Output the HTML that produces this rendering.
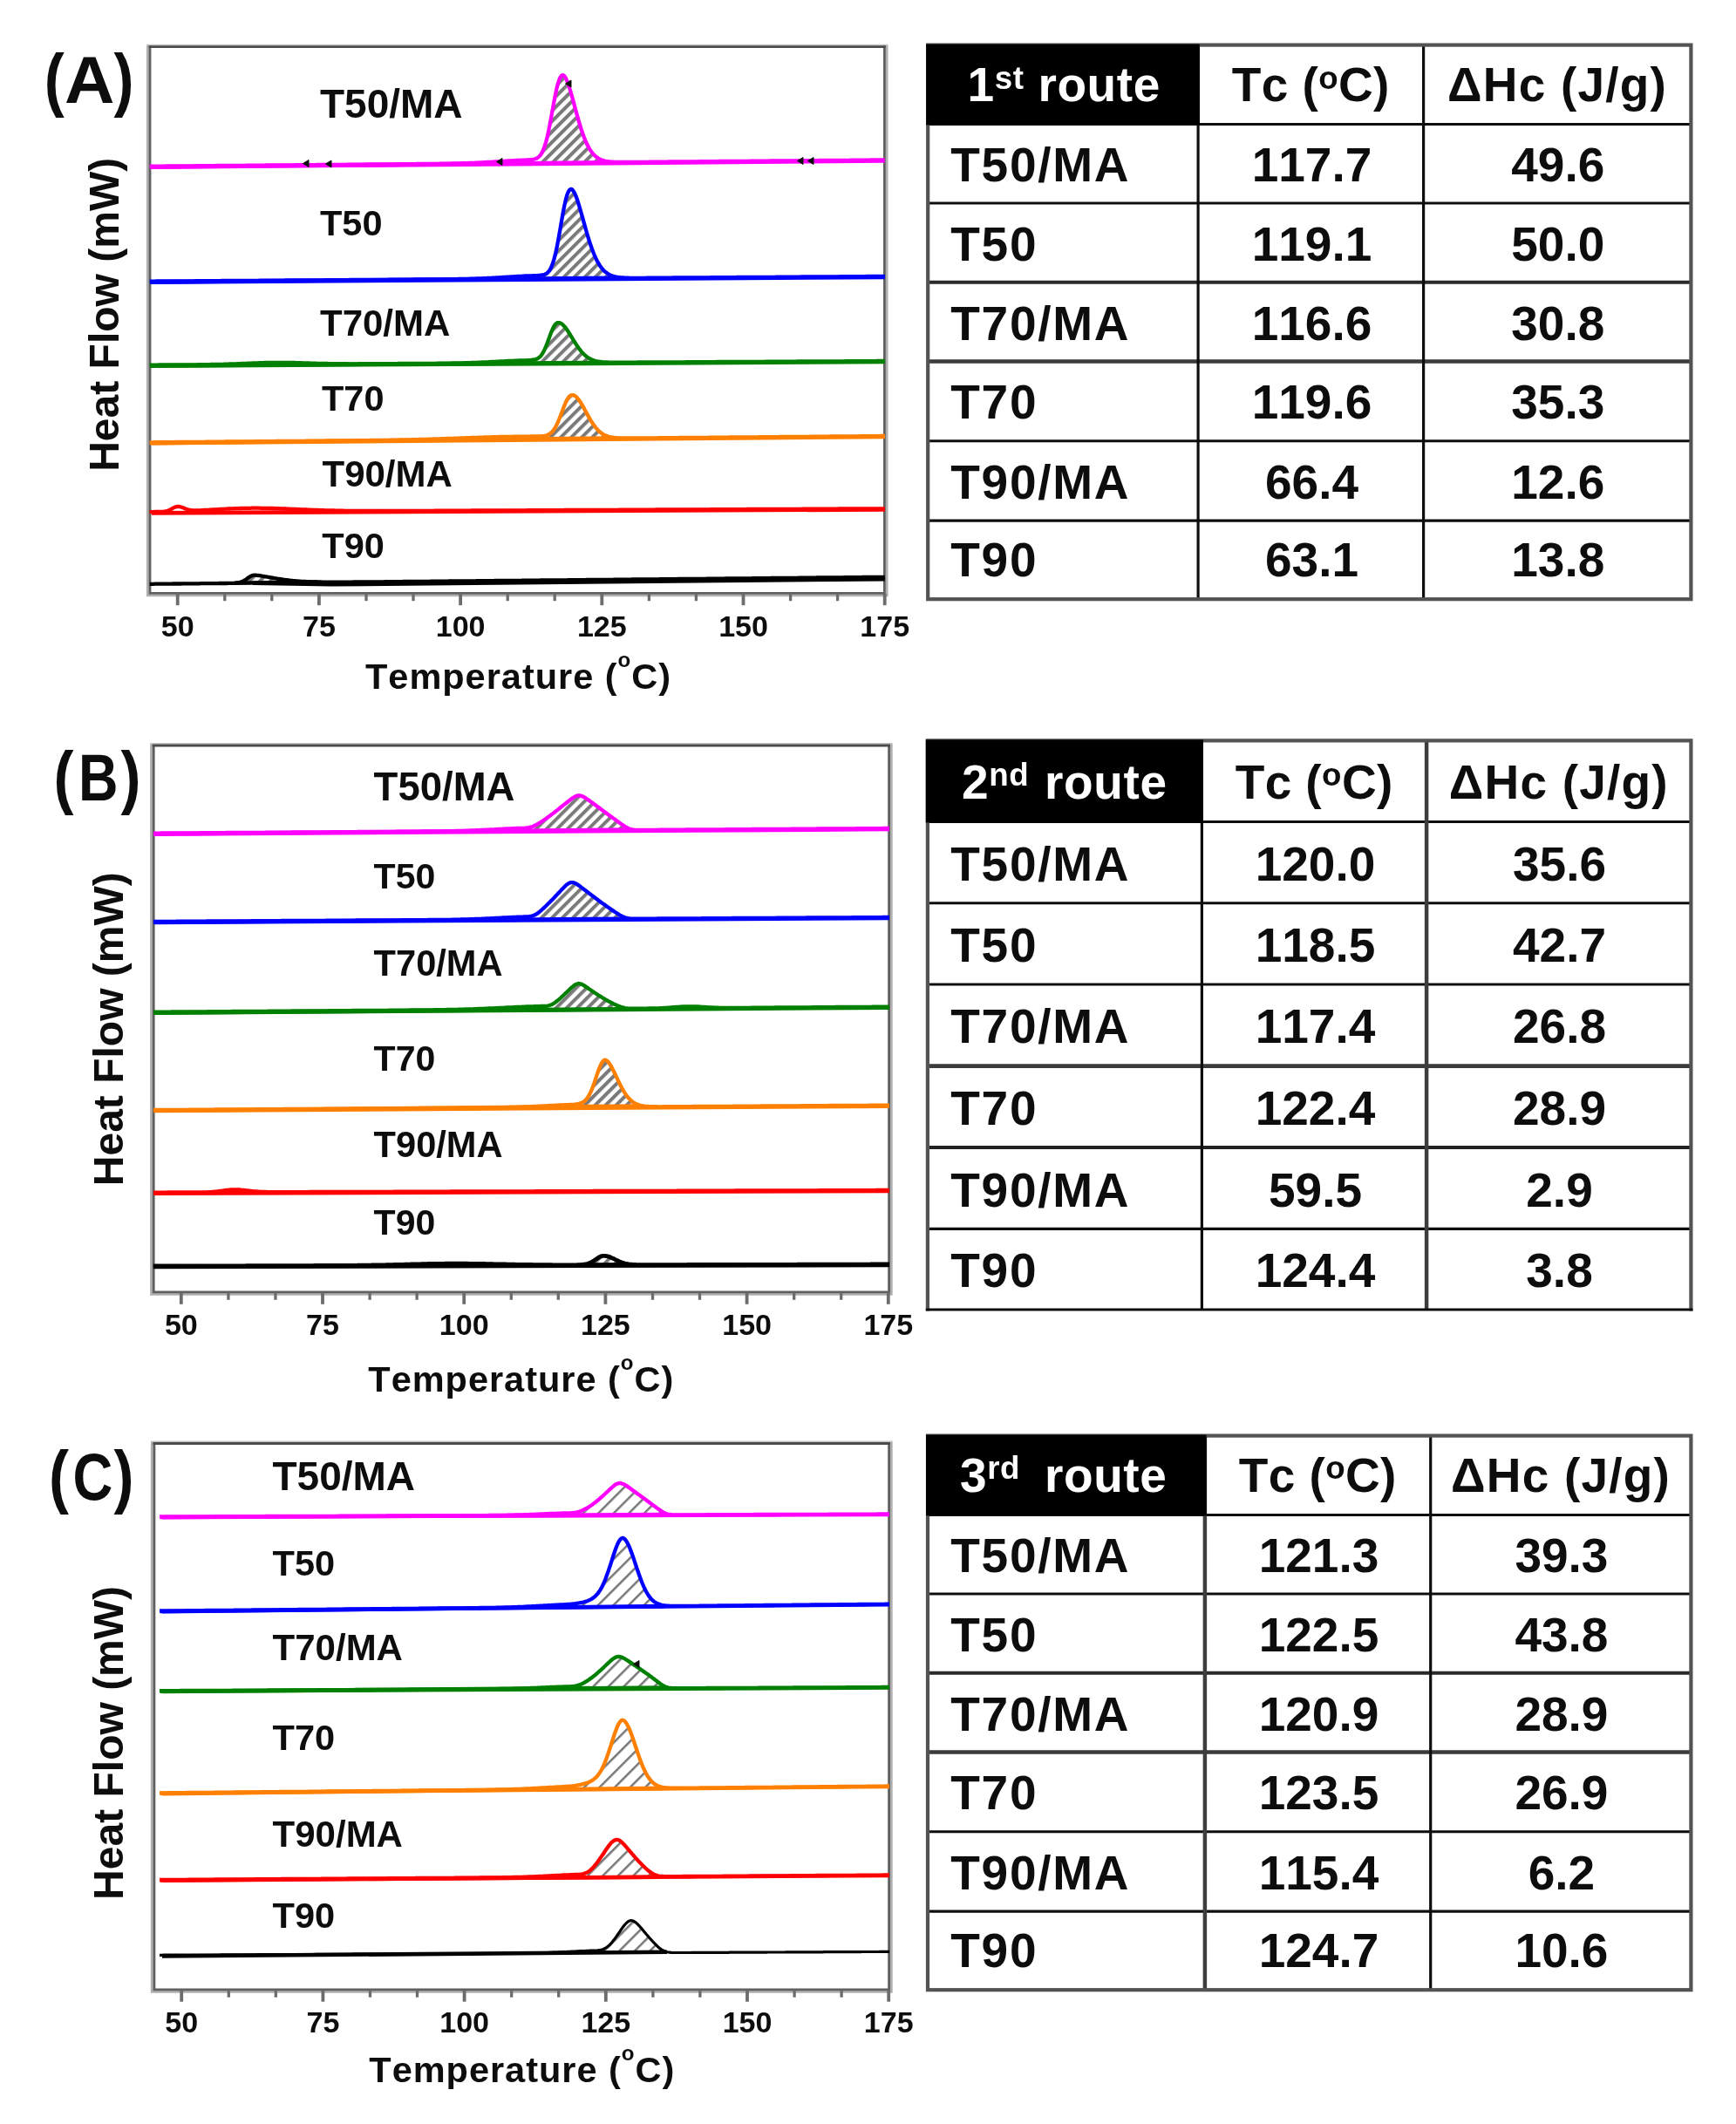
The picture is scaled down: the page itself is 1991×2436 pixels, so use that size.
<!DOCTYPE html>
<html lang="en"><head><meta charset="utf-8"><title>DSC cooling curves</title>
<style>html,body{margin:0;padding:0;background:#fff}body{width:1991px;height:2436px;overflow:hidden}svg{display:block}text{font-family:"Liberation Sans", Arial, Helvetica, sans-serif;fill:#111;font-kerning:none}.b{font-weight:700}.n{font-weight:400}.w{fill:#fff}.s1{letter-spacing:1.7px}.s4{letter-spacing:0.6px}.s2{letter-spacing:0.4px}.s3{letter-spacing:1.2px}</style></head><body>
<svg width="1991" height="2436" viewBox="0 0 1991 2436">
<defs><filter id="soft" x="-2%" y="-2%" width="104%" height="104%"><feGaussianBlur stdDeviation="0.7"/></filter><filter id="soft2" x="-2%" y="-2%" width="104%" height="104%"><feGaussianBlur stdDeviation="0.5"/></filter><pattern id="hatch" width="8.5" height="8.5" patternUnits="userSpaceOnUse" patternTransform="rotate(45)"><rect width="8.5" height="8.5" fill="#fff"/><rect x="0" y="0" width="4" height="8.5" fill="#7a7a7a"/></pattern><pattern id="hatch2" width="12.4" height="12.4" patternUnits="userSpaceOnUse" patternTransform="rotate(45)"><rect width="12.4" height="12.4" fill="#fff"/><rect x="0" y="0" width="2.5" height="12.4" fill="#777"/></pattern></defs>
<rect width="1991" height="2436" fill="#fff"/>
<g filter="url(#soft)">
<path d="M169.4 51.9 V682.7 H1017 V51.9" fill="none" stroke="#b0b0b0" stroke-width="3"/>
<path d="M172 52.1 V680.3 H1014.4 V52.1" fill="none" stroke="#606060" stroke-width="2.8"/>
<path d="M168 51.6 H1018.4" fill="none" stroke="#c4c4c4" stroke-width="1.6"/>
<path d="M170.6 53.7 H1015.8" fill="none" stroke="#4c4c4c" stroke-width="2.8"/>
<path d="M617.2 180.5 L618.7 179.2 L620.2 177.4 L621.7 174.9 L623.2 171.7 L624.7 167.6 L626.2 162.6 L627.7 156.7 L629.2 149.9 L630.7 142.3 L632.2 134.2 L633.7 125.9 L635.2 117.6 L636.7 109.8 L638.2 102.6 L639.7 96.6 L641.2 91.8 L642.7 88.5 L644.2 86.6 L645.7 86.1 L647.2 87 L648.7 89.3 L650.2 92.5 L651.7 96.4 L653.2 101 L654.7 106 L656.2 111.3 L657.7 116.8 L659.2 122.4 L660.7 128 L662.2 133.4 L663.7 138.7 L665.2 143.7 L666.7 148.5 L668.2 152.9 L669.7 157 L671.2 160.8 L672.7 164.2 L674.2 167.3 L675.7 170 L677.2 172.5 L678.7 174.6 L680.2 176.4 L681.7 178 L683.2 179.4 L684.7 180.6 L686.2 181.6 L687.7 182.4 L689.2 183.1 L690.7 183.7 L692.2 184.2 L693.7 184.6 L695.2 184.9 L696.7 185.1 L698.2 185.3 L699.7 185.5 L699.7 186.3 L617.2 187.1 Z" fill="url(#hatch)" stroke="none"/>
<path d="M174.6 191.5 L699.7 186.3" stroke="#ff00ff" stroke-width="4.6" fill="none"/>
<path d="M172.1 191.7 L1014.8 184.4" stroke="#ff00ff" stroke-width="4.6" fill="none"/>
<path d="M171.6 190.7 L173.1 190.7 L174.6 190.7 L176.1 190.7 L177.6 190.6 L179.1 190.6 L180.6 190.6 L182.1 190.6 L183.6 190.6 L185.1 190.6 L186.6 190.6 L188.1 190.6 L189.6 190.5 L191.1 190.5 L192.6 190.5 L194.1 190.5 L195.6 190.5 L197.1 190.5 L198.6 190.5 L200.1 190.5 L201.6 190.4 L203.1 190.4 L204.6 190.4 L206.1 190.4 L207.6 190.4 L209.1 190.4 L210.6 190.4 L212.1 190.3 L213.6 190.3 L215.1 190.3 L216.6 190.3 L218.1 190.3 L219.6 190.3 L221.1 190.3 L222.6 190.3 L224.1 190.2 L225.6 190.2 L227.1 190.2 L228.6 190.2 L230.1 190.2 L231.6 190.2 L233.1 190.2 L234.6 190.2 L236.1 190.1 L237.6 190.1 L239.1 190.1 L240.6 190.1 L242.1 190.1 L243.6 190.1 L245.1 190.1 L246.6 190.1 L248.1 190 L249.6 190 L251.1 190 L252.6 190 L254.1 190 L255.6 190 L257.1 190 L258.6 189.9 L260.1 189.9 L261.6 189.9 L263.1 189.9 L264.6 189.9 L266.1 189.9 L267.6 189.9 L269.1 189.9 L270.6 189.8 L272.1 189.8 L273.6 189.8 L275.1 189.8 L276.6 189.8 L278.1 189.8 L279.6 189.8 L281.1 189.8 L282.6 189.7 L284.1 189.7 L285.6 189.7 L287.1 189.7 L288.6 189.7 L290.1 189.7 L291.6 189.7 L293.1 189.6 L294.6 189.6 L296.1 189.6 L297.6 189.6 L299.1 189.6 L300.6 189.6 L302.1 189.6 L303.6 189.6 L305.1 189.5 L306.6 189.5 L308.1 189.5 L309.6 189.5 L311.1 189.5 L312.6 189.5 L314.1 189.5 L315.6 189.5 L317.1 189.4 L318.6 189.4 L320.1 189.4 L321.6 189.4 L323.1 189.4 L324.6 189.4 L326.1 189.4 L327.6 189.3 L329.1 189.3 L330.6 189.3 L332.1 189.3 L333.6 189.3 L335.1 189.3 L336.6 189.3 L338.1 189.3 L339.6 189.2 L341.1 189.2 L342.6 189.2 L344.1 189.2 L345.6 189.2 L347.1 189.2 L348.6 189.2 L350.1 189.2 L351.6 189.1 L353.1 189.1 L354.6 189.1 L356.1 189.1 L357.6 189.1 L359.1 189.1 L360.6 189.1 L362.1 189.1 L363.6 189 L365.1 189 L366.6 189 L368.1 189 L369.6 189 L371.1 189 L372.6 189 L374.1 188.9 L375.6 188.9 L377.1 188.9 L378.6 188.9 L380.1 188.9 L381.6 188.9 L383.2 188.9 L384.7 188.9 L386.2 188.8 L387.7 188.8 L389.2 188.8 L390.7 188.8 L392.2 188.8 L393.7 188.8 L395.2 188.8 L396.7 188.8 L398.2 188.7 L399.7 188.7 L401.2 188.7 L402.7 188.7 L404.2 188.7 L405.7 188.7 L407.2 188.7 L408.7 188.6 L410.2 188.6 L411.7 188.6 L413.2 188.6 L414.7 188.6 L416.2 188.6 L417.7 188.6 L419.2 188.6 L420.7 188.5 L422.2 188.5 L423.7 188.5 L425.2 188.5 L426.7 188.5 L428.2 188.5 L429.7 188.5 L431.2 188.5 L432.7 188.4 L434.2 188.4 L435.7 188.4 L437.2 188.4 L438.7 188.4 L440.2 188.4 L441.7 188.4 L443.2 188.3 L444.7 188.3 L446.2 188.3 L447.7 188.3 L449.2 188.3 L450.7 188.3 L452.2 188.3 L453.7 188.3 L455.2 188.2 L456.7 188.2 L458.2 188.2 L459.7 188.2 L461.2 188.2 L462.7 188.2 L464.2 188.2 L465.7 188.2 L467.2 188.1 L468.7 188.1 L470.2 188.1 L471.7 188.1 L473.2 188.1 L474.7 188.1 L476.2 188.1 L477.7 188 L479.2 188 L480.7 188 L482.2 188 L483.7 188 L485.2 188 L486.7 188 L488.2 187.9 L489.7 187.9 L491.2 187.9 L492.7 187.9 L494.2 187.9 L495.7 187.9 L497.2 187.8 L498.7 187.8 L500.2 187.8 L501.7 187.8 L503.2 187.8 L504.7 187.7 L506.2 187.7 L507.7 187.7 L509.2 187.7 L510.7 187.7 L512.2 187.6 L513.7 187.6 L515.2 187.6 L516.7 187.6 L518.2 187.5 L519.7 187.5 L521.2 187.5 L522.7 187.4 L524.2 187.4 L525.7 187.4 L527.2 187.3 L528.7 187.3 L530.2 187.2 L531.7 187.2 L533.2 187.2 L534.7 187.1 L536.2 187.1 L537.7 187 L539.2 186.9 L540.7 186.9 L542.2 186.8 L543.7 186.8 L545.2 186.7 L546.7 186.6 L548.2 186.6 L549.7 186.5 L551.2 186.4 L552.7 186.4 L554.2 186.3 L555.7 186.2 L557.2 186.1 L558.7 186 L560.2 185.9 L561.7 185.9 L563.2 185.8 L564.7 185.7 L566.2 185.6 L567.7 185.5 L569.2 185.4 L570.7 185.3 L572.2 185.2 L573.7 185.1 L575.2 185 L576.7 184.9 L578.2 184.8 L579.7 184.7 L581.2 184.6 L582.7 184.5 L584.2 184.4 L585.7 184.4 L587.2 184.3 L588.7 184.2 L590.2 184.1 L591.7 184 L593.2 183.9 L594.7 183.9 L596.2 183.8 L597.7 183.7 L599.2 183.7 L600.7 183.6 L602.2 183.6 L603.7 183.5 L605.2 183.4 L606.7 183.4 L608.2 183.2 L609.7 183.1 L611.2 182.8 L612.7 182.5 L614.2 182 L615.7 181.4 L617.2 180.5 L618.7 179.2 L620.2 177.4 L621.7 174.9 L623.2 171.7 L624.7 167.6 L626.2 162.6 L627.7 156.7 L629.2 149.9 L630.7 142.3 L632.2 134.2 L633.7 125.9 L635.2 117.6 L636.7 109.8 L638.2 102.6 L639.7 96.6 L641.2 91.8 L642.7 88.5 L644.2 86.6 L645.7 86.1 L647.2 87 L648.7 89.3 L650.2 92.5 L651.7 96.4 L653.2 101 L654.7 106 L656.2 111.3 L657.7 116.8 L659.2 122.4 L660.7 128 L662.2 133.4 L663.7 138.7 L665.2 143.7 L666.7 148.5 L668.2 152.9 L669.7 157 L671.2 160.8 L672.7 164.2 L674.2 167.3 L675.7 170 L677.2 172.5 L678.7 174.6 L680.2 176.4 L681.7 178 L683.2 179.4 L684.7 180.6 L686.2 181.6 L687.7 182.4 L689.2 183.1 L690.7 183.7 L692.2 184.2 L693.7 184.6 L695.2 184.9 L696.7 185.1 L698.2 185.3 L699.7 185.5 L701.2 185.6 L702.7 185.7 L704.2 185.8 L705.7 185.9 L707.2 185.9 L708.7 185.9 L710.2 185.9 L711.7 186 L713.2 186 L714.7 186 L716.2 186 L717.7 185.9 L719.2 185.9 L720.7 185.9 L722.2 185.9 L723.7 185.9 L725.2 185.9 L726.7 185.9 L728.2 185.9 L729.7 185.9 L731.2 185.9 L732.7 185.8 L734.2 185.8 L735.7 185.8 L737.2 185.8 L738.7 185.8 L740.2 185.8 L741.7 185.8 L743.2 185.8 L744.7 185.7 L746.2 185.7 L747.7 185.7 L749.2 185.7 L750.7 185.7 L752.2 185.7 L753.7 185.7 L755.2 185.6 L756.7 185.6 L758.2 185.6 L759.7 185.6 L761.2 185.6 L762.7 185.6 L764.2 185.6 L765.7 185.6 L767.2 185.5 L768.7 185.5 L770.2 185.5 L771.7 185.5 L773.2 185.5 L774.7 185.5 L776.2 185.5 L777.7 185.5 L779.2 185.4 L780.7 185.4 L782.2 185.4 L783.7 185.4 L785.2 185.4 L786.7 185.4 L788.2 185.4 L789.7 185.3 L791.2 185.3 L792.7 185.3 L794.2 185.3 L795.7 185.3 L797.2 185.3 L798.7 185.3 L800.2 185.3 L801.7 185.2 L803.2 185.2 L804.8 185.2 L806.3 185.2 L807.8 185.2 L809.3 185.2 L810.8 185.2 L812.3 185.2 L813.8 185.1 L815.3 185.1 L816.8 185.1 L818.3 185.1 L819.8 185.1 L821.3 185.1 L822.8 185.1 L824.3 185 L825.8 185 L827.3 185 L828.8 185 L830.3 185 L831.8 185 L833.3 185 L834.8 185 L836.3 184.9 L837.8 184.9 L839.3 184.9 L840.8 184.9 L842.3 184.9 L843.8 184.9 L845.3 184.9 L846.8 184.9 L848.3 184.8 L849.8 184.8 L851.3 184.8 L852.8 184.8 L854.3 184.8 L855.8 184.8 L857.3 184.8 L858.8 184.8 L860.3 184.7 L861.8 184.7 L863.3 184.7 L864.8 184.7 L866.3 184.7 L867.8 184.7 L869.3 184.7 L870.8 184.6 L872.3 184.6 L873.8 184.6 L875.3 184.6 L876.8 184.6 L878.3 184.6 L879.8 184.6 L881.3 184.6 L882.8 184.5 L884.3 184.5 L885.8 184.5 L887.3 184.5 L888.8 184.5 L890.3 184.5 L891.8 184.5 L893.3 184.5 L894.8 184.4 L896.3 184.4 L897.8 184.4 L899.3 184.4 L900.8 184.4 L902.3 184.4 L903.8 184.4 L905.3 184.3 L906.8 184.3 L908.3 184.3 L909.8 184.3 L911.3 184.3 L912.8 184.3 L914.3 184.3 L915.8 184.3 L917.3 184.2 L918.8 184.2 L920.3 184.2 L921.8 184.2 L923.3 184.2 L924.8 184.2 L926.3 184.2 L927.8 184.2 L929.3 184.1 L930.8 184.1 L932.3 184.1 L933.8 184.1 L935.3 184.1 L936.8 184.1 L938.3 184.1 L939.8 184 L941.3 184 L942.8 184 L944.3 184 L945.8 184 L947.3 184 L948.8 184 L950.3 184 L951.8 183.9 L953.3 183.9 L954.8 183.9 L956.3 183.9 L957.8 183.9 L959.3 183.9 L960.8 183.9 L962.3 183.9 L963.8 183.8 L965.3 183.8 L966.8 183.8 L968.3 183.8 L969.8 183.8 L971.3 183.8 L972.8 183.8 L974.3 183.8 L975.8 183.7 L977.3 183.7 L978.8 183.7 L980.3 183.7 L981.8 183.7 L983.3 183.7 L984.8 183.7 L986.3 183.6 L987.8 183.6 L989.3 183.6 L990.8 183.6 L992.3 183.6 L993.8 183.6 L995.3 183.6 L996.8 183.6 L998.3 183.5 L999.8 183.5 L1001.3 183.5 L1002.8 183.5 L1004.3 183.5 L1005.8 183.5 L1007.3 183.5 L1008.8 183.5 L1010.3 183.4 L1011.8 183.4 L1013.3 183.4 L1014.8 183.4" fill="none" stroke="#ff00ff" stroke-width="4.3" stroke-linejoin="round"/>
<path d="M623.2 315.2 L624.7 314.7 L626.2 314.1 L627.7 313.1 L629.2 311.6 L630.7 309.5 L632.2 306.6 L633.7 302.8 L635.2 298.1 L636.7 292.4 L638.2 285.8 L639.7 278.2 L641.2 270 L642.7 261.4 L644.2 252.6 L645.7 244.2 L647.2 236.4 L648.7 229.6 L650.2 224.1 L651.7 220.2 L653.2 217.8 L654.7 216.9 L656.2 217.4 L657.7 219.2 L659.2 221.9 L660.7 225.5 L662.2 229.6 L663.7 234.3 L665.2 239.3 L666.7 244.5 L668.2 249.9 L669.7 255.3 L671.2 260.7 L672.7 266 L674.2 271.1 L675.7 275.9 L677.2 280.5 L678.7 284.8 L680.2 288.8 L681.7 292.5 L683.2 295.9 L684.7 299 L686.2 301.7 L687.7 304.2 L689.2 306.3 L690.7 308.2 L692.2 309.9 L693.7 311.4 L695.2 312.6 L696.7 313.7 L698.2 314.6 L699.7 315.4 L701.2 316 L702.7 316.6 L704.2 317 L705.7 317.4 L707.2 317.7 L708.7 317.9 L708.7 318.7 L623.2 319.5 Z" fill="url(#hatch)" stroke="none"/>
<path d="M174.6 323.4 L708.7 318.7" stroke="#0000ff" stroke-width="4.6" fill="none"/>
<path d="M172.1 323.6 L1014.8 317.9" stroke="#0000ff" stroke-width="4.6" fill="none"/>
<path d="M171.6 322.6 L173.1 322.6 L174.6 322.6 L176.1 322.6 L177.6 322.6 L179.1 322.5 L180.6 322.5 L182.1 322.5 L183.6 322.5 L185.1 322.5 L186.6 322.5 L188.1 322.5 L189.6 322.5 L191.1 322.5 L192.6 322.5 L194.1 322.4 L195.6 322.4 L197.1 322.4 L198.6 322.4 L200.1 322.4 L201.6 322.4 L203.1 322.4 L204.6 322.4 L206.1 322.4 L207.6 322.4 L209.1 322.3 L210.6 322.3 L212.1 322.3 L213.6 322.3 L215.1 322.3 L216.6 322.3 L218.1 322.3 L219.6 322.3 L221.1 322.3 L222.6 322.3 L224.1 322.2 L225.6 322.2 L227.1 322.2 L228.6 322.2 L230.1 322.2 L231.6 322.2 L233.1 322.2 L234.6 322.2 L236.1 322.2 L237.6 322.2 L239.1 322.1 L240.6 322.1 L242.1 322.1 L243.6 322.1 L245.1 322.1 L246.6 322.1 L248.1 322.1 L249.6 322.1 L251.1 322.1 L252.6 322.1 L254.1 322 L255.6 322 L257.1 322 L258.6 322 L260.1 322 L261.6 322 L263.1 322 L264.6 322 L266.1 322 L267.6 322 L269.1 321.9 L270.6 321.9 L272.1 321.9 L273.6 321.9 L275.1 321.9 L276.6 321.9 L278.1 321.9 L279.6 321.9 L281.1 321.9 L282.6 321.8 L284.1 321.8 L285.6 321.8 L287.1 321.8 L288.6 321.8 L290.1 321.8 L291.6 321.8 L293.1 321.8 L294.6 321.8 L296.1 321.8 L297.6 321.7 L299.1 321.7 L300.6 321.7 L302.1 321.7 L303.6 321.7 L305.1 321.7 L306.6 321.7 L308.1 321.7 L309.6 321.7 L311.1 321.7 L312.6 321.6 L314.1 321.6 L315.6 321.6 L317.1 321.6 L318.6 321.6 L320.1 321.6 L321.6 321.6 L323.1 321.6 L324.6 321.6 L326.1 321.6 L327.6 321.5 L329.1 321.5 L330.6 321.5 L332.1 321.5 L333.6 321.5 L335.1 321.5 L336.6 321.5 L338.1 321.5 L339.6 321.5 L341.1 321.5 L342.6 321.4 L344.1 321.4 L345.6 321.4 L347.1 321.4 L348.6 321.4 L350.1 321.4 L351.6 321.4 L353.1 321.4 L354.6 321.4 L356.1 321.4 L357.6 321.3 L359.1 321.3 L360.6 321.3 L362.1 321.3 L363.6 321.3 L365.1 321.3 L366.6 321.3 L368.1 321.3 L369.6 321.3 L371.1 321.3 L372.6 321.2 L374.1 321.2 L375.6 321.2 L377.1 321.2 L378.6 321.2 L380.1 321.2 L381.6 321.2 L383.2 321.2 L384.7 321.2 L386.2 321.1 L387.7 321.1 L389.2 321.1 L390.7 321.1 L392.2 321.1 L393.7 321.1 L395.2 321.1 L396.7 321.1 L398.2 321.1 L399.7 321.1 L401.2 321 L402.7 321 L404.2 321 L405.7 321 L407.2 321 L408.7 321 L410.2 321 L411.7 321 L413.2 321 L414.7 321 L416.2 320.9 L417.7 320.9 L419.2 320.9 L420.7 320.9 L422.2 320.9 L423.7 320.9 L425.2 320.9 L426.7 320.9 L428.2 320.9 L429.7 320.9 L431.2 320.8 L432.7 320.8 L434.2 320.8 L435.7 320.8 L437.2 320.8 L438.7 320.8 L440.2 320.8 L441.7 320.8 L443.2 320.8 L444.7 320.8 L446.2 320.7 L447.7 320.7 L449.2 320.7 L450.7 320.7 L452.2 320.7 L453.7 320.7 L455.2 320.7 L456.7 320.7 L458.2 320.7 L459.7 320.7 L461.2 320.6 L462.7 320.6 L464.2 320.6 L465.7 320.6 L467.2 320.6 L468.7 320.6 L470.2 320.6 L471.7 320.6 L473.2 320.6 L474.7 320.5 L476.2 320.5 L477.7 320.5 L479.2 320.5 L480.7 320.5 L482.2 320.5 L483.7 320.5 L485.2 320.5 L486.7 320.5 L488.2 320.5 L489.7 320.4 L491.2 320.4 L492.7 320.4 L494.2 320.4 L495.7 320.4 L497.2 320.4 L498.7 320.4 L500.2 320.4 L501.7 320.3 L503.2 320.3 L504.7 320.3 L506.2 320.3 L507.7 320.3 L509.2 320.3 L510.7 320.2 L512.2 320.2 L513.7 320.2 L515.2 320.2 L516.7 320.2 L518.2 320.2 L519.7 320.1 L521.2 320.1 L522.7 320.1 L524.2 320.1 L525.7 320 L527.2 320 L528.7 320 L530.2 320 L531.7 319.9 L533.2 319.9 L534.7 319.9 L536.2 319.8 L537.7 319.8 L539.2 319.7 L540.7 319.7 L542.2 319.7 L543.7 319.6 L545.2 319.6 L546.7 319.5 L548.2 319.5 L549.7 319.4 L551.2 319.3 L552.7 319.3 L554.2 319.2 L555.7 319.2 L557.2 319.1 L558.7 319 L560.2 318.9 L561.7 318.9 L563.2 318.8 L564.7 318.7 L566.2 318.6 L567.7 318.6 L569.2 318.5 L570.7 318.4 L572.2 318.3 L573.7 318.2 L575.2 318.1 L576.7 318 L578.2 317.9 L579.7 317.8 L581.2 317.7 L582.7 317.6 L584.2 317.6 L585.7 317.5 L587.2 317.4 L588.7 317.3 L590.2 317.2 L591.7 317.1 L593.2 317 L594.7 316.9 L596.2 316.8 L597.7 316.8 L599.2 316.7 L600.7 316.6 L602.2 316.5 L603.7 316.5 L605.2 316.4 L606.7 316.4 L608.2 316.3 L609.7 316.3 L611.2 316.2 L612.7 316.2 L614.2 316.1 L615.7 316.1 L617.2 316 L618.7 315.9 L620.2 315.7 L621.7 315.5 L623.2 315.2 L624.7 314.7 L626.2 314.1 L627.7 313.1 L629.2 311.6 L630.7 309.5 L632.2 306.6 L633.7 302.8 L635.2 298.1 L636.7 292.4 L638.2 285.8 L639.7 278.2 L641.2 270 L642.7 261.4 L644.2 252.6 L645.7 244.2 L647.2 236.4 L648.7 229.6 L650.2 224.1 L651.7 220.2 L653.2 217.8 L654.7 216.9 L656.2 217.4 L657.7 219.2 L659.2 221.9 L660.7 225.5 L662.2 229.6 L663.7 234.3 L665.2 239.3 L666.7 244.5 L668.2 249.9 L669.7 255.3 L671.2 260.7 L672.7 266 L674.2 271.1 L675.7 275.9 L677.2 280.5 L678.7 284.8 L680.2 288.8 L681.7 292.5 L683.2 295.9 L684.7 299 L686.2 301.7 L687.7 304.2 L689.2 306.3 L690.7 308.2 L692.2 309.9 L693.7 311.4 L695.2 312.6 L696.7 313.7 L698.2 314.6 L699.7 315.4 L701.2 316 L702.7 316.6 L704.2 317 L705.7 317.4 L707.2 317.7 L708.7 317.9 L710.2 318.1 L711.7 318.3 L713.2 318.4 L714.7 318.5 L716.2 318.6 L717.7 318.7 L719.2 318.7 L720.7 318.7 L722.2 318.8 L723.7 318.8 L725.2 318.8 L726.7 318.8 L728.2 318.8 L729.7 318.8 L731.2 318.8 L732.7 318.8 L734.2 318.8 L735.7 318.8 L737.2 318.8 L738.7 318.8 L740.2 318.8 L741.7 318.7 L743.2 318.7 L744.7 318.7 L746.2 318.7 L747.7 318.7 L749.2 318.7 L750.7 318.7 L752.2 318.7 L753.7 318.7 L755.2 318.7 L756.7 318.6 L758.2 318.6 L759.7 318.6 L761.2 318.6 L762.7 318.6 L764.2 318.6 L765.7 318.6 L767.2 318.6 L768.7 318.6 L770.2 318.6 L771.7 318.5 L773.2 318.5 L774.7 318.5 L776.2 318.5 L777.7 318.5 L779.2 318.5 L780.7 318.5 L782.2 318.5 L783.7 318.5 L785.2 318.5 L786.7 318.4 L788.2 318.4 L789.7 318.4 L791.2 318.4 L792.7 318.4 L794.2 318.4 L795.7 318.4 L797.2 318.4 L798.7 318.4 L800.2 318.4 L801.7 318.3 L803.2 318.3 L804.8 318.3 L806.3 318.3 L807.8 318.3 L809.3 318.3 L810.8 318.3 L812.3 318.3 L813.8 318.3 L815.3 318.2 L816.8 318.2 L818.3 318.2 L819.8 318.2 L821.3 318.2 L822.8 318.2 L824.3 318.2 L825.8 318.2 L827.3 318.2 L828.8 318.2 L830.3 318.1 L831.8 318.1 L833.3 318.1 L834.8 318.1 L836.3 318.1 L837.8 318.1 L839.3 318.1 L840.8 318.1 L842.3 318.1 L843.8 318.1 L845.3 318 L846.8 318 L848.3 318 L849.8 318 L851.3 318 L852.8 318 L854.3 318 L855.8 318 L857.3 318 L858.8 318 L860.3 317.9 L861.8 317.9 L863.3 317.9 L864.8 317.9 L866.3 317.9 L867.8 317.9 L869.3 317.9 L870.8 317.9 L872.3 317.9 L873.8 317.9 L875.3 317.8 L876.8 317.8 L878.3 317.8 L879.8 317.8 L881.3 317.8 L882.8 317.8 L884.3 317.8 L885.8 317.8 L887.3 317.8 L888.8 317.8 L890.3 317.7 L891.8 317.7 L893.3 317.7 L894.8 317.7 L896.3 317.7 L897.8 317.7 L899.3 317.7 L900.8 317.7 L902.3 317.7 L903.8 317.7 L905.3 317.6 L906.8 317.6 L908.3 317.6 L909.8 317.6 L911.3 317.6 L912.8 317.6 L914.3 317.6 L915.8 317.6 L917.3 317.6 L918.8 317.5 L920.3 317.5 L921.8 317.5 L923.3 317.5 L924.8 317.5 L926.3 317.5 L927.8 317.5 L929.3 317.5 L930.8 317.5 L932.3 317.5 L933.8 317.4 L935.3 317.4 L936.8 317.4 L938.3 317.4 L939.8 317.4 L941.3 317.4 L942.8 317.4 L944.3 317.4 L945.8 317.4 L947.3 317.4 L948.8 317.3 L950.3 317.3 L951.8 317.3 L953.3 317.3 L954.8 317.3 L956.3 317.3 L957.8 317.3 L959.3 317.3 L960.8 317.3 L962.3 317.3 L963.8 317.2 L965.3 317.2 L966.8 317.2 L968.3 317.2 L969.8 317.2 L971.3 317.2 L972.8 317.2 L974.3 317.2 L975.8 317.2 L977.3 317.2 L978.8 317.1 L980.3 317.1 L981.8 317.1 L983.3 317.1 L984.8 317.1 L986.3 317.1 L987.8 317.1 L989.3 317.1 L990.8 317.1 L992.3 317.1 L993.8 317 L995.3 317 L996.8 317 L998.3 317 L999.8 317 L1001.3 317 L1002.8 317 L1004.3 317 L1005.8 317 L1007.3 317 L1008.8 316.9 L1010.3 316.9 L1011.8 316.9 L1013.3 316.9 L1014.8 316.9" fill="none" stroke="#0000ff" stroke-width="4.3" stroke-linejoin="round"/>
<path d="M615.7 411.6 L617.2 410.8 L618.7 409.7 L620.2 408.2 L621.7 406.2 L623.2 403.7 L624.7 400.6 L626.2 397.1 L627.7 393.3 L629.2 389.2 L630.7 385 L632.2 381.1 L633.7 377.5 L635.2 374.5 L636.7 372.2 L638.2 370.7 L639.7 370.1 L641.2 370.1 L642.7 370.5 L644.2 371.4 L645.7 372.7 L647.2 374.2 L648.7 376 L650.2 378.1 L651.7 380.3 L653.2 382.7 L654.7 385.1 L656.2 387.6 L657.7 390.1 L659.2 392.5 L660.7 394.8 L662.2 397.1 L663.7 399.2 L665.2 401.2 L666.7 403.1 L668.2 404.8 L669.7 406.3 L671.2 407.7 L672.7 408.9 L674.2 410 L675.7 410.9 L677.2 411.8 L678.7 412.5 L680.2 413.1 L681.7 413.6 L683.2 414 L684.7 414.3 L686.2 414.6 L687.7 414.9 L689.2 415 L690.7 415.2 L690.7 416 L615.7 416.5 Z" fill="url(#hatch)" stroke="none"/>
<path d="M174.6 419.4 L690.7 416" stroke="#008000" stroke-width="4.6" fill="none"/>
<path d="M172.1 419.6 L1014.8 415" stroke="#008000" stroke-width="4.6" fill="none"/>
<path d="M171.6 418.6 L173.1 418.6 L174.6 418.6 L176.1 418.6 L177.6 418.6 L179.1 418.6 L180.6 418.6 L182.1 418.5 L183.6 418.5 L185.1 418.5 L186.6 418.5 L188.1 418.5 L189.6 418.5 L191.1 418.5 L192.6 418.5 L194.1 418.5 L195.6 418.5 L197.1 418.5 L198.6 418.4 L200.1 418.4 L201.6 418.4 L203.1 418.4 L204.6 418.4 L206.1 418.4 L207.6 418.4 L209.1 418.4 L210.6 418.4 L212.1 418.4 L213.6 418.4 L215.1 418.3 L216.6 418.3 L218.1 418.3 L219.6 418.3 L221.1 418.3 L222.6 418.3 L224.1 418.3 L225.6 418.3 L227.1 418.2 L228.6 418.2 L230.1 418.2 L231.6 418.2 L233.1 418.2 L234.6 418.2 L236.1 418.1 L237.6 418.1 L239.1 418.1 L240.6 418.1 L242.1 418 L243.6 418 L245.1 418 L246.6 418 L248.1 417.9 L249.6 417.9 L251.1 417.9 L252.6 417.8 L254.1 417.8 L255.6 417.8 L257.1 417.7 L258.6 417.7 L260.1 417.6 L261.6 417.6 L263.1 417.5 L264.6 417.5 L266.1 417.4 L267.6 417.4 L269.1 417.3 L270.6 417.3 L272.1 417.2 L273.6 417.2 L275.1 417.1 L276.6 417 L278.1 417 L279.6 416.9 L281.1 416.9 L282.6 416.8 L284.1 416.7 L285.6 416.7 L287.1 416.6 L288.6 416.6 L290.1 416.5 L291.6 416.4 L293.1 416.4 L294.6 416.3 L296.1 416.3 L297.6 416.2 L299.1 416.2 L300.6 416.1 L302.1 416.1 L303.6 416 L305.1 416 L306.6 416 L308.1 415.9 L309.6 415.9 L311.1 415.9 L312.6 415.8 L314.1 415.8 L315.6 415.8 L317.1 415.8 L318.6 415.8 L320.1 415.8 L321.6 415.8 L323.1 415.8 L324.6 415.8 L326.1 415.8 L327.6 415.8 L329.1 415.9 L330.6 415.9 L332.1 415.9 L333.6 415.9 L335.1 416 L336.6 416 L338.1 416 L339.6 416.1 L341.1 416.1 L342.6 416.2 L344.1 416.2 L345.6 416.2 L347.1 416.3 L348.6 416.3 L350.1 416.4 L351.6 416.4 L353.1 416.5 L354.6 416.5 L356.1 416.6 L357.6 416.6 L359.1 416.7 L360.6 416.7 L362.1 416.7 L363.6 416.8 L365.1 416.8 L366.6 416.8 L368.1 416.9 L369.6 416.9 L371.1 416.9 L372.6 417 L374.1 417 L375.6 417 L377.1 417.1 L378.6 417.1 L380.1 417.1 L381.6 417.1 L383.2 417.1 L384.7 417.2 L386.2 417.2 L387.7 417.2 L389.2 417.2 L390.7 417.2 L392.2 417.2 L393.7 417.2 L395.2 417.2 L396.7 417.2 L398.2 417.2 L399.7 417.3 L401.2 417.3 L402.7 417.3 L404.2 417.3 L405.7 417.3 L407.2 417.3 L408.7 417.3 L410.2 417.3 L411.7 417.2 L413.2 417.2 L414.7 417.2 L416.2 417.2 L417.7 417.2 L419.2 417.2 L420.7 417.2 L422.2 417.2 L423.7 417.2 L425.2 417.2 L426.7 417.2 L428.2 417.2 L429.7 417.2 L431.2 417.2 L432.7 417.2 L434.2 417.2 L435.7 417.2 L437.2 417.1 L438.7 417.1 L440.2 417.1 L441.7 417.1 L443.2 417.1 L444.7 417.1 L446.2 417.1 L447.7 417.1 L449.2 417.1 L450.7 417.1 L452.2 417.1 L453.7 417.1 L455.2 417.1 L456.7 417 L458.2 417 L459.7 417 L461.2 417 L462.7 417 L464.2 417 L465.7 417 L467.2 417 L468.7 417 L470.2 417 L471.7 417 L473.2 416.9 L474.7 416.9 L476.2 416.9 L477.7 416.9 L479.2 416.9 L480.7 416.9 L482.2 416.9 L483.7 416.9 L485.2 416.9 L486.7 416.9 L488.2 416.9 L489.7 416.8 L491.2 416.8 L492.7 416.8 L494.2 416.8 L495.7 416.8 L497.2 416.8 L498.7 416.8 L500.2 416.8 L501.7 416.7 L503.2 416.7 L504.7 416.7 L506.2 416.7 L507.7 416.7 L509.2 416.7 L510.7 416.6 L512.2 416.6 L513.7 416.6 L515.2 416.6 L516.7 416.6 L518.2 416.5 L519.7 416.5 L521.2 416.5 L522.7 416.5 L524.2 416.4 L525.7 416.4 L527.2 416.4 L528.7 416.3 L530.2 416.3 L531.7 416.3 L533.2 416.2 L534.7 416.2 L536.2 416.1 L537.7 416.1 L539.2 416.1 L540.7 416 L542.2 416 L543.7 415.9 L545.2 415.8 L546.7 415.8 L548.2 415.7 L549.7 415.7 L551.2 415.6 L552.7 415.5 L554.2 415.5 L555.7 415.4 L557.2 415.3 L558.7 415.3 L560.2 415.2 L561.7 415.1 L563.2 415 L564.7 415 L566.2 414.9 L567.7 414.8 L569.2 414.7 L570.7 414.7 L572.2 414.6 L573.7 414.5 L575.2 414.4 L576.7 414.3 L578.2 414.3 L579.7 414.2 L581.2 414.1 L582.7 414 L584.2 414 L585.7 413.9 L587.2 413.8 L588.7 413.8 L590.2 413.7 L591.7 413.6 L593.2 413.6 L594.7 413.5 L596.2 413.5 L597.7 413.4 L599.2 413.4 L600.7 413.3 L602.2 413.3 L603.7 413.3 L605.2 413.2 L606.7 413.1 L608.2 413.1 L609.7 412.9 L611.2 412.7 L612.7 412.5 L614.2 412.1 L615.7 411.6 L617.2 410.8 L618.7 409.7 L620.2 408.2 L621.7 406.2 L623.2 403.7 L624.7 400.6 L626.2 397.1 L627.7 393.3 L629.2 389.2 L630.7 385 L632.2 381.1 L633.7 377.5 L635.2 374.5 L636.7 372.2 L638.2 370.7 L639.7 370.1 L641.2 370.1 L642.7 370.5 L644.2 371.4 L645.7 372.7 L647.2 374.2 L648.7 376 L650.2 378.1 L651.7 380.3 L653.2 382.7 L654.7 385.1 L656.2 387.6 L657.7 390.1 L659.2 392.5 L660.7 394.8 L662.2 397.1 L663.7 399.2 L665.2 401.2 L666.7 403.1 L668.2 404.8 L669.7 406.3 L671.2 407.7 L672.7 408.9 L674.2 410 L675.7 410.9 L677.2 411.8 L678.7 412.5 L680.2 413.1 L681.7 413.6 L683.2 414 L684.7 414.3 L686.2 414.6 L687.7 414.9 L689.2 415 L690.7 415.2 L692.2 415.3 L693.7 415.4 L695.2 415.5 L696.7 415.5 L698.2 415.6 L699.7 415.6 L701.2 415.6 L702.7 415.6 L704.2 415.6 L705.7 415.7 L707.2 415.7 L708.7 415.7 L710.2 415.6 L711.7 415.6 L713.2 415.6 L714.7 415.6 L716.2 415.6 L717.7 415.6 L719.2 415.6 L720.7 415.6 L722.2 415.6 L723.7 415.6 L725.2 415.6 L726.7 415.6 L728.2 415.6 L729.7 415.6 L731.2 415.5 L732.7 415.5 L734.2 415.5 L735.7 415.5 L737.2 415.5 L738.7 415.5 L740.2 415.5 L741.7 415.5 L743.2 415.5 L744.7 415.5 L746.2 415.5 L747.7 415.5 L749.2 415.4 L750.7 415.4 L752.2 415.4 L753.7 415.4 L755.2 415.4 L756.7 415.4 L758.2 415.4 L759.7 415.4 L761.2 415.4 L762.7 415.4 L764.2 415.4 L765.7 415.4 L767.2 415.4 L768.7 415.3 L770.2 415.3 L771.7 415.3 L773.2 415.3 L774.7 415.3 L776.2 415.3 L777.7 415.3 L779.2 415.3 L780.7 415.3 L782.2 415.3 L783.7 415.3 L785.2 415.3 L786.7 415.2 L788.2 415.2 L789.7 415.2 L791.2 415.2 L792.7 415.2 L794.2 415.2 L795.7 415.2 L797.2 415.2 L798.7 415.2 L800.2 415.2 L801.7 415.2 L803.2 415.2 L804.8 415.1 L806.3 415.1 L807.8 415.1 L809.3 415.1 L810.8 415.1 L812.3 415.1 L813.8 415.1 L815.3 415.1 L816.8 415.1 L818.3 415.1 L819.8 415.1 L821.3 415.1 L822.8 415 L824.3 415 L825.8 415 L827.3 415 L828.8 415 L830.3 415 L831.8 415 L833.3 415 L834.8 415 L836.3 415 L837.8 415 L839.3 415 L840.8 414.9 L842.3 414.9 L843.8 414.9 L845.3 414.9 L846.8 414.9 L848.3 414.9 L849.8 414.9 L851.3 414.9 L852.8 414.9 L854.3 414.9 L855.8 414.9 L857.3 414.9 L858.8 414.9 L860.3 414.8 L861.8 414.8 L863.3 414.8 L864.8 414.8 L866.3 414.8 L867.8 414.8 L869.3 414.8 L870.8 414.8 L872.3 414.8 L873.8 414.8 L875.3 414.8 L876.8 414.8 L878.3 414.7 L879.8 414.7 L881.3 414.7 L882.8 414.7 L884.3 414.7 L885.8 414.7 L887.3 414.7 L888.8 414.7 L890.3 414.7 L891.8 414.7 L893.3 414.7 L894.8 414.7 L896.3 414.6 L897.8 414.6 L899.3 414.6 L900.8 414.6 L902.3 414.6 L903.8 414.6 L905.3 414.6 L906.8 414.6 L908.3 414.6 L909.8 414.6 L911.3 414.6 L912.8 414.6 L914.3 414.5 L915.8 414.5 L917.3 414.5 L918.8 414.5 L920.3 414.5 L921.8 414.5 L923.3 414.5 L924.8 414.5 L926.3 414.5 L927.8 414.5 L929.3 414.5 L930.8 414.5 L932.3 414.5 L933.8 414.4 L935.3 414.4 L936.8 414.4 L938.3 414.4 L939.8 414.4 L941.3 414.4 L942.8 414.4 L944.3 414.4 L945.8 414.4 L947.3 414.4 L948.8 414.4 L950.3 414.4 L951.8 414.3 L953.3 414.3 L954.8 414.3 L956.3 414.3 L957.8 414.3 L959.3 414.3 L960.8 414.3 L962.3 414.3 L963.8 414.3 L965.3 414.3 L966.8 414.3 L968.3 414.3 L969.8 414.2 L971.3 414.2 L972.8 414.2 L974.3 414.2 L975.8 414.2 L977.3 414.2 L978.8 414.2 L980.3 414.2 L981.8 414.2 L983.3 414.2 L984.8 414.2 L986.3 414.2 L987.8 414.1 L989.3 414.1 L990.8 414.1 L992.3 414.1 L993.8 414.1 L995.3 414.1 L996.8 414.1 L998.3 414.1 L999.8 414.1 L1001.3 414.1 L1002.8 414.1 L1004.3 414.1 L1005.8 414 L1007.3 414 L1008.8 414 L1010.3 414 L1011.8 414 L1013.3 414 L1014.8 414" fill="none" stroke="#008000" stroke-width="4.3" stroke-linejoin="round"/>
<path d="M629.2 498.3 L630.7 497.4 L632.2 496.3 L633.7 494.8 L635.2 492.9 L636.7 490.5 L638.2 487.8 L639.7 484.6 L641.2 481 L642.7 477.2 L644.2 473.2 L645.7 469.2 L647.2 465.3 L648.7 461.8 L650.2 458.7 L651.7 456.3 L653.2 454.5 L654.7 453.4 L656.2 453.1 L657.7 453.2 L659.2 453.9 L660.7 455 L662.2 456.5 L663.7 458.4 L665.2 460.5 L666.7 462.9 L668.2 465.4 L669.7 468.1 L671.2 470.9 L672.7 473.6 L674.2 476.4 L675.7 479 L677.2 481.6 L678.7 484 L680.2 486.3 L681.7 488.4 L683.2 490.3 L684.7 492.1 L686.2 493.7 L687.7 495.1 L689.2 496.3 L690.7 497.4 L692.2 498.3 L693.7 499.1 L695.2 499.7 L696.7 500.3 L698.2 500.8 L699.7 501.2 L701.2 501.5 L702.7 501.7 L702.7 502.5 L629.2 503.3 Z" fill="url(#hatch)" stroke="none"/>
<path d="M174.6 508.1 L702.7 502.5" stroke="#ff8000" stroke-width="4.6" fill="none"/>
<path d="M172.1 508.3 L1014.8 501" stroke="#ff8000" stroke-width="4.6" fill="none"/>
<path d="M171.6 507.3 L173.1 507.3 L174.6 507.3 L176.1 507.3 L177.6 507.2 L179.1 507.2 L180.6 507.2 L182.1 507.2 L183.6 507.2 L185.1 507.2 L186.6 507.2 L188.1 507.2 L189.6 507.1 L191.1 507.1 L192.6 507.1 L194.1 507.1 L195.6 507.1 L197.1 507.1 L198.6 507.1 L200.1 507.1 L201.6 507 L203.1 507 L204.6 507 L206.1 507 L207.6 507 L209.1 507 L210.6 507 L212.1 506.9 L213.6 506.9 L215.1 506.9 L216.6 506.9 L218.1 506.9 L219.6 506.9 L221.1 506.9 L222.6 506.9 L224.1 506.8 L225.6 506.8 L227.1 506.8 L228.6 506.8 L230.1 506.8 L231.6 506.8 L233.1 506.8 L234.6 506.8 L236.1 506.7 L237.6 506.7 L239.1 506.7 L240.6 506.7 L242.1 506.7 L243.6 506.7 L245.1 506.7 L246.6 506.7 L248.1 506.6 L249.6 506.6 L251.1 506.6 L252.6 506.6 L254.1 506.6 L255.6 506.6 L257.1 506.6 L258.6 506.5 L260.1 506.5 L261.6 506.5 L263.1 506.5 L264.6 506.5 L266.1 506.5 L267.6 506.5 L269.1 506.5 L270.6 506.4 L272.1 506.4 L273.6 506.4 L275.1 506.4 L276.6 506.4 L278.1 506.4 L279.6 506.4 L281.1 506.4 L282.6 506.3 L284.1 506.3 L285.6 506.3 L287.1 506.3 L288.6 506.3 L290.1 506.3 L291.6 506.3 L293.1 506.2 L294.6 506.2 L296.1 506.2 L297.6 506.2 L299.1 506.2 L300.6 506.2 L302.1 506.2 L303.6 506.2 L305.1 506.1 L306.6 506.1 L308.1 506.1 L309.6 506.1 L311.1 506.1 L312.6 506.1 L314.1 506.1 L315.6 506.1 L317.1 506 L318.6 506 L320.1 506 L321.6 506 L323.1 506 L324.6 506 L326.1 506 L327.6 505.9 L329.1 505.9 L330.6 505.9 L332.1 505.9 L333.6 505.9 L335.1 505.9 L336.6 505.9 L338.1 505.9 L339.6 505.8 L341.1 505.8 L342.6 505.8 L344.1 505.8 L345.6 505.8 L347.1 505.8 L348.6 505.8 L350.1 505.8 L351.6 505.7 L353.1 505.7 L354.6 505.7 L356.1 505.7 L357.6 505.7 L359.1 505.7 L360.6 505.7 L362.1 505.6 L363.6 505.6 L365.1 505.6 L366.6 505.6 L368.1 505.6 L369.6 505.6 L371.1 505.6 L372.6 505.6 L374.1 505.5 L375.6 505.5 L377.1 505.5 L378.6 505.5 L380.1 505.5 L381.6 505.5 L383.2 505.5 L384.7 505.5 L386.2 505.4 L387.7 505.4 L389.2 505.4 L390.7 505.4 L392.2 505.4 L393.7 505.4 L395.2 505.4 L396.7 505.3 L398.2 505.3 L399.7 505.3 L401.2 505.3 L402.7 505.3 L404.2 505.3 L405.7 505.3 L407.2 505.2 L408.7 505.2 L410.2 505.2 L411.7 505.2 L413.2 505.2 L414.7 505.2 L416.2 505.1 L417.7 505.1 L419.2 505.1 L420.7 505.1 L422.2 505.1 L423.7 505.1 L425.2 505 L426.7 505 L428.2 505 L429.7 505 L431.2 505 L432.7 505 L434.2 504.9 L435.7 504.9 L437.2 504.9 L438.7 504.9 L440.2 504.8 L441.7 504.8 L443.2 504.8 L444.7 504.8 L446.2 504.8 L447.7 504.7 L449.2 504.7 L450.7 504.7 L452.2 504.7 L453.7 504.6 L455.2 504.6 L456.7 504.6 L458.2 504.5 L459.7 504.5 L461.2 504.5 L462.7 504.5 L464.2 504.4 L465.7 504.4 L467.2 504.4 L468.7 504.3 L470.2 504.3 L471.7 504.3 L473.2 504.2 L474.7 504.2 L476.2 504.1 L477.7 504.1 L479.2 504.1 L480.7 504 L482.2 504 L483.7 503.9 L485.2 503.9 L486.7 503.9 L488.2 503.8 L489.7 503.8 L491.2 503.7 L492.7 503.7 L494.2 503.6 L495.7 503.6 L497.2 503.5 L498.7 503.5 L500.2 503.4 L501.7 503.4 L503.2 503.3 L504.7 503.3 L506.2 503.2 L507.7 503.2 L509.2 503.1 L510.7 503.1 L512.2 503 L513.7 503 L515.2 502.9 L516.7 502.9 L518.2 502.8 L519.7 502.8 L521.2 502.7 L522.7 502.7 L524.2 502.6 L525.7 502.6 L527.2 502.5 L528.7 502.5 L530.2 502.4 L531.7 502.3 L533.2 502.3 L534.7 502.2 L536.2 502.2 L537.7 502.1 L539.2 502.1 L540.7 502 L542.2 502 L543.7 501.9 L545.2 501.9 L546.7 501.8 L548.2 501.8 L549.7 501.7 L551.2 501.7 L552.7 501.6 L554.2 501.6 L555.7 501.5 L557.2 501.5 L558.7 501.4 L560.2 501.4 L561.7 501.3 L563.2 501.3 L564.7 501.2 L566.2 501.2 L567.7 501.1 L569.2 501.1 L570.7 501.1 L572.2 501 L573.7 501 L575.2 501 L576.7 500.9 L578.2 500.9 L579.7 500.9 L581.2 500.8 L582.7 500.8 L584.2 500.8 L585.7 500.8 L587.2 500.8 L588.7 500.7 L590.2 500.7 L591.7 500.7 L593.2 500.7 L594.7 500.7 L596.2 500.6 L597.7 500.6 L599.2 500.6 L600.7 500.6 L602.2 500.6 L603.7 500.6 L605.2 500.6 L606.7 500.6 L608.2 500.5 L609.7 500.5 L611.2 500.5 L612.7 500.5 L614.2 500.5 L615.7 500.5 L617.2 500.5 L618.7 500.4 L620.2 500.4 L621.7 500.2 L623.2 500.1 L624.7 499.8 L626.2 499.5 L627.7 499 L629.2 498.3 L630.7 497.4 L632.2 496.3 L633.7 494.8 L635.2 492.9 L636.7 490.5 L638.2 487.8 L639.7 484.6 L641.2 481 L642.7 477.2 L644.2 473.2 L645.7 469.2 L647.2 465.3 L648.7 461.8 L650.2 458.7 L651.7 456.3 L653.2 454.5 L654.7 453.4 L656.2 453.1 L657.7 453.2 L659.2 453.9 L660.7 455 L662.2 456.5 L663.7 458.4 L665.2 460.5 L666.7 462.9 L668.2 465.4 L669.7 468.1 L671.2 470.9 L672.7 473.6 L674.2 476.4 L675.7 479 L677.2 481.6 L678.7 484 L680.2 486.3 L681.7 488.4 L683.2 490.3 L684.7 492.1 L686.2 493.7 L687.7 495.1 L689.2 496.3 L690.7 497.4 L692.2 498.3 L693.7 499.1 L695.2 499.7 L696.7 500.3 L698.2 500.8 L699.7 501.2 L701.2 501.5 L702.7 501.7 L704.2 501.9 L705.7 502.1 L707.2 502.2 L708.7 502.3 L710.2 502.4 L711.7 502.4 L713.2 502.5 L714.7 502.5 L716.2 502.5 L717.7 502.5 L719.2 502.5 L720.7 502.5 L722.2 502.5 L723.7 502.5 L725.2 502.5 L726.7 502.5 L728.2 502.5 L729.7 502.5 L731.2 502.5 L732.7 502.4 L734.2 502.4 L735.7 502.4 L737.2 502.4 L738.7 502.4 L740.2 502.4 L741.7 502.4 L743.2 502.4 L744.7 502.3 L746.2 502.3 L747.7 502.3 L749.2 502.3 L750.7 502.3 L752.2 502.3 L753.7 502.3 L755.2 502.2 L756.7 502.2 L758.2 502.2 L759.7 502.2 L761.2 502.2 L762.7 502.2 L764.2 502.2 L765.7 502.2 L767.2 502.1 L768.7 502.1 L770.2 502.1 L771.7 502.1 L773.2 502.1 L774.7 502.1 L776.2 502.1 L777.7 502.1 L779.2 502 L780.7 502 L782.2 502 L783.7 502 L785.2 502 L786.7 502 L788.2 502 L789.7 501.9 L791.2 501.9 L792.7 501.9 L794.2 501.9 L795.7 501.9 L797.2 501.9 L798.7 501.9 L800.2 501.9 L801.7 501.8 L803.2 501.8 L804.8 501.8 L806.3 501.8 L807.8 501.8 L809.3 501.8 L810.8 501.8 L812.3 501.8 L813.8 501.7 L815.3 501.7 L816.8 501.7 L818.3 501.7 L819.8 501.7 L821.3 501.7 L822.8 501.7 L824.3 501.6 L825.8 501.6 L827.3 501.6 L828.8 501.6 L830.3 501.6 L831.8 501.6 L833.3 501.6 L834.8 501.6 L836.3 501.5 L837.8 501.5 L839.3 501.5 L840.8 501.5 L842.3 501.5 L843.8 501.5 L845.3 501.5 L846.8 501.5 L848.3 501.4 L849.8 501.4 L851.3 501.4 L852.8 501.4 L854.3 501.4 L855.8 501.4 L857.3 501.4 L858.8 501.4 L860.3 501.3 L861.8 501.3 L863.3 501.3 L864.8 501.3 L866.3 501.3 L867.8 501.3 L869.3 501.3 L870.8 501.2 L872.3 501.2 L873.8 501.2 L875.3 501.2 L876.8 501.2 L878.3 501.2 L879.8 501.2 L881.3 501.2 L882.8 501.1 L884.3 501.1 L885.8 501.1 L887.3 501.1 L888.8 501.1 L890.3 501.1 L891.8 501.1 L893.3 501.1 L894.8 501 L896.3 501 L897.8 501 L899.3 501 L900.8 501 L902.3 501 L903.8 501 L905.3 500.9 L906.8 500.9 L908.3 500.9 L909.8 500.9 L911.3 500.9 L912.8 500.9 L914.3 500.9 L915.8 500.9 L917.3 500.8 L918.8 500.8 L920.3 500.8 L921.8 500.8 L923.3 500.8 L924.8 500.8 L926.3 500.8 L927.8 500.8 L929.3 500.7 L930.8 500.7 L932.3 500.7 L933.8 500.7 L935.3 500.7 L936.8 500.7 L938.3 500.7 L939.8 500.6 L941.3 500.6 L942.8 500.6 L944.3 500.6 L945.8 500.6 L947.3 500.6 L948.8 500.6 L950.3 500.6 L951.8 500.5 L953.3 500.5 L954.8 500.5 L956.3 500.5 L957.8 500.5 L959.3 500.5 L960.8 500.5 L962.3 500.5 L963.8 500.4 L965.3 500.4 L966.8 500.4 L968.3 500.4 L969.8 500.4 L971.3 500.4 L972.8 500.4 L974.3 500.4 L975.8 500.3 L977.3 500.3 L978.8 500.3 L980.3 500.3 L981.8 500.3 L983.3 500.3 L984.8 500.3 L986.3 500.2 L987.8 500.2 L989.3 500.2 L990.8 500.2 L992.3 500.2 L993.8 500.2 L995.3 500.2 L996.8 500.2 L998.3 500.1 L999.8 500.1 L1001.3 500.1 L1002.8 500.1 L1004.3 500.1 L1005.8 500.1 L1007.3 500.1 L1008.8 500.1 L1010.3 500 L1011.8 500 L1013.3 500 L1014.8 500" fill="none" stroke="#ff8000" stroke-width="4.3" stroke-linejoin="round"/>
<path d="M174 588.3 L1014.8 584.3" stroke="#ff0000" stroke-width="4.8" fill="none"/>
<path d="M171.6 587.1 L173.1 587.1 L174.6 587.1 L176.1 587.1 L177.6 587 L179.1 587 L180.6 587 L182.1 587 L183.6 586.9 L185.1 586.9 L186.6 586.8 L188.1 586.7 L189.6 586.5 L191.1 586.2 L192.6 585.7 L194.1 585.1 L195.6 584.4 L197.1 583.5 L198.6 582.7 L200.1 581.9 L201.6 581.3 L203.1 581 L204.6 580.9 L206.1 581.1 L207.6 581.5 L209.1 582 L210.6 582.6 L212.1 583.2 L213.6 583.8 L215.1 584.3 L216.6 584.7 L218.1 585 L219.6 585.2 L221.1 585.3 L222.6 585.4 L224.1 585.4 L225.6 585.4 L227.1 585.4 L228.6 585.3 L230.1 585.3 L231.6 585.2 L233.1 585.1 L234.6 585 L236.1 584.9 L237.6 584.9 L239.1 584.8 L240.6 584.7 L242.1 584.6 L243.6 584.5 L245.1 584.4 L246.6 584.3 L248.1 584.3 L249.6 584.2 L251.1 584.1 L252.6 584 L254.1 583.9 L255.6 583.9 L257.1 583.8 L258.6 583.7 L260.1 583.6 L261.6 583.5 L263.1 583.5 L264.6 583.4 L266.1 583.3 L267.6 583.3 L269.1 583.2 L270.6 583.2 L272.1 583.1 L273.6 583.1 L275.1 583 L276.6 583 L278.1 582.9 L279.6 582.9 L281.1 582.9 L282.6 582.8 L284.1 582.8 L285.6 582.8 L287.1 582.8 L288.6 582.7 L290.1 582.7 L291.6 582.7 L293.1 582.7 L294.6 582.7 L296.1 582.7 L297.6 582.7 L299.1 582.8 L300.6 582.8 L302.1 582.8 L303.6 582.8 L305.1 582.8 L306.6 582.9 L308.1 582.9 L309.6 582.9 L311.1 583 L312.6 583 L314.1 583 L315.6 583.1 L317.1 583.1 L318.6 583.2 L320.1 583.2 L321.6 583.3 L323.1 583.3 L324.6 583.4 L326.1 583.5 L327.6 583.5 L329.1 583.6 L330.6 583.6 L332.1 583.7 L333.6 583.8 L335.1 583.8 L336.6 583.9 L338.1 583.9 L339.6 584 L341.1 584.1 L342.6 584.1 L344.1 584.2 L345.6 584.3 L347.1 584.3 L348.6 584.4 L350.1 584.5 L351.6 584.5 L353.1 584.6 L354.6 584.6 L356.1 584.7 L357.6 584.8 L359.1 584.8 L360.6 584.9 L362.1 584.9 L363.6 585 L365.1 585 L366.6 585.1 L368.1 585.1 L369.6 585.2 L371.1 585.2 L372.6 585.3 L374.1 585.3 L375.6 585.4 L377.1 585.4 L378.6 585.4 L380.1 585.5 L381.6 585.5 L383.2 585.5 L384.7 585.6 L386.2 585.6 L387.7 585.6 L389.2 585.7 L390.7 585.7 L392.2 585.7 L393.7 585.7 L395.2 585.8 L396.7 585.8 L398.2 585.8 L399.7 585.8 L401.2 585.8 L402.7 585.9 L404.2 585.9 L405.7 585.9 L407.2 585.9 L408.7 585.9 L410.2 585.9 L411.7 585.9 L413.2 585.9 L414.7 585.9 L416.2 586 L417.7 586 L419.2 586 L420.7 586 L422.2 586 L423.7 586 L425.2 586 L426.7 586 L428.2 586 L429.7 586 L431.2 586 L432.7 586 L434.2 586 L435.7 586 L437.2 586 L438.7 586 L440.2 586 L441.7 586 L443.2 586 L444.7 586 L446.2 586 L447.7 586 L449.2 586 L450.7 585.9 L452.2 585.9 L453.7 585.9 L455.2 585.9 L456.7 585.9 L458.2 585.9 L459.7 585.9 L461.2 585.9 L462.7 585.9 L464.2 585.9 L465.7 585.9 L467.2 585.9 L468.7 585.9 L470.2 585.9 L471.7 585.9 L473.2 585.9 L474.7 585.9 L476.2 585.9 L477.7 585.8 L479.2 585.8 L480.7 585.8 L482.2 585.8 L483.7 585.8 L485.2 585.8 L486.7 585.8 L488.2 585.8 L489.7 585.8 L491.2 585.8 L492.7 585.8 L494.2 585.8 L495.7 585.8 L497.2 585.8 L498.7 585.7 L500.2 585.7 L501.7 585.7 L503.2 585.7 L504.7 585.7 L506.2 585.7 L507.7 585.7 L509.2 585.7 L510.7 585.7 L512.2 585.7 L513.7 585.7 L515.2 585.7 L516.7 585.7 L518.2 585.7 L519.7 585.6 L521.2 585.6 L522.7 585.6 L524.2 585.6 L525.7 585.6 L527.2 585.6 L528.7 585.6 L530.2 585.6 L531.7 585.6 L533.2 585.6 L534.7 585.6 L536.2 585.6 L537.7 585.6 L539.2 585.6 L540.7 585.5 L542.2 585.5 L543.7 585.5 L545.2 585.5 L546.7 585.5 L548.2 585.5 L549.7 585.5 L551.2 585.5 L552.7 585.5 L554.2 585.5 L555.7 585.5 L557.2 585.5 L558.7 585.5 L560.2 585.5 L561.7 585.4 L563.2 585.4 L564.7 585.4 L566.2 585.4 L567.7 585.4 L569.2 585.4 L570.7 585.4 L572.2 585.4 L573.7 585.4 L575.2 585.4 L576.7 585.4 L578.2 585.4 L579.7 585.4 L581.2 585.4 L582.7 585.3 L584.2 585.3 L585.7 585.3 L587.2 585.3 L588.7 585.3 L590.2 585.3 L591.7 585.3 L593.2 585.3 L594.7 585.3 L596.2 585.3 L597.7 585.3 L599.2 585.3 L600.7 585.3 L602.2 585.3 L603.7 585.3 L605.2 585.2 L606.7 585.2 L608.2 585.2 L609.7 585.2 L611.2 585.2 L612.7 585.2 L614.2 585.2 L615.7 585.2 L617.2 585.2 L618.7 585.2 L620.2 585.2 L621.7 585.2 L623.2 585.2 L624.7 585.2 L626.2 585.1 L627.7 585.1 L629.2 585.1 L630.7 585.1 L632.2 585.1 L633.7 585.1 L635.2 585.1 L636.7 585.1 L638.2 585.1 L639.7 585.1 L641.2 585.1 L642.7 585.1 L644.2 585.1 L645.7 585.1 L647.2 585 L648.7 585 L650.2 585 L651.7 585 L653.2 585 L654.7 585 L656.2 585 L657.7 585 L659.2 585 L660.7 585 L662.2 585 L663.7 585 L665.2 585 L666.7 585 L668.2 584.9 L669.7 584.9 L671.2 584.9 L672.7 584.9 L674.2 584.9 L675.7 584.9 L677.2 584.9 L678.7 584.9 L680.2 584.9 L681.7 584.9 L683.2 584.9 L684.7 584.9 L686.2 584.9 L687.7 584.9 L689.2 584.8 L690.7 584.8 L692.2 584.8 L693.7 584.8 L695.2 584.8 L696.7 584.8 L698.2 584.8 L699.7 584.8 L701.2 584.8 L702.7 584.8 L704.2 584.8 L705.7 584.8 L707.2 584.8 L708.7 584.8 L710.2 584.7 L711.7 584.7 L713.2 584.7 L714.7 584.7 L716.2 584.7 L717.7 584.7 L719.2 584.7 L720.7 584.7 L722.2 584.7 L723.7 584.7 L725.2 584.7 L726.7 584.7 L728.2 584.7 L729.7 584.7 L731.2 584.6 L732.7 584.6 L734.2 584.6 L735.7 584.6 L737.2 584.6 L738.7 584.6 L740.2 584.6 L741.7 584.6 L743.2 584.6 L744.7 584.6 L746.2 584.6 L747.7 584.6 L749.2 584.6 L750.7 584.6 L752.2 584.5 L753.7 584.5 L755.2 584.5 L756.7 584.5 L758.2 584.5 L759.7 584.5 L761.2 584.5 L762.7 584.5 L764.2 584.5 L765.7 584.5 L767.2 584.5 L768.7 584.5 L770.2 584.5 L771.7 584.5 L773.2 584.4 L774.7 584.4 L776.2 584.4 L777.7 584.4 L779.2 584.4 L780.7 584.4 L782.2 584.4 L783.7 584.4 L785.2 584.4 L786.7 584.4 L788.2 584.4 L789.7 584.4 L791.2 584.4 L792.7 584.4 L794.2 584.3 L795.7 584.3 L797.2 584.3 L798.7 584.3 L800.2 584.3 L801.7 584.3 L803.2 584.3 L804.8 584.3 L806.3 584.3 L807.8 584.3 L809.3 584.3 L810.8 584.3 L812.3 584.3 L813.8 584.3 L815.3 584.2 L816.8 584.2 L818.3 584.2 L819.8 584.2 L821.3 584.2 L822.8 584.2 L824.3 584.2 L825.8 584.2 L827.3 584.2 L828.8 584.2 L830.3 584.2 L831.8 584.2 L833.3 584.2 L834.8 584.2 L836.3 584.1 L837.8 584.1 L839.3 584.1 L840.8 584.1 L842.3 584.1 L843.8 584.1 L845.3 584.1 L846.8 584.1 L848.3 584.1 L849.8 584.1 L851.3 584.1 L852.8 584.1 L854.3 584.1 L855.8 584.1 L857.3 584 L858.8 584 L860.3 584 L861.8 584 L863.3 584 L864.8 584 L866.3 584 L867.8 584 L869.3 584 L870.8 584 L872.3 584 L873.8 584 L875.3 584 L876.8 584 L878.3 583.9 L879.8 583.9 L881.3 583.9 L882.8 583.9 L884.3 583.9 L885.8 583.9 L887.3 583.9 L888.8 583.9 L890.3 583.9 L891.8 583.9 L893.3 583.9 L894.8 583.9 L896.3 583.9 L897.8 583.9 L899.3 583.8 L900.8 583.8 L902.3 583.8 L903.8 583.8 L905.3 583.8 L906.8 583.8 L908.3 583.8 L909.8 583.8 L911.3 583.8 L912.8 583.8 L914.3 583.8 L915.8 583.8 L917.3 583.8 L918.8 583.8 L920.3 583.7 L921.8 583.7 L923.3 583.7 L924.8 583.7 L926.3 583.7 L927.8 583.7 L929.3 583.7 L930.8 583.7 L932.3 583.7 L933.8 583.7 L935.3 583.7 L936.8 583.7 L938.3 583.7 L939.8 583.7 L941.3 583.6 L942.8 583.6 L944.3 583.6 L945.8 583.6 L947.3 583.6 L948.8 583.6 L950.3 583.6 L951.8 583.6 L953.3 583.6 L954.8 583.6 L956.3 583.6 L957.8 583.6 L959.3 583.6 L960.8 583.6 L962.3 583.5 L963.8 583.5 L965.3 583.5 L966.8 583.5 L968.3 583.5 L969.8 583.5 L971.3 583.5 L972.8 583.5 L974.3 583.5 L975.8 583.5 L977.3 583.5 L978.8 583.5 L980.3 583.5 L981.8 583.5 L983.3 583.4 L984.8 583.4 L986.3 583.4 L987.8 583.4 L989.3 583.4 L990.8 583.4 L992.3 583.4 L993.8 583.4 L995.3 583.4 L996.8 583.4 L998.3 583.4 L999.8 583.4 L1001.3 583.4 L1002.8 583.4 L1004.3 583.3 L1005.8 583.3 L1007.3 583.3 L1008.8 583.3 L1010.3 583.3 L1011.8 583.3 L1013.3 583.3 L1014.8 583.3" fill="none" stroke="#ff0000" stroke-width="4.3" stroke-linejoin="round"/>
<path d="M269.1 668.8 L270.6 668.6 L272.1 668.5 L273.6 668.2 L275.1 667.9 L276.6 667.4 L278.1 666.8 L279.6 666.1 L281.1 665.2 L282.6 664.2 L284.1 663.1 L285.6 662 L287.1 661.1 L288.6 660.3 L290.1 659.8 L291.6 659.7 L293.1 659.7 L294.6 659.9 L296.1 660 L297.6 660.2 L299.1 660.4 L300.6 660.7 L302.1 660.9 L303.6 661.2 L305.1 661.4 L306.6 661.7 L308.1 662 L309.6 662.2 L311.1 662.5 L312.6 662.7 L314.1 663 L315.6 663.3 L317.1 663.5 L318.6 663.8 L320.1 664 L321.6 664.2 L323.1 664.4 L324.6 664.7 L326.1 664.9 L327.6 665.1 L329.1 665.2 L330.6 665.4 L332.1 665.6 L333.6 665.8 L335.1 665.9 L336.6 666.1 L338.1 666.2 L339.6 666.3 L341.1 666.4 L342.6 666.6 L344.1 666.7 L345.6 666.8 L347.1 666.8 L348.6 666.9 L350.1 667 L351.6 667.1 L353.1 667.1 L354.6 667.2 L356.1 667.3 L357.6 667.3 L359.1 667.4 L360.6 667.4 L362.1 667.4 L363.6 667.5 L363.6 667.5 L269.1 668.8 Z" fill="url(#hatch)" stroke="none"/>
<path d="M269.1 668.8 L363.6 667.5" stroke="#000000" stroke-width="4.6" fill="none"/>
<path d="M290 668.7 L380 670.2 L1014.8 664.2" stroke="#000000" stroke-width="4.6" fill="none" stroke-linejoin="round"/>
<path d="M171.6 669.8 L173.1 669.8 L174.6 669.8 L176.1 669.8 L177.6 669.7 L179.1 669.7 L180.6 669.7 L182.1 669.7 L183.6 669.7 L185.1 669.7 L186.6 669.7 L188.1 669.6 L189.6 669.6 L191.1 669.6 L192.6 669.6 L194.1 669.6 L195.6 669.6 L197.1 669.6 L198.6 669.5 L200.1 669.5 L201.6 669.5 L203.1 669.5 L204.6 669.5 L206.1 669.5 L207.6 669.5 L209.1 669.4 L210.6 669.4 L212.1 669.4 L213.6 669.4 L215.1 669.4 L216.6 669.4 L218.1 669.4 L219.6 669.3 L221.1 669.3 L222.6 669.3 L224.1 669.3 L225.6 669.3 L227.1 669.3 L228.6 669.3 L230.1 669.2 L231.6 669.2 L233.1 669.2 L234.6 669.2 L236.1 669.2 L237.6 669.2 L239.1 669.2 L240.6 669.1 L242.1 669.1 L243.6 669.1 L245.1 669.1 L246.6 669.1 L248.1 669.1 L249.6 669.1 L251.1 669 L252.6 669 L254.1 669 L255.6 669 L257.1 669 L258.6 669 L260.1 669 L261.6 668.9 L263.1 668.9 L264.6 668.9 L266.1 668.9 L267.6 668.8 L269.1 668.8 L270.6 668.6 L272.1 668.5 L273.6 668.2 L275.1 667.9 L276.6 667.4 L278.1 666.8 L279.6 666.1 L281.1 665.2 L282.6 664.2 L284.1 663.1 L285.6 662 L287.1 661.1 L288.6 660.3 L290.1 659.8 L291.6 659.7 L293.1 659.7 L294.6 659.9 L296.1 660 L297.6 660.2 L299.1 660.4 L300.6 660.7 L302.1 660.9 L303.6 661.2 L305.1 661.4 L306.6 661.7 L308.1 662 L309.6 662.2 L311.1 662.5 L312.6 662.7 L314.1 663 L315.6 663.3 L317.1 663.5 L318.6 663.8 L320.1 664 L321.6 664.2 L323.1 664.4 L324.6 664.7 L326.1 664.9 L327.6 665.1 L329.1 665.2 L330.6 665.4 L332.1 665.6 L333.6 665.8 L335.1 665.9 L336.6 666.1 L338.1 666.2 L339.6 666.3 L341.1 666.4 L342.6 666.6 L344.1 666.7 L345.6 666.8 L347.1 666.8 L348.6 666.9 L350.1 667 L351.6 667.1 L353.1 667.1 L354.6 667.2 L356.1 667.3 L357.6 667.3 L359.1 667.4 L360.6 667.4 L362.1 667.4 L363.6 667.5 L365.1 667.5 L366.6 667.5 L368.1 667.5 L369.6 667.6 L371.1 667.6 L372.6 667.6 L374.1 667.6 L375.6 667.6 L377.1 667.6 L378.6 667.6 L380.1 667.6 L381.6 667.6 L383.2 667.6 L384.7 667.6 L386.2 667.6 L387.7 667.6 L389.2 667.6 L390.7 667.6 L392.2 667.6 L393.7 667.6 L395.2 667.6 L396.7 667.6 L398.2 667.6 L399.7 667.6 L401.2 667.6 L402.7 667.6 L404.2 667.6 L405.7 667.5 L407.2 667.5 L408.7 667.5 L410.2 667.5 L411.7 667.5 L413.2 667.5 L414.7 667.5 L416.2 667.5 L417.7 667.5 L419.2 667.4 L420.7 667.4 L422.2 667.4 L423.7 667.4 L425.2 667.4 L426.7 667.4 L428.2 667.4 L429.7 667.3 L431.2 667.3 L432.7 667.3 L434.2 667.3 L435.7 667.3 L437.2 667.3 L438.7 667.3 L440.2 667.3 L441.7 667.2 L443.2 667.2 L444.7 667.2 L446.2 667.2 L447.7 667.2 L449.2 667.2 L450.7 667.2 L452.2 667.1 L453.7 667.1 L455.2 667.1 L456.7 667.1 L458.2 667.1 L459.7 667.1 L461.2 667.1 L462.7 667 L464.2 667 L465.7 667 L467.2 667 L468.7 667 L470.2 667 L471.7 667 L473.2 666.9 L474.7 666.9 L476.2 666.9 L477.7 666.9 L479.2 666.9 L480.7 666.9 L482.2 666.9 L483.7 666.8 L485.2 666.8 L486.7 666.8 L488.2 666.8 L489.7 666.8 L491.2 666.8 L492.7 666.8 L494.2 666.7 L495.7 666.7 L497.2 666.7 L498.7 666.7 L500.2 666.7 L501.7 666.7 L503.2 666.7 L504.7 666.6 L506.2 666.6 L507.7 666.6 L509.2 666.6 L510.7 666.6 L512.2 666.6 L513.7 666.6 L515.2 666.5 L516.7 666.5 L518.2 666.5 L519.7 666.5 L521.2 666.5 L522.7 666.5 L524.2 666.5 L525.7 666.4 L527.2 666.4 L528.7 666.4 L530.2 666.4 L531.7 666.4 L533.2 666.4 L534.7 666.4 L536.2 666.3 L537.7 666.3 L539.2 666.3 L540.7 666.3 L542.2 666.3 L543.7 666.3 L545.2 666.3 L546.7 666.2 L548.2 666.2 L549.7 666.2 L551.2 666.2 L552.7 666.2 L554.2 666.2 L555.7 666.2 L557.2 666.1 L558.7 666.1 L560.2 666.1 L561.7 666.1 L563.2 666.1 L564.7 666.1 L566.2 666.1 L567.7 666 L569.2 666 L570.7 666 L572.2 666 L573.7 666 L575.2 666 L576.7 666 L578.2 665.9 L579.7 665.9 L581.2 665.9 L582.7 665.9 L584.2 665.9 L585.7 665.9 L587.2 665.9 L588.7 665.8 L590.2 665.8 L591.7 665.8 L593.2 665.8 L594.7 665.8 L596.2 665.8 L597.7 665.8 L599.2 665.7 L600.7 665.7 L602.2 665.7 L603.7 665.7 L605.2 665.7 L606.7 665.7 L608.2 665.7 L609.7 665.6 L611.2 665.6 L612.7 665.6 L614.2 665.6 L615.7 665.6 L617.2 665.6 L618.7 665.6 L620.2 665.5 L621.7 665.5 L623.2 665.5 L624.7 665.5 L626.2 665.5 L627.7 665.5 L629.2 665.5 L630.7 665.4 L632.2 665.4 L633.7 665.4 L635.2 665.4 L636.7 665.4 L638.2 665.4 L639.7 665.4 L641.2 665.3 L642.7 665.3 L644.2 665.3 L645.7 665.3 L647.2 665.3 L648.7 665.3 L650.2 665.3 L651.7 665.2 L653.2 665.2 L654.7 665.2 L656.2 665.2 L657.7 665.2 L659.2 665.2 L660.7 665.2 L662.2 665.1 L663.7 665.1 L665.2 665.1 L666.7 665.1 L668.2 665.1 L669.7 665.1 L671.2 665.1 L672.7 665 L674.2 665 L675.7 665 L677.2 665 L678.7 665 L680.2 665 L681.7 665 L683.2 664.9 L684.7 664.9 L686.2 664.9 L687.7 664.9 L689.2 664.9 L690.7 664.9 L692.2 664.9 L693.7 664.8 L695.2 664.8 L696.7 664.8 L698.2 664.8 L699.7 664.8 L701.2 664.8 L702.7 664.8 L704.2 664.7 L705.7 664.7 L707.2 664.7 L708.7 664.7 L710.2 664.7 L711.7 664.7 L713.2 664.7 L714.7 664.6 L716.2 664.6 L717.7 664.6 L719.2 664.6 L720.7 664.6 L722.2 664.6 L723.7 664.6 L725.2 664.5 L726.7 664.5 L728.2 664.5 L729.7 664.5 L731.2 664.5 L732.7 664.5 L734.2 664.5 L735.7 664.4 L737.2 664.4 L738.7 664.4 L740.2 664.4 L741.7 664.4 L743.2 664.4 L744.7 664.4 L746.2 664.3 L747.7 664.3 L749.2 664.3 L750.7 664.3 L752.2 664.3 L753.7 664.3 L755.2 664.3 L756.7 664.2 L758.2 664.2 L759.7 664.2 L761.2 664.2 L762.7 664.2 L764.2 664.2 L765.7 664.2 L767.2 664.1 L768.7 664.1 L770.2 664.1 L771.7 664.1 L773.2 664.1 L774.7 664.1 L776.2 664.1 L777.7 664 L779.2 664 L780.7 664 L782.2 664 L783.7 664 L785.2 664 L786.7 664 L788.2 663.9 L789.7 663.9 L791.2 663.9 L792.7 663.9 L794.2 663.9 L795.7 663.9 L797.2 663.9 L798.7 663.8 L800.2 663.8 L801.7 663.8 L803.2 663.8 L804.8 663.8 L806.3 663.8 L807.8 663.8 L809.3 663.8 L810.8 663.7 L812.3 663.7 L813.8 663.7 L815.3 663.7 L816.8 663.7 L818.3 663.7 L819.8 663.7 L821.3 663.6 L822.8 663.6 L824.3 663.6 L825.8 663.6 L827.3 663.6 L828.8 663.6 L830.3 663.6 L831.8 663.5 L833.3 663.5 L834.8 663.5 L836.3 663.5 L837.8 663.5 L839.3 663.5 L840.8 663.5 L842.3 663.4 L843.8 663.4 L845.3 663.4 L846.8 663.4 L848.3 663.4 L849.8 663.4 L851.3 663.4 L852.8 663.3 L854.3 663.3 L855.8 663.3 L857.3 663.3 L858.8 663.3 L860.3 663.3 L861.8 663.3 L863.3 663.2 L864.8 663.2 L866.3 663.2 L867.8 663.2 L869.3 663.2 L870.8 663.2 L872.3 663.2 L873.8 663.1 L875.3 663.1 L876.8 663.1 L878.3 663.1 L879.8 663.1 L881.3 663.1 L882.8 663.1 L884.3 663 L885.8 663 L887.3 663 L888.8 663 L890.3 663 L891.8 663 L893.3 663 L894.8 662.9 L896.3 662.9 L897.8 662.9 L899.3 662.9 L900.8 662.9 L902.3 662.9 L903.8 662.9 L905.3 662.8 L906.8 662.8 L908.3 662.8 L909.8 662.8 L911.3 662.8 L912.8 662.8 L914.3 662.8 L915.8 662.7 L917.3 662.7 L918.8 662.7 L920.3 662.7 L921.8 662.7 L923.3 662.7 L924.8 662.7 L926.3 662.6 L927.8 662.6 L929.3 662.6 L930.8 662.6 L932.3 662.6 L933.8 662.6 L935.3 662.6 L936.8 662.5 L938.3 662.5 L939.8 662.5 L941.3 662.5 L942.8 662.5 L944.3 662.5 L945.8 662.5 L947.3 662.4 L948.8 662.4 L950.3 662.4 L951.8 662.4 L953.3 662.4 L954.8 662.4 L956.3 662.4 L957.8 662.3 L959.3 662.3 L960.8 662.3 L962.3 662.3 L963.8 662.3 L965.3 662.3 L966.8 662.3 L968.3 662.2 L969.8 662.2 L971.3 662.2 L972.8 662.2 L974.3 662.2 L975.8 662.2 L977.3 662.2 L978.8 662.1 L980.3 662.1 L981.8 662.1 L983.3 662.1 L984.8 662.1 L986.3 662.1 L987.8 662.1 L989.3 662 L990.8 662 L992.3 662 L993.8 662 L995.3 662 L996.8 662 L998.3 662 L999.8 661.9 L1001.3 661.9 L1002.8 661.9 L1004.3 661.9 L1005.8 661.9 L1007.3 661.9 L1008.8 661.9 L1010.3 661.8 L1011.8 661.8 L1013.3 661.8 L1014.8 661.8" fill="none" stroke="#000000" stroke-width="4.3" stroke-linejoin="round"/>
<path d="M648.5 96 l6.5 -4 v8 z" fill="#111" stroke="#111" stroke-width="1"/>
<path d="M347.5 187.5 l6.5 -4 v8 z" fill="#111" stroke="#111" stroke-width="1"/>
<path d="M373.5 188 l6.5 -4 v8 z" fill="#111" stroke="#111" stroke-width="1"/>
<path d="M569.5 185.5 l6.5 -4 v8 z" fill="#111" stroke="#111" stroke-width="1"/>
<path d="M914.5 184.5 l6.5 -4 v8 z" fill="#111" stroke="#111" stroke-width="1"/>
<path d="M926.5 184.5 l6.5 -4 v8 z" fill="#111" stroke="#111" stroke-width="1"/>
<line x1="203.7" y1="680.7" x2="203.7" y2="694.2" stroke="#6c6c6c" stroke-width="3.8"/>
<line x1="257.8" y1="680.7" x2="257.8" y2="689.2" stroke="#6c6c6c" stroke-width="3.3"/>
<line x1="311.8" y1="680.7" x2="311.8" y2="689.2" stroke="#6c6c6c" stroke-width="3.3"/>
<line x1="365.9" y1="680.7" x2="365.9" y2="694.2" stroke="#6c6c6c" stroke-width="3.8"/>
<line x1="420" y1="680.7" x2="420" y2="689.2" stroke="#6c6c6c" stroke-width="3.3"/>
<line x1="474" y1="680.7" x2="474" y2="689.2" stroke="#6c6c6c" stroke-width="3.3"/>
<line x1="528.1" y1="680.7" x2="528.1" y2="694.2" stroke="#6c6c6c" stroke-width="3.8"/>
<line x1="582.2" y1="680.7" x2="582.2" y2="689.2" stroke="#6c6c6c" stroke-width="3.3"/>
<line x1="636.2" y1="680.7" x2="636.2" y2="689.2" stroke="#6c6c6c" stroke-width="3.3"/>
<line x1="690.3" y1="680.7" x2="690.3" y2="694.2" stroke="#6c6c6c" stroke-width="3.8"/>
<line x1="744.4" y1="680.7" x2="744.4" y2="689.2" stroke="#6c6c6c" stroke-width="3.3"/>
<line x1="798.4" y1="680.7" x2="798.4" y2="689.2" stroke="#6c6c6c" stroke-width="3.3"/>
<line x1="852.5" y1="680.7" x2="852.5" y2="694.2" stroke="#6c6c6c" stroke-width="3.8"/>
<line x1="906.6" y1="680.7" x2="906.6" y2="689.2" stroke="#6c6c6c" stroke-width="3.3"/>
<line x1="960.6" y1="680.7" x2="960.6" y2="689.2" stroke="#6c6c6c" stroke-width="3.3"/>
<line x1="1014.7" y1="680.7" x2="1014.7" y2="694.2" stroke="#6c6c6c" stroke-width="3.8"/>
<text x="203.7" y="730.4" font-size="34" text-anchor="middle" class="b">50</text>
<text x="365.9" y="730.4" font-size="34" text-anchor="middle" class="b">75</text>
<text x="528.1" y="730.4" font-size="34" text-anchor="middle" class="b">100</text>
<text x="690.3" y="730.4" font-size="34" text-anchor="middle" class="b">125</text>
<text x="852.5" y="730.4" font-size="34" text-anchor="middle" class="b">150</text>
<text x="1014.7" y="730.4" font-size="34" text-anchor="middle" class="b">175</text>
<text x="419" y="789.6" font-size="41.5" class="b" textLength="350" lengthAdjust="spacing">Temperature (<tspan font-size="24.1" dy="-24.9">o</tspan><tspan dy="24.9">C)</tspan></text>
<text transform="translate(136.3 360.8) rotate(-90)" font-size="48" class="b" text-anchor="middle" textLength="360" lengthAdjust="spacingAndGlyphs">Heat Flow (mW)</text>
<text class="b"><tspan x="50.8" y="117.6" font-size="79" textLength="23" lengthAdjust="spacingAndGlyphs">(</tspan><tspan x="73.9" y="117.8" font-size="75.5" textLength="57.4" lengthAdjust="spacingAndGlyphs">A</tspan><tspan x="130.4" y="117.6" font-size="79" textLength="23" lengthAdjust="spacingAndGlyphs">)</tspan></text>
<text x="367" y="134.8" font-size="46" class="b">T50/MA</text>
<text x="367" y="269.6" font-size="41.5" class="b">T50</text>
<text x="367" y="385.4" font-size="42" class="b">T70/MA</text>
<text x="369" y="471.4" font-size="41.5" class="b">T70</text>
<text x="369.5" y="557.5" font-size="42" class="b">T90/MA</text>
<text x="369.3" y="639.5" font-size="41.5" class="b">T90</text>
</g>
<g filter="url(#soft)">
<path d="M173.6 853.2 V1484.3 H1022.2 V853.2" fill="none" stroke="#b0b0b0" stroke-width="3"/>
<path d="M176.2 853.4 V1481.9 H1019.6 V853.4" fill="none" stroke="#606060" stroke-width="2.8"/>
<path d="M172.2 852.9 H1023.6" fill="none" stroke="#c4c4c4" stroke-width="1.6"/>
<path d="M174.8 855 H1021" fill="none" stroke="#4c4c4c" stroke-width="2.8"/>
<path d="M609.9 948.3 L611.4 947.7 L612.9 947 L614.4 946.3 L615.9 945.5 L617.4 944.6 L618.9 943.7 L620.4 942.7 L621.9 941.7 L623.4 940.7 L624.9 939.7 L626.4 938.7 L627.9 937.6 L629.4 936.5 L630.9 935.4 L632.4 934.3 L634 933.1 L635.5 932 L637 930.8 L638.5 929.6 L640 928.4 L641.5 927.2 L643 926 L644.5 924.8 L646 923.6 L647.5 922.4 L649 921.2 L650.5 920 L652 918.8 L653.5 917.7 L655 916.5 L656.5 915.4 L658 914.5 L659.5 913.6 L661 912.9 L662.5 912.5 L664 912.4 L665.5 912.5 L667 912.9 L668.5 913.5 L670 914.3 L671.5 915.2 L673 916.2 L674.5 917.2 L676 918.3 L677.5 919.4 L679 920.5 L680.5 921.6 L682 922.7 L683.5 923.8 L685 924.9 L686.5 926 L688 927.1 L689.5 928.2 L691 929.4 L692.5 930.5 L694 931.6 L695.5 932.7 L697 933.8 L698.5 934.9 L700 936 L701.5 937.1 L703 938.2 L704.6 939.3 L706.1 940.4 L707.6 941.5 L709.1 942.6 L710.6 943.7 L712.1 944.8 L713.6 945.8 L715.1 946.9 L716.6 947.9 L718.1 948.8 L719.6 949.5 L721.1 950.2 L722.6 950.8 L722.6 951.6 L609.9 952.6 Z" fill="url(#hatch)" stroke="none"/>
<path d="M180.3 956.4 L722.6 951.6" stroke="#ff00ff" stroke-width="4.6" fill="none"/>
<path d="M176.3 956.6 L1020 951" stroke="#ff00ff" stroke-width="4.6" fill="none"/>
<path d="M175.8 955.6 L177.3 955.6 L178.8 955.6 L180.3 955.6 L181.8 955.6 L183.3 955.6 L184.8 955.5 L186.3 955.5 L187.8 955.5 L189.3 955.5 L190.8 955.5 L192.3 955.5 L193.8 955.5 L195.3 955.5 L196.8 955.5 L198.3 955.5 L199.8 955.4 L201.3 955.4 L202.8 955.4 L204.3 955.4 L205.8 955.4 L207.3 955.4 L208.8 955.4 L210.3 955.4 L211.9 955.4 L213.4 955.4 L214.9 955.3 L216.4 955.3 L217.9 955.3 L219.4 955.3 L220.9 955.3 L222.4 955.3 L223.9 955.3 L225.4 955.3 L226.9 955.3 L228.4 955.3 L229.9 955.2 L231.4 955.2 L232.9 955.2 L234.4 955.2 L235.9 955.2 L237.4 955.2 L238.9 955.2 L240.4 955.2 L241.9 955.2 L243.4 955.2 L244.9 955.1 L246.4 955.1 L247.9 955.1 L249.4 955.1 L250.9 955.1 L252.4 955.1 L253.9 955.1 L255.4 955.1 L256.9 955.1 L258.4 955.1 L259.9 955 L261.4 955 L262.9 955 L264.4 955 L265.9 955 L267.4 955 L268.9 955 L270.4 955 L271.9 955 L273.4 955 L274.9 954.9 L276.4 954.9 L277.9 954.9 L279.4 954.9 L280.9 954.9 L282.5 954.9 L284 954.9 L285.5 954.9 L287 954.9 L288.5 954.9 L290 954.8 L291.5 954.8 L293 954.8 L294.5 954.8 L296 954.8 L297.5 954.8 L299 954.8 L300.5 954.8 L302 954.8 L303.5 954.8 L305 954.7 L306.5 954.7 L308 954.7 L309.5 954.7 L311 954.7 L312.5 954.7 L314 954.7 L315.5 954.7 L317 954.7 L318.5 954.7 L320 954.6 L321.5 954.6 L323 954.6 L324.5 954.6 L326 954.6 L327.5 954.6 L329 954.6 L330.5 954.6 L332 954.6 L333.5 954.6 L335 954.5 L336.5 954.5 L338 954.5 L339.5 954.5 L341 954.5 L342.5 954.5 L344 954.5 L345.5 954.5 L347 954.5 L348.5 954.5 L350 954.4 L351.5 954.4 L353.1 954.4 L354.6 954.4 L356.1 954.4 L357.6 954.4 L359.1 954.4 L360.6 954.4 L362.1 954.4 L363.6 954.4 L365.1 954.3 L366.6 954.3 L368.1 954.3 L369.6 954.3 L371.1 954.3 L372.6 954.3 L374.1 954.3 L375.6 954.3 L377.1 954.3 L378.6 954.3 L380.1 954.2 L381.6 954.2 L383.1 954.2 L384.6 954.2 L386.1 954.2 L387.6 954.2 L389.1 954.2 L390.6 954.2 L392.1 954.2 L393.6 954.2 L395.1 954.1 L396.6 954.1 L398.1 954.1 L399.6 954.1 L401.1 954.1 L402.6 954.1 L404.1 954.1 L405.6 954.1 L407.1 954.1 L408.6 954.1 L410.1 954 L411.6 954 L413.1 954 L414.6 954 L416.1 954 L417.6 954 L419.1 954 L420.6 954 L422.2 954 L423.7 954 L425.2 953.9 L426.7 953.9 L428.2 953.9 L429.7 953.9 L431.2 953.9 L432.7 953.9 L434.2 953.9 L435.7 953.9 L437.2 953.9 L438.7 953.9 L440.2 953.8 L441.7 953.8 L443.2 953.8 L444.7 953.8 L446.2 953.8 L447.7 953.8 L449.2 953.8 L450.7 953.8 L452.2 953.8 L453.7 953.8 L455.2 953.7 L456.7 953.7 L458.2 953.7 L459.7 953.7 L461.2 953.7 L462.7 953.7 L464.2 953.7 L465.7 953.7 L467.2 953.7 L468.7 953.7 L470.2 953.6 L471.7 953.6 L473.2 953.6 L474.7 953.6 L476.2 953.6 L477.7 953.6 L479.2 953.6 L480.7 953.6 L482.2 953.6 L483.7 953.5 L485.2 953.5 L486.7 953.5 L488.2 953.5 L489.7 953.5 L491.2 953.5 L492.8 953.5 L494.3 953.4 L495.8 953.4 L497.3 953.4 L498.8 953.4 L500.3 953.4 L501.8 953.4 L503.3 953.3 L504.8 953.3 L506.3 953.3 L507.8 953.3 L509.3 953.3 L510.8 953.2 L512.3 953.2 L513.8 953.2 L515.3 953.2 L516.8 953.1 L518.3 953.1 L519.8 953.1 L521.3 953.1 L522.8 953 L524.3 953 L525.8 952.9 L527.3 952.9 L528.8 952.9 L530.3 952.8 L531.8 952.8 L533.3 952.7 L534.8 952.7 L536.3 952.6 L537.8 952.6 L539.3 952.5 L540.8 952.5 L542.3 952.4 L543.8 952.4 L545.3 952.3 L546.8 952.2 L548.3 952.2 L549.8 952.1 L551.3 952 L552.8 952 L554.3 951.9 L555.8 951.8 L557.3 951.7 L558.8 951.7 L560.3 951.6 L561.8 951.5 L563.4 951.4 L564.9 951.3 L566.4 951.3 L567.9 951.2 L569.4 951.1 L570.9 951 L572.4 950.9 L573.9 950.9 L575.4 950.8 L576.9 950.7 L578.4 950.6 L579.9 950.5 L581.4 950.5 L582.9 950.4 L584.4 950.3 L585.9 950.3 L587.4 950.2 L588.9 950.1 L590.4 950.1 L591.9 950 L593.4 950 L594.9 949.9 L596.4 949.9 L597.9 949.9 L599.4 949.8 L600.9 949.8 L602.4 949.7 L603.9 949.5 L605.4 949.3 L606.9 949.1 L608.4 948.7 L609.9 948.3 L611.4 947.7 L612.9 947 L614.4 946.3 L615.9 945.5 L617.4 944.6 L618.9 943.7 L620.4 942.7 L621.9 941.7 L623.4 940.7 L624.9 939.7 L626.4 938.7 L627.9 937.6 L629.4 936.5 L630.9 935.4 L632.4 934.3 L634 933.1 L635.5 932 L637 930.8 L638.5 929.6 L640 928.4 L641.5 927.2 L643 926 L644.5 924.8 L646 923.6 L647.5 922.4 L649 921.2 L650.5 920 L652 918.8 L653.5 917.7 L655 916.5 L656.5 915.4 L658 914.5 L659.5 913.6 L661 912.9 L662.5 912.5 L664 912.4 L665.5 912.5 L667 912.9 L668.5 913.5 L670 914.3 L671.5 915.2 L673 916.2 L674.5 917.2 L676 918.3 L677.5 919.4 L679 920.5 L680.5 921.6 L682 922.7 L683.5 923.8 L685 924.9 L686.5 926 L688 927.1 L689.5 928.2 L691 929.4 L692.5 930.5 L694 931.6 L695.5 932.7 L697 933.8 L698.5 934.9 L700 936 L701.5 937.1 L703 938.2 L704.6 939.3 L706.1 940.4 L707.6 941.5 L709.1 942.6 L710.6 943.7 L712.1 944.8 L713.6 945.8 L715.1 946.9 L716.6 947.9 L718.1 948.8 L719.6 949.5 L721.1 950.2 L722.6 950.8 L724.1 951.2 L725.6 951.5 L727.1 951.7 L728.6 951.8 L730.1 951.9 L731.6 951.9 L733.1 951.9 L734.6 951.9 L736.1 951.9 L737.6 951.9 L739.1 951.9 L740.6 951.9 L742.1 951.8 L743.6 951.8 L745.1 951.8 L746.6 951.8 L748.1 951.8 L749.6 951.8 L751.1 951.8 L752.6 951.8 L754.1 951.8 L755.6 951.8 L757.1 951.7 L758.6 951.7 L760.1 951.7 L761.6 951.7 L763.1 951.7 L764.6 951.7 L766.1 951.7 L767.6 951.7 L769.1 951.7 L770.6 951.7 L772.1 951.6 L773.6 951.6 L775.2 951.6 L776.7 951.6 L778.2 951.6 L779.7 951.6 L781.2 951.6 L782.7 951.6 L784.2 951.6 L785.7 951.6 L787.2 951.5 L788.7 951.5 L790.2 951.5 L791.7 951.5 L793.2 951.5 L794.7 951.5 L796.2 951.5 L797.7 951.5 L799.2 951.5 L800.7 951.5 L802.2 951.4 L803.7 951.4 L805.2 951.4 L806.7 951.4 L808.2 951.4 L809.7 951.4 L811.2 951.4 L812.7 951.4 L814.2 951.4 L815.7 951.4 L817.2 951.3 L818.7 951.3 L820.2 951.3 L821.7 951.3 L823.2 951.3 L824.7 951.3 L826.2 951.3 L827.7 951.3 L829.2 951.3 L830.7 951.3 L832.2 951.2 L833.7 951.2 L835.2 951.2 L836.7 951.2 L838.2 951.2 L839.7 951.2 L841.2 951.2 L842.7 951.2 L844.3 951.2 L845.8 951.2 L847.3 951.1 L848.8 951.1 L850.3 951.1 L851.8 951.1 L853.3 951.1 L854.8 951.1 L856.3 951.1 L857.8 951.1 L859.3 951.1 L860.8 951.1 L862.3 951 L863.8 951 L865.3 951 L866.8 951 L868.3 951 L869.8 951 L871.3 951 L872.8 951 L874.3 951 L875.8 951 L877.3 950.9 L878.8 950.9 L880.3 950.9 L881.8 950.9 L883.3 950.9 L884.8 950.9 L886.3 950.9 L887.8 950.9 L889.3 950.9 L890.8 950.9 L892.3 950.8 L893.8 950.8 L895.3 950.8 L896.8 950.8 L898.3 950.8 L899.8 950.8 L901.3 950.8 L902.8 950.8 L904.3 950.8 L905.8 950.8 L907.3 950.7 L908.8 950.7 L910.3 950.7 L911.8 950.7 L913.3 950.7 L914.9 950.7 L916.4 950.7 L917.9 950.7 L919.4 950.7 L920.9 950.7 L922.4 950.6 L923.9 950.6 L925.4 950.6 L926.9 950.6 L928.4 950.6 L929.9 950.6 L931.4 950.6 L932.9 950.6 L934.4 950.6 L935.9 950.6 L937.4 950.5 L938.9 950.5 L940.4 950.5 L941.9 950.5 L943.4 950.5 L944.9 950.5 L946.4 950.5 L947.9 950.5 L949.4 950.5 L950.9 950.5 L952.4 950.4 L953.9 950.4 L955.4 950.4 L956.9 950.4 L958.4 950.4 L959.9 950.4 L961.4 950.4 L962.9 950.4 L964.4 950.4 L965.9 950.4 L967.4 950.3 L968.9 950.3 L970.4 950.3 L971.9 950.3 L973.4 950.3 L974.9 950.3 L976.4 950.3 L977.9 950.3 L979.4 950.3 L980.9 950.3 L982.4 950.2 L983.9 950.2 L985.5 950.2 L987 950.2 L988.5 950.2 L990 950.2 L991.5 950.2 L993 950.2 L994.5 950.2 L996 950.2 L997.5 950.1 L999 950.1 L1000.5 950.1 L1002 950.1 L1003.5 950.1 L1005 950.1 L1006.5 950.1 L1008 950.1 L1009.5 950.1 L1011 950.1 L1012.5 950 L1014 950 L1015.5 950 L1017 950 L1018.5 950 L1020 950" fill="none" stroke="#ff00ff" stroke-width="4.3" stroke-linejoin="round"/>
<path d="M612.9 1049.5 L614.4 1048.8 L615.9 1047.9 L617.4 1046.8 L618.9 1045.6 L620.4 1044.3 L621.9 1043 L623.4 1041.6 L624.9 1040.2 L626.4 1038.8 L627.9 1037.3 L629.4 1035.8 L630.9 1034.3 L632.4 1032.7 L634 1031.2 L635.5 1029.6 L637 1028 L638.5 1026.4 L640 1024.8 L641.5 1023.2 L643 1021.6 L644.5 1019.9 L646 1018.4 L647.5 1016.9 L649 1015.5 L650.5 1014.2 L652 1013.2 L653.5 1012.5 L655 1012.1 L656.5 1012.1 L658 1012.3 L659.5 1012.9 L661 1013.7 L662.5 1014.6 L664 1015.6 L665.5 1016.7 L667 1017.9 L668.5 1019 L670 1020.2 L671.5 1021.3 L673 1022.5 L674.5 1023.6 L676 1024.8 L677.5 1025.9 L679 1027.1 L680.5 1028.2 L682 1029.3 L683.5 1030.4 L685 1031.5 L686.5 1032.7 L688 1033.8 L689.5 1034.9 L691 1036 L692.5 1037 L694 1038.1 L695.5 1039.2 L697 1040.3 L698.5 1041.3 L700 1042.4 L701.5 1043.4 L703 1044.4 L704.6 1045.5 L706.1 1046.5 L707.6 1047.4 L709.1 1048.4 L710.6 1049.3 L712.1 1050.1 L713.6 1050.9 L715.1 1051.6 L716.6 1052.2 L718.1 1052.7 L719.6 1053 L719.6 1053.8 L612.9 1054.6 Z" fill="url(#hatch)" stroke="none"/>
<path d="M180.3 1057.7 L719.6 1053.8" stroke="#0000ff" stroke-width="4.6" fill="none"/>
<path d="M176.3 1057.9 L1020 1053" stroke="#0000ff" stroke-width="4.6" fill="none"/>
<path d="M175.8 1056.9 L177.3 1056.9 L178.8 1056.9 L180.3 1056.9 L181.8 1056.9 L183.3 1056.9 L184.8 1056.8 L186.3 1056.8 L187.8 1056.8 L189.3 1056.8 L190.8 1056.8 L192.3 1056.8 L193.8 1056.8 L195.3 1056.8 L196.8 1056.8 L198.3 1056.8 L199.8 1056.8 L201.3 1056.8 L202.8 1056.7 L204.3 1056.7 L205.8 1056.7 L207.3 1056.7 L208.8 1056.7 L210.3 1056.7 L211.9 1056.7 L213.4 1056.7 L214.9 1056.7 L216.4 1056.7 L217.9 1056.7 L219.4 1056.6 L220.9 1056.6 L222.4 1056.6 L223.9 1056.6 L225.4 1056.6 L226.9 1056.6 L228.4 1056.6 L229.9 1056.6 L231.4 1056.6 L232.9 1056.6 L234.4 1056.6 L235.9 1056.6 L237.4 1056.5 L238.9 1056.5 L240.4 1056.5 L241.9 1056.5 L243.4 1056.5 L244.9 1056.5 L246.4 1056.5 L247.9 1056.5 L249.4 1056.5 L250.9 1056.5 L252.4 1056.5 L253.9 1056.4 L255.4 1056.4 L256.9 1056.4 L258.4 1056.4 L259.9 1056.4 L261.4 1056.4 L262.9 1056.4 L264.4 1056.4 L265.9 1056.4 L267.4 1056.4 L268.9 1056.4 L270.4 1056.4 L271.9 1056.3 L273.4 1056.3 L274.9 1056.3 L276.4 1056.3 L277.9 1056.3 L279.4 1056.3 L280.9 1056.3 L282.5 1056.3 L284 1056.3 L285.5 1056.3 L287 1056.3 L288.5 1056.2 L290 1056.2 L291.5 1056.2 L293 1056.2 L294.5 1056.2 L296 1056.2 L297.5 1056.2 L299 1056.2 L300.5 1056.2 L302 1056.2 L303.5 1056.2 L305 1056.2 L306.5 1056.1 L308 1056.1 L309.5 1056.1 L311 1056.1 L312.5 1056.1 L314 1056.1 L315.5 1056.1 L317 1056.1 L318.5 1056.1 L320 1056.1 L321.5 1056.1 L323 1056 L324.5 1056 L326 1056 L327.5 1056 L329 1056 L330.5 1056 L332 1056 L333.5 1056 L335 1056 L336.5 1056 L338 1056 L339.5 1055.9 L341 1055.9 L342.5 1055.9 L344 1055.9 L345.5 1055.9 L347 1055.9 L348.5 1055.9 L350 1055.9 L351.5 1055.9 L353.1 1055.9 L354.6 1055.9 L356.1 1055.9 L357.6 1055.8 L359.1 1055.8 L360.6 1055.8 L362.1 1055.8 L363.6 1055.8 L365.1 1055.8 L366.6 1055.8 L368.1 1055.8 L369.6 1055.8 L371.1 1055.8 L372.6 1055.8 L374.1 1055.7 L375.6 1055.7 L377.1 1055.7 L378.6 1055.7 L380.1 1055.7 L381.6 1055.7 L383.1 1055.7 L384.6 1055.7 L386.1 1055.7 L387.6 1055.7 L389.1 1055.7 L390.6 1055.7 L392.1 1055.6 L393.6 1055.6 L395.1 1055.6 L396.6 1055.6 L398.1 1055.6 L399.6 1055.6 L401.1 1055.6 L402.6 1055.6 L404.1 1055.6 L405.6 1055.6 L407.1 1055.6 L408.6 1055.5 L410.1 1055.5 L411.6 1055.5 L413.1 1055.5 L414.6 1055.5 L416.1 1055.5 L417.6 1055.5 L419.1 1055.5 L420.6 1055.5 L422.2 1055.5 L423.7 1055.5 L425.2 1055.5 L426.7 1055.4 L428.2 1055.4 L429.7 1055.4 L431.2 1055.4 L432.7 1055.4 L434.2 1055.4 L435.7 1055.4 L437.2 1055.4 L438.7 1055.4 L440.2 1055.4 L441.7 1055.4 L443.2 1055.3 L444.7 1055.3 L446.2 1055.3 L447.7 1055.3 L449.2 1055.3 L450.7 1055.3 L452.2 1055.3 L453.7 1055.3 L455.2 1055.3 L456.7 1055.3 L458.2 1055.3 L459.7 1055.3 L461.2 1055.2 L462.7 1055.2 L464.2 1055.2 L465.7 1055.2 L467.2 1055.2 L468.7 1055.2 L470.2 1055.2 L471.7 1055.2 L473.2 1055.2 L474.7 1055.2 L476.2 1055.1 L477.7 1055.1 L479.2 1055.1 L480.7 1055.1 L482.2 1055.1 L483.7 1055.1 L485.2 1055.1 L486.7 1055.1 L488.2 1055.1 L489.7 1055.1 L491.2 1055 L492.8 1055 L494.3 1055 L495.8 1055 L497.3 1055 L498.8 1055 L500.3 1055 L501.8 1055 L503.3 1054.9 L504.8 1054.9 L506.3 1054.9 L507.8 1054.9 L509.3 1054.9 L510.8 1054.9 L512.3 1054.8 L513.8 1054.8 L515.3 1054.8 L516.8 1054.8 L518.3 1054.7 L519.8 1054.7 L521.3 1054.7 L522.8 1054.7 L524.3 1054.6 L525.8 1054.6 L527.3 1054.6 L528.8 1054.5 L530.3 1054.5 L531.8 1054.5 L533.3 1054.4 L534.8 1054.4 L536.3 1054.3 L537.8 1054.3 L539.3 1054.2 L540.8 1054.2 L542.3 1054.1 L543.8 1054.1 L545.3 1054 L546.8 1054 L548.3 1053.9 L549.8 1053.9 L551.3 1053.8 L552.8 1053.7 L554.3 1053.7 L555.8 1053.6 L557.3 1053.5 L558.8 1053.5 L560.3 1053.4 L561.8 1053.3 L563.4 1053.2 L564.9 1053.1 L566.4 1053.1 L567.9 1053 L569.4 1052.9 L570.9 1052.8 L572.4 1052.8 L573.9 1052.7 L575.4 1052.6 L576.9 1052.5 L578.4 1052.4 L579.9 1052.4 L581.4 1052.3 L582.9 1052.2 L584.4 1052.1 L585.9 1052.1 L587.4 1052 L588.9 1051.9 L590.4 1051.9 L591.9 1051.8 L593.4 1051.7 L594.9 1051.7 L596.4 1051.6 L597.9 1051.6 L599.4 1051.6 L600.9 1051.5 L602.4 1051.5 L603.9 1051.4 L605.4 1051.3 L606.9 1051.2 L608.4 1050.9 L609.9 1050.6 L611.4 1050.1 L612.9 1049.5 L614.4 1048.8 L615.9 1047.9 L617.4 1046.8 L618.9 1045.6 L620.4 1044.3 L621.9 1043 L623.4 1041.6 L624.9 1040.2 L626.4 1038.8 L627.9 1037.3 L629.4 1035.8 L630.9 1034.3 L632.4 1032.7 L634 1031.2 L635.5 1029.6 L637 1028 L638.5 1026.4 L640 1024.8 L641.5 1023.2 L643 1021.6 L644.5 1019.9 L646 1018.4 L647.5 1016.9 L649 1015.5 L650.5 1014.2 L652 1013.2 L653.5 1012.5 L655 1012.1 L656.5 1012.1 L658 1012.3 L659.5 1012.9 L661 1013.7 L662.5 1014.6 L664 1015.6 L665.5 1016.7 L667 1017.9 L668.5 1019 L670 1020.2 L671.5 1021.3 L673 1022.5 L674.5 1023.6 L676 1024.8 L677.5 1025.9 L679 1027.1 L680.5 1028.2 L682 1029.3 L683.5 1030.4 L685 1031.5 L686.5 1032.7 L688 1033.8 L689.5 1034.9 L691 1036 L692.5 1037 L694 1038.1 L695.5 1039.2 L697 1040.3 L698.5 1041.3 L700 1042.4 L701.5 1043.4 L703 1044.4 L704.6 1045.5 L706.1 1046.5 L707.6 1047.4 L709.1 1048.4 L710.6 1049.3 L712.1 1050.1 L713.6 1050.9 L715.1 1051.6 L716.6 1052.2 L718.1 1052.7 L719.6 1053 L721.1 1053.3 L722.6 1053.5 L724.1 1053.6 L725.6 1053.6 L727.1 1053.7 L728.6 1053.7 L730.1 1053.7 L731.6 1053.7 L733.1 1053.7 L734.6 1053.7 L736.1 1053.6 L737.6 1053.6 L739.1 1053.6 L740.6 1053.6 L742.1 1053.6 L743.6 1053.6 L745.1 1053.6 L746.6 1053.6 L748.1 1053.6 L749.6 1053.6 L751.1 1053.6 L752.6 1053.6 L754.1 1053.5 L755.6 1053.5 L757.1 1053.5 L758.6 1053.5 L760.1 1053.5 L761.6 1053.5 L763.1 1053.5 L764.6 1053.5 L766.1 1053.5 L767.6 1053.5 L769.1 1053.5 L770.6 1053.4 L772.1 1053.4 L773.6 1053.4 L775.2 1053.4 L776.7 1053.4 L778.2 1053.4 L779.7 1053.4 L781.2 1053.4 L782.7 1053.4 L784.2 1053.4 L785.7 1053.4 L787.2 1053.4 L788.7 1053.3 L790.2 1053.3 L791.7 1053.3 L793.2 1053.3 L794.7 1053.3 L796.2 1053.3 L797.7 1053.3 L799.2 1053.3 L800.7 1053.3 L802.2 1053.3 L803.7 1053.3 L805.2 1053.2 L806.7 1053.2 L808.2 1053.2 L809.7 1053.2 L811.2 1053.2 L812.7 1053.2 L814.2 1053.2 L815.7 1053.2 L817.2 1053.2 L818.7 1053.2 L820.2 1053.2 L821.7 1053.2 L823.2 1053.1 L824.7 1053.1 L826.2 1053.1 L827.7 1053.1 L829.2 1053.1 L830.7 1053.1 L832.2 1053.1 L833.7 1053.1 L835.2 1053.1 L836.7 1053.1 L838.2 1053.1 L839.7 1053 L841.2 1053 L842.7 1053 L844.3 1053 L845.8 1053 L847.3 1053 L848.8 1053 L850.3 1053 L851.8 1053 L853.3 1053 L854.8 1053 L856.3 1053 L857.8 1052.9 L859.3 1052.9 L860.8 1052.9 L862.3 1052.9 L863.8 1052.9 L865.3 1052.9 L866.8 1052.9 L868.3 1052.9 L869.8 1052.9 L871.3 1052.9 L872.8 1052.9 L874.3 1052.8 L875.8 1052.8 L877.3 1052.8 L878.8 1052.8 L880.3 1052.8 L881.8 1052.8 L883.3 1052.8 L884.8 1052.8 L886.3 1052.8 L887.8 1052.8 L889.3 1052.8 L890.8 1052.7 L892.3 1052.7 L893.8 1052.7 L895.3 1052.7 L896.8 1052.7 L898.3 1052.7 L899.8 1052.7 L901.3 1052.7 L902.8 1052.7 L904.3 1052.7 L905.8 1052.7 L907.3 1052.7 L908.8 1052.6 L910.3 1052.6 L911.8 1052.6 L913.3 1052.6 L914.9 1052.6 L916.4 1052.6 L917.9 1052.6 L919.4 1052.6 L920.9 1052.6 L922.4 1052.6 L923.9 1052.6 L925.4 1052.5 L926.9 1052.5 L928.4 1052.5 L929.9 1052.5 L931.4 1052.5 L932.9 1052.5 L934.4 1052.5 L935.9 1052.5 L937.4 1052.5 L938.9 1052.5 L940.4 1052.5 L941.9 1052.5 L943.4 1052.4 L944.9 1052.4 L946.4 1052.4 L947.9 1052.4 L949.4 1052.4 L950.9 1052.4 L952.4 1052.4 L953.9 1052.4 L955.4 1052.4 L956.9 1052.4 L958.4 1052.4 L959.9 1052.3 L961.4 1052.3 L962.9 1052.3 L964.4 1052.3 L965.9 1052.3 L967.4 1052.3 L968.9 1052.3 L970.4 1052.3 L971.9 1052.3 L973.4 1052.3 L974.9 1052.3 L976.4 1052.3 L977.9 1052.2 L979.4 1052.2 L980.9 1052.2 L982.4 1052.2 L983.9 1052.2 L985.5 1052.2 L987 1052.2 L988.5 1052.2 L990 1052.2 L991.5 1052.2 L993 1052.2 L994.5 1052.1 L996 1052.1 L997.5 1052.1 L999 1052.1 L1000.5 1052.1 L1002 1052.1 L1003.5 1052.1 L1005 1052.1 L1006.5 1052.1 L1008 1052.1 L1009.5 1052.1 L1011 1052.1 L1012.5 1052 L1014 1052 L1015.5 1052 L1017 1052 L1018.5 1052 L1020 1052" fill="none" stroke="#0000ff" stroke-width="4.3" stroke-linejoin="round"/>
<path d="M632.4 1152.2 L634 1151.5 L635.5 1150.6 L637 1149.5 L638.5 1148.3 L640 1147.1 L641.5 1145.8 L643 1144.5 L644.5 1143.1 L646 1141.7 L647.5 1140.3 L649 1138.9 L650.5 1137.5 L652 1136 L653.5 1134.6 L655 1133.1 L656.5 1131.8 L658 1130.5 L659.5 1129.4 L661 1128.7 L662.5 1128.2 L664 1128 L665.5 1128.3 L667 1128.8 L668.5 1129.5 L670 1130.4 L671.5 1131.4 L673 1132.4 L674.5 1133.4 L676 1134.5 L677.5 1135.5 L679 1136.5 L680.5 1137.5 L682 1138.6 L683.5 1139.5 L685 1140.5 L686.5 1141.5 L688 1142.4 L689.5 1143.3 L691 1144.3 L692.5 1145.2 L694 1146.1 L695.5 1146.9 L697 1147.8 L698.5 1148.6 L700 1149.4 L701.5 1150.2 L703 1151 L704.6 1151.7 L706.1 1152.4 L707.6 1153.1 L709.1 1153.7 L710.6 1154.3 L712.1 1154.9 L713.6 1155.3 L715.1 1155.7 L716.6 1156.1 L718.1 1156.3 L719.6 1156.5 L719.6 1157.3 L632.4 1158 Z" fill="url(#hatch)" stroke="none"/>
<path d="M180.3 1161.5 L719.6 1157.3" stroke="#008000" stroke-width="4.6" fill="none"/>
<path d="M176.3 1161.7 L1020 1155.6" stroke="#008000" stroke-width="4.6" fill="none"/>
<path d="M175.8 1160.7 L177.3 1160.7 L178.8 1160.7 L180.3 1160.7 L181.8 1160.7 L183.3 1160.6 L184.8 1160.6 L186.3 1160.6 L187.8 1160.6 L189.3 1160.6 L190.8 1160.6 L192.3 1160.6 L193.8 1160.6 L195.3 1160.6 L196.8 1160.5 L198.3 1160.5 L199.8 1160.5 L201.3 1160.5 L202.8 1160.5 L204.3 1160.5 L205.8 1160.5 L207.3 1160.5 L208.8 1160.5 L210.3 1160.5 L211.9 1160.4 L213.4 1160.4 L214.9 1160.4 L216.4 1160.4 L217.9 1160.4 L219.4 1160.4 L220.9 1160.4 L222.4 1160.4 L223.9 1160.4 L225.4 1160.3 L226.9 1160.3 L228.4 1160.3 L229.9 1160.3 L231.4 1160.3 L232.9 1160.3 L234.4 1160.3 L235.9 1160.3 L237.4 1160.3 L238.9 1160.2 L240.4 1160.2 L241.9 1160.2 L243.4 1160.2 L244.9 1160.2 L246.4 1160.2 L247.9 1160.2 L249.4 1160.2 L250.9 1160.2 L252.4 1160.1 L253.9 1160.1 L255.4 1160.1 L256.9 1160.1 L258.4 1160.1 L259.9 1160.1 L261.4 1160.1 L262.9 1160.1 L264.4 1160.1 L265.9 1160 L267.4 1160 L268.9 1160 L270.4 1160 L271.9 1160 L273.4 1160 L274.9 1160 L276.4 1160 L277.9 1160 L279.4 1160 L280.9 1159.9 L282.5 1159.9 L284 1159.9 L285.5 1159.9 L287 1159.9 L288.5 1159.9 L290 1159.9 L291.5 1159.9 L293 1159.9 L294.5 1159.8 L296 1159.8 L297.5 1159.8 L299 1159.8 L300.5 1159.8 L302 1159.8 L303.5 1159.8 L305 1159.8 L306.5 1159.8 L308 1159.7 L309.5 1159.7 L311 1159.7 L312.5 1159.7 L314 1159.7 L315.5 1159.7 L317 1159.7 L318.5 1159.7 L320 1159.7 L321.5 1159.6 L323 1159.6 L324.5 1159.6 L326 1159.6 L327.5 1159.6 L329 1159.6 L330.5 1159.6 L332 1159.6 L333.5 1159.6 L335 1159.5 L336.5 1159.5 L338 1159.5 L339.5 1159.5 L341 1159.5 L342.5 1159.5 L344 1159.5 L345.5 1159.5 L347 1159.5 L348.5 1159.5 L350 1159.4 L351.5 1159.4 L353.1 1159.4 L354.6 1159.4 L356.1 1159.4 L357.6 1159.4 L359.1 1159.4 L360.6 1159.4 L362.1 1159.4 L363.6 1159.3 L365.1 1159.3 L366.6 1159.3 L368.1 1159.3 L369.6 1159.3 L371.1 1159.3 L372.6 1159.3 L374.1 1159.3 L375.6 1159.3 L377.1 1159.2 L378.6 1159.2 L380.1 1159.2 L381.6 1159.2 L383.1 1159.2 L384.6 1159.2 L386.1 1159.2 L387.6 1159.2 L389.1 1159.2 L390.6 1159.1 L392.1 1159.1 L393.6 1159.1 L395.1 1159.1 L396.6 1159.1 L398.1 1159.1 L399.6 1159.1 L401.1 1159.1 L402.6 1159.1 L404.1 1159 L405.6 1159 L407.1 1159 L408.6 1159 L410.1 1159 L411.6 1159 L413.1 1159 L414.6 1159 L416.1 1159 L417.6 1159 L419.1 1158.9 L420.6 1158.9 L422.2 1158.9 L423.7 1158.9 L425.2 1158.9 L426.7 1158.9 L428.2 1158.9 L429.7 1158.9 L431.2 1158.9 L432.7 1158.8 L434.2 1158.8 L435.7 1158.8 L437.2 1158.8 L438.7 1158.8 L440.2 1158.8 L441.7 1158.8 L443.2 1158.8 L444.7 1158.8 L446.2 1158.7 L447.7 1158.7 L449.2 1158.7 L450.7 1158.7 L452.2 1158.7 L453.7 1158.7 L455.2 1158.7 L456.7 1158.7 L458.2 1158.6 L459.7 1158.6 L461.2 1158.6 L462.7 1158.6 L464.2 1158.6 L465.7 1158.6 L467.2 1158.6 L468.7 1158.6 L470.2 1158.5 L471.7 1158.5 L473.2 1158.5 L474.7 1158.5 L476.2 1158.5 L477.7 1158.5 L479.2 1158.5 L480.7 1158.4 L482.2 1158.4 L483.7 1158.4 L485.2 1158.4 L486.7 1158.4 L488.2 1158.4 L489.7 1158.4 L491.2 1158.3 L492.8 1158.3 L494.3 1158.3 L495.8 1158.3 L497.3 1158.3 L498.8 1158.2 L500.3 1158.2 L501.8 1158.2 L503.3 1158.2 L504.8 1158.2 L506.3 1158.1 L507.8 1158.1 L509.3 1158.1 L510.8 1158.1 L512.3 1158 L513.8 1158 L515.3 1158 L516.8 1157.9 L518.3 1157.9 L519.8 1157.9 L521.3 1157.8 L522.8 1157.8 L524.3 1157.8 L525.8 1157.7 L527.3 1157.7 L528.8 1157.7 L530.3 1157.6 L531.8 1157.6 L533.3 1157.5 L534.8 1157.5 L536.3 1157.4 L537.8 1157.4 L539.3 1157.4 L540.8 1157.3 L542.3 1157.3 L543.8 1157.2 L545.3 1157.1 L546.8 1157.1 L548.3 1157 L549.8 1157 L551.3 1156.9 L552.8 1156.9 L554.3 1156.8 L555.8 1156.7 L557.3 1156.7 L558.8 1156.6 L560.3 1156.5 L561.8 1156.5 L563.4 1156.4 L564.9 1156.3 L566.4 1156.3 L567.9 1156.2 L569.4 1156.1 L570.9 1156.1 L572.4 1156 L573.9 1155.9 L575.4 1155.8 L576.9 1155.8 L578.4 1155.7 L579.9 1155.6 L581.4 1155.5 L582.9 1155.5 L584.4 1155.4 L585.9 1155.3 L587.4 1155.3 L588.9 1155.2 L590.4 1155.1 L591.9 1155 L593.4 1155 L594.9 1154.9 L596.4 1154.8 L597.9 1154.8 L599.4 1154.7 L600.9 1154.7 L602.4 1154.6 L603.9 1154.5 L605.4 1154.5 L606.9 1154.4 L608.4 1154.4 L609.9 1154.3 L611.4 1154.3 L612.9 1154.2 L614.4 1154.2 L615.9 1154.2 L617.4 1154.1 L618.9 1154.1 L620.4 1154 L621.9 1154 L623.4 1154 L624.9 1153.9 L626.4 1153.8 L627.9 1153.6 L629.4 1153.3 L630.9 1152.8 L632.4 1152.2 L634 1151.5 L635.5 1150.6 L637 1149.5 L638.5 1148.3 L640 1147.1 L641.5 1145.8 L643 1144.5 L644.5 1143.1 L646 1141.7 L647.5 1140.3 L649 1138.9 L650.5 1137.5 L652 1136 L653.5 1134.6 L655 1133.1 L656.5 1131.8 L658 1130.5 L659.5 1129.4 L661 1128.7 L662.5 1128.2 L664 1128 L665.5 1128.3 L667 1128.8 L668.5 1129.5 L670 1130.4 L671.5 1131.4 L673 1132.4 L674.5 1133.4 L676 1134.5 L677.5 1135.5 L679 1136.5 L680.5 1137.5 L682 1138.6 L683.5 1139.5 L685 1140.5 L686.5 1141.5 L688 1142.4 L689.5 1143.3 L691 1144.3 L692.5 1145.2 L694 1146.1 L695.5 1146.9 L697 1147.8 L698.5 1148.6 L700 1149.4 L701.5 1150.2 L703 1151 L704.6 1151.7 L706.1 1152.4 L707.6 1153.1 L709.1 1153.7 L710.6 1154.3 L712.1 1154.9 L713.6 1155.3 L715.1 1155.7 L716.6 1156.1 L718.1 1156.3 L719.6 1156.5 L721.1 1156.6 L722.6 1156.7 L724.1 1156.7 L725.6 1156.7 L727.1 1156.7 L728.6 1156.7 L730.1 1156.7 L731.6 1156.7 L733.1 1156.7 L734.6 1156.7 L736.1 1156.6 L737.6 1156.6 L739.1 1156.6 L740.6 1156.6 L742.1 1156.6 L743.6 1156.5 L745.1 1156.5 L746.6 1156.5 L748.1 1156.5 L749.6 1156.4 L751.1 1156.4 L752.6 1156.4 L754.1 1156.3 L755.6 1156.3 L757.1 1156.2 L758.6 1156.1 L760.1 1156.1 L761.6 1156 L763.1 1155.9 L764.6 1155.8 L766.1 1155.7 L767.6 1155.6 L769.1 1155.5 L770.6 1155.4 L772.1 1155.2 L773.6 1155.1 L775.2 1155 L776.7 1154.9 L778.2 1154.8 L779.7 1154.7 L781.2 1154.6 L782.7 1154.5 L784.2 1154.4 L785.7 1154.4 L787.2 1154.3 L788.7 1154.3 L790.2 1154.3 L791.7 1154.3 L793.2 1154.3 L794.7 1154.3 L796.2 1154.3 L797.7 1154.4 L799.2 1154.5 L800.7 1154.5 L802.2 1154.6 L803.7 1154.7 L805.2 1154.8 L806.7 1154.9 L808.2 1155 L809.7 1155.1 L811.2 1155.2 L812.7 1155.3 L814.2 1155.4 L815.7 1155.4 L817.2 1155.5 L818.7 1155.6 L820.2 1155.6 L821.7 1155.7 L823.2 1155.7 L824.7 1155.8 L826.2 1155.8 L827.7 1155.8 L829.2 1155.8 L830.7 1155.9 L832.2 1155.9 L833.7 1155.9 L835.2 1155.9 L836.7 1155.9 L838.2 1155.9 L839.7 1155.9 L841.2 1155.9 L842.7 1155.9 L844.3 1155.9 L845.8 1155.8 L847.3 1155.8 L848.8 1155.8 L850.3 1155.8 L851.8 1155.8 L853.3 1155.8 L854.8 1155.8 L856.3 1155.8 L857.8 1155.8 L859.3 1155.8 L860.8 1155.8 L862.3 1155.7 L863.8 1155.7 L865.3 1155.7 L866.8 1155.7 L868.3 1155.7 L869.8 1155.7 L871.3 1155.7 L872.8 1155.7 L874.3 1155.7 L875.8 1155.6 L877.3 1155.6 L878.8 1155.6 L880.3 1155.6 L881.8 1155.6 L883.3 1155.6 L884.8 1155.6 L886.3 1155.6 L887.8 1155.6 L889.3 1155.5 L890.8 1155.5 L892.3 1155.5 L893.8 1155.5 L895.3 1155.5 L896.8 1155.5 L898.3 1155.5 L899.8 1155.5 L901.3 1155.5 L902.8 1155.4 L904.3 1155.4 L905.8 1155.4 L907.3 1155.4 L908.8 1155.4 L910.3 1155.4 L911.8 1155.4 L913.3 1155.4 L914.9 1155.4 L916.4 1155.3 L917.9 1155.3 L919.4 1155.3 L920.9 1155.3 L922.4 1155.3 L923.9 1155.3 L925.4 1155.3 L926.9 1155.3 L928.4 1155.3 L929.9 1155.3 L931.4 1155.2 L932.9 1155.2 L934.4 1155.2 L935.9 1155.2 L937.4 1155.2 L938.9 1155.2 L940.4 1155.2 L941.9 1155.2 L943.4 1155.2 L944.9 1155.1 L946.4 1155.1 L947.9 1155.1 L949.4 1155.1 L950.9 1155.1 L952.4 1155.1 L953.9 1155.1 L955.4 1155.1 L956.9 1155.1 L958.4 1155 L959.9 1155 L961.4 1155 L962.9 1155 L964.4 1155 L965.9 1155 L967.4 1155 L968.9 1155 L970.4 1155 L971.9 1154.9 L973.4 1154.9 L974.9 1154.9 L976.4 1154.9 L977.9 1154.9 L979.4 1154.9 L980.9 1154.9 L982.4 1154.9 L983.9 1154.9 L985.5 1154.8 L987 1154.8 L988.5 1154.8 L990 1154.8 L991.5 1154.8 L993 1154.8 L994.5 1154.8 L996 1154.8 L997.5 1154.8 L999 1154.8 L1000.5 1154.7 L1002 1154.7 L1003.5 1154.7 L1005 1154.7 L1006.5 1154.7 L1008 1154.7 L1009.5 1154.7 L1011 1154.7 L1012.5 1154.7 L1014 1154.6 L1015.5 1154.6 L1017 1154.6 L1018.5 1154.6 L1020 1154.6" fill="none" stroke="#008000" stroke-width="4.3" stroke-linejoin="round"/>
<path d="M667 1264.9 L668.5 1264.1 L670 1263.1 L671.5 1261.8 L673 1260.1 L674.5 1258 L676 1255.4 L677.5 1252.4 L679 1248.8 L680.5 1244.9 L682 1240.6 L683.5 1236.1 L685 1231.6 L686.5 1227.3 L688 1223.4 L689.5 1220.2 L691 1217.7 L692.5 1216.1 L694 1215.6 L695.5 1216.2 L697 1217.4 L698.5 1219.2 L700 1221.4 L701.5 1224.1 L703 1226.9 L704.6 1230 L706.1 1233.2 L707.6 1236.4 L709.1 1239.6 L710.6 1242.7 L712.1 1245.7 L713.6 1248.5 L715.1 1251.1 L716.6 1253.6 L718.1 1255.8 L719.6 1257.8 L721.1 1259.6 L722.6 1261.1 L724.1 1262.5 L725.6 1263.7 L727.1 1264.7 L728.6 1265.6 L730.1 1266.3 L731.6 1266.9 L733.1 1267.4 L734.6 1267.8 L734.6 1268.6 L667 1269.2 Z" fill="url(#hatch)" stroke="none"/>
<path d="M180.3 1273.8 L734.6 1268.6" stroke="#ff8000" stroke-width="4.6" fill="none"/>
<path d="M176.3 1274 L1020 1268.6" stroke="#ff8000" stroke-width="4.6" fill="none"/>
<path d="M175.8 1273 L177.3 1273 L178.8 1273 L180.3 1273 L181.8 1273 L183.3 1273 L184.8 1272.9 L186.3 1272.9 L187.8 1272.9 L189.3 1272.9 L190.8 1272.9 L192.3 1272.9 L193.8 1272.9 L195.3 1272.9 L196.8 1272.9 L198.3 1272.9 L199.8 1272.8 L201.3 1272.8 L202.8 1272.8 L204.3 1272.8 L205.8 1272.8 L207.3 1272.8 L208.8 1272.8 L210.3 1272.8 L211.9 1272.8 L213.4 1272.8 L214.9 1272.8 L216.4 1272.7 L217.9 1272.7 L219.4 1272.7 L220.9 1272.7 L222.4 1272.7 L223.9 1272.7 L225.4 1272.7 L226.9 1272.7 L228.4 1272.7 L229.9 1272.7 L231.4 1272.6 L232.9 1272.6 L234.4 1272.6 L235.9 1272.6 L237.4 1272.6 L238.9 1272.6 L240.4 1272.6 L241.9 1272.6 L243.4 1272.6 L244.9 1272.6 L246.4 1272.5 L247.9 1272.5 L249.4 1272.5 L250.9 1272.5 L252.4 1272.5 L253.9 1272.5 L255.4 1272.5 L256.9 1272.5 L258.4 1272.5 L259.9 1272.5 L261.4 1272.5 L262.9 1272.4 L264.4 1272.4 L265.9 1272.4 L267.4 1272.4 L268.9 1272.4 L270.4 1272.4 L271.9 1272.4 L273.4 1272.4 L274.9 1272.4 L276.4 1272.4 L277.9 1272.3 L279.4 1272.3 L280.9 1272.3 L282.5 1272.3 L284 1272.3 L285.5 1272.3 L287 1272.3 L288.5 1272.3 L290 1272.3 L291.5 1272.3 L293 1272.3 L294.5 1272.2 L296 1272.2 L297.5 1272.2 L299 1272.2 L300.5 1272.2 L302 1272.2 L303.5 1272.2 L305 1272.2 L306.5 1272.2 L308 1272.2 L309.5 1272.1 L311 1272.1 L312.5 1272.1 L314 1272.1 L315.5 1272.1 L317 1272.1 L318.5 1272.1 L320 1272.1 L321.5 1272.1 L323 1272.1 L324.5 1272 L326 1272 L327.5 1272 L329 1272 L330.5 1272 L332 1272 L333.5 1272 L335 1272 L336.5 1272 L338 1272 L339.5 1272 L341 1271.9 L342.5 1271.9 L344 1271.9 L345.5 1271.9 L347 1271.9 L348.5 1271.9 L350 1271.9 L351.5 1271.9 L353.1 1271.9 L354.6 1271.9 L356.1 1271.8 L357.6 1271.8 L359.1 1271.8 L360.6 1271.8 L362.1 1271.8 L363.6 1271.8 L365.1 1271.8 L366.6 1271.8 L368.1 1271.8 L369.6 1271.8 L371.1 1271.8 L372.6 1271.7 L374.1 1271.7 L375.6 1271.7 L377.1 1271.7 L378.6 1271.7 L380.1 1271.7 L381.6 1271.7 L383.1 1271.7 L384.6 1271.7 L386.1 1271.7 L387.6 1271.6 L389.1 1271.6 L390.6 1271.6 L392.1 1271.6 L393.6 1271.6 L395.1 1271.6 L396.6 1271.6 L398.1 1271.6 L399.6 1271.6 L401.1 1271.6 L402.6 1271.5 L404.1 1271.5 L405.6 1271.5 L407.1 1271.5 L408.6 1271.5 L410.1 1271.5 L411.6 1271.5 L413.1 1271.5 L414.6 1271.5 L416.1 1271.5 L417.6 1271.5 L419.1 1271.4 L420.6 1271.4 L422.2 1271.4 L423.7 1271.4 L425.2 1271.4 L426.7 1271.4 L428.2 1271.4 L429.7 1271.4 L431.2 1271.4 L432.7 1271.4 L434.2 1271.3 L435.7 1271.3 L437.2 1271.3 L438.7 1271.3 L440.2 1271.3 L441.7 1271.3 L443.2 1271.3 L444.7 1271.3 L446.2 1271.3 L447.7 1271.3 L449.2 1271.3 L450.7 1271.2 L452.2 1271.2 L453.7 1271.2 L455.2 1271.2 L456.7 1271.2 L458.2 1271.2 L459.7 1271.2 L461.2 1271.2 L462.7 1271.2 L464.2 1271.2 L465.7 1271.1 L467.2 1271.1 L468.7 1271.1 L470.2 1271.1 L471.7 1271.1 L473.2 1271.1 L474.7 1271.1 L476.2 1271.1 L477.7 1271.1 L479.2 1271.1 L480.7 1271 L482.2 1271 L483.7 1271 L485.2 1271 L486.7 1271 L488.2 1271 L489.7 1271 L491.2 1271 L492.8 1271 L494.3 1271 L495.8 1271 L497.3 1270.9 L498.8 1270.9 L500.3 1270.9 L501.8 1270.9 L503.3 1270.9 L504.8 1270.9 L506.3 1270.9 L507.8 1270.9 L509.3 1270.9 L510.8 1270.9 L512.3 1270.8 L513.8 1270.8 L515.3 1270.8 L516.8 1270.8 L518.3 1270.8 L519.8 1270.8 L521.3 1270.8 L522.8 1270.8 L524.3 1270.8 L525.8 1270.8 L527.3 1270.7 L528.8 1270.7 L530.3 1270.7 L531.8 1270.7 L533.3 1270.7 L534.8 1270.7 L536.3 1270.7 L537.8 1270.7 L539.3 1270.7 L540.8 1270.6 L542.3 1270.6 L543.8 1270.6 L545.3 1270.6 L546.8 1270.6 L548.3 1270.6 L549.8 1270.6 L551.3 1270.6 L552.8 1270.5 L554.3 1270.5 L555.8 1270.5 L557.3 1270.5 L558.8 1270.5 L560.3 1270.5 L561.8 1270.4 L563.4 1270.4 L564.9 1270.4 L566.4 1270.4 L567.9 1270.4 L569.4 1270.3 L570.9 1270.3 L572.4 1270.3 L573.9 1270.3 L575.4 1270.2 L576.9 1270.2 L578.4 1270.2 L579.9 1270.1 L581.4 1270.1 L582.9 1270.1 L584.4 1270 L585.9 1270 L587.4 1270 L588.9 1269.9 L590.4 1269.9 L591.9 1269.8 L593.4 1269.8 L594.9 1269.7 L596.4 1269.7 L597.9 1269.6 L599.4 1269.6 L600.9 1269.5 L602.4 1269.5 L603.9 1269.4 L605.4 1269.3 L606.9 1269.3 L608.4 1269.2 L609.9 1269.1 L611.4 1269 L612.9 1269 L614.4 1268.9 L615.9 1268.8 L617.4 1268.7 L618.9 1268.7 L620.4 1268.6 L621.9 1268.5 L623.4 1268.4 L624.9 1268.3 L626.4 1268.3 L627.9 1268.2 L629.4 1268.1 L630.9 1268 L632.4 1267.9 L634 1267.9 L635.5 1267.8 L637 1267.7 L638.5 1267.6 L640 1267.6 L641.5 1267.5 L643 1267.4 L644.5 1267.4 L646 1267.3 L647.5 1267.2 L649 1267.2 L650.5 1267.1 L652 1267.1 L653.5 1267 L655 1267 L656.5 1266.9 L658 1266.8 L659.5 1266.7 L661 1266.5 L662.5 1266.2 L664 1265.9 L665.5 1265.4 L667 1264.9 L668.5 1264.1 L670 1263.1 L671.5 1261.8 L673 1260.1 L674.5 1258 L676 1255.4 L677.5 1252.4 L679 1248.8 L680.5 1244.9 L682 1240.6 L683.5 1236.1 L685 1231.6 L686.5 1227.3 L688 1223.4 L689.5 1220.2 L691 1217.7 L692.5 1216.1 L694 1215.6 L695.5 1216.2 L697 1217.4 L698.5 1219.2 L700 1221.4 L701.5 1224.1 L703 1226.9 L704.6 1230 L706.1 1233.2 L707.6 1236.4 L709.1 1239.6 L710.6 1242.7 L712.1 1245.7 L713.6 1248.5 L715.1 1251.1 L716.6 1253.6 L718.1 1255.8 L719.6 1257.8 L721.1 1259.6 L722.6 1261.1 L724.1 1262.5 L725.6 1263.7 L727.1 1264.7 L728.6 1265.6 L730.1 1266.3 L731.6 1266.9 L733.1 1267.4 L734.6 1267.8 L736.1 1268.1 L737.6 1268.4 L739.1 1268.6 L740.6 1268.8 L742.1 1268.9 L743.6 1269 L745.1 1269.1 L746.6 1269.1 L748.1 1269.2 L749.6 1269.2 L751.1 1269.2 L752.6 1269.2 L754.1 1269.3 L755.6 1269.3 L757.1 1269.3 L758.6 1269.3 L760.1 1269.3 L761.6 1269.2 L763.1 1269.2 L764.6 1269.2 L766.1 1269.2 L767.6 1269.2 L769.1 1269.2 L770.6 1269.2 L772.1 1269.2 L773.6 1269.2 L775.2 1269.2 L776.7 1269.2 L778.2 1269.1 L779.7 1269.1 L781.2 1269.1 L782.7 1269.1 L784.2 1269.1 L785.7 1269.1 L787.2 1269.1 L788.7 1269.1 L790.2 1269.1 L791.7 1269.1 L793.2 1269.1 L794.7 1269 L796.2 1269 L797.7 1269 L799.2 1269 L800.7 1269 L802.2 1269 L803.7 1269 L805.2 1269 L806.7 1269 L808.2 1269 L809.7 1268.9 L811.2 1268.9 L812.7 1268.9 L814.2 1268.9 L815.7 1268.9 L817.2 1268.9 L818.7 1268.9 L820.2 1268.9 L821.7 1268.9 L823.2 1268.9 L824.7 1268.8 L826.2 1268.8 L827.7 1268.8 L829.2 1268.8 L830.7 1268.8 L832.2 1268.8 L833.7 1268.8 L835.2 1268.8 L836.7 1268.8 L838.2 1268.8 L839.7 1268.8 L841.2 1268.7 L842.7 1268.7 L844.3 1268.7 L845.8 1268.7 L847.3 1268.7 L848.8 1268.7 L850.3 1268.7 L851.8 1268.7 L853.3 1268.7 L854.8 1268.7 L856.3 1268.6 L857.8 1268.6 L859.3 1268.6 L860.8 1268.6 L862.3 1268.6 L863.8 1268.6 L865.3 1268.6 L866.8 1268.6 L868.3 1268.6 L869.8 1268.6 L871.3 1268.6 L872.8 1268.5 L874.3 1268.5 L875.8 1268.5 L877.3 1268.5 L878.8 1268.5 L880.3 1268.5 L881.8 1268.5 L883.3 1268.5 L884.8 1268.5 L886.3 1268.5 L887.8 1268.4 L889.3 1268.4 L890.8 1268.4 L892.3 1268.4 L893.8 1268.4 L895.3 1268.4 L896.8 1268.4 L898.3 1268.4 L899.8 1268.4 L901.3 1268.4 L902.8 1268.3 L904.3 1268.3 L905.8 1268.3 L907.3 1268.3 L908.8 1268.3 L910.3 1268.3 L911.8 1268.3 L913.3 1268.3 L914.9 1268.3 L916.4 1268.3 L917.9 1268.3 L919.4 1268.2 L920.9 1268.2 L922.4 1268.2 L923.9 1268.2 L925.4 1268.2 L926.9 1268.2 L928.4 1268.2 L929.9 1268.2 L931.4 1268.2 L932.9 1268.2 L934.4 1268.1 L935.9 1268.1 L937.4 1268.1 L938.9 1268.1 L940.4 1268.1 L941.9 1268.1 L943.4 1268.1 L944.9 1268.1 L946.4 1268.1 L947.9 1268.1 L949.4 1268.1 L950.9 1268 L952.4 1268 L953.9 1268 L955.4 1268 L956.9 1268 L958.4 1268 L959.9 1268 L961.4 1268 L962.9 1268 L964.4 1268 L965.9 1267.9 L967.4 1267.9 L968.9 1267.9 L970.4 1267.9 L971.9 1267.9 L973.4 1267.9 L974.9 1267.9 L976.4 1267.9 L977.9 1267.9 L979.4 1267.9 L980.9 1267.8 L982.4 1267.8 L983.9 1267.8 L985.5 1267.8 L987 1267.8 L988.5 1267.8 L990 1267.8 L991.5 1267.8 L993 1267.8 L994.5 1267.8 L996 1267.8 L997.5 1267.7 L999 1267.7 L1000.5 1267.7 L1002 1267.7 L1003.5 1267.7 L1005 1267.7 L1006.5 1267.7 L1008 1267.7 L1009.5 1267.7 L1011 1267.7 L1012.5 1267.6 L1014 1267.6 L1015.5 1267.6 L1017 1267.6 L1018.5 1267.6 L1020 1267.6" fill="none" stroke="#ff8000" stroke-width="4.3" stroke-linejoin="round"/>
<path d="M176.3 1368.6 L1020 1366" stroke="#ff0000" stroke-width="4.6" fill="none"/>
<path d="M175.8 1367.6 L177.3 1367.6 L178.8 1367.6 L180.3 1367.6 L181.8 1367.6 L183.3 1367.6 L184.8 1367.6 L186.3 1367.6 L187.8 1367.6 L189.3 1367.6 L190.8 1367.6 L192.3 1367.5 L193.8 1367.5 L195.3 1367.5 L196.8 1367.5 L198.3 1367.5 L199.8 1367.5 L201.3 1367.5 L202.8 1367.5 L204.3 1367.5 L205.8 1367.5 L207.3 1367.5 L208.8 1367.5 L210.3 1367.5 L211.9 1367.5 L213.4 1367.5 L214.9 1367.5 L216.4 1367.5 L217.9 1367.5 L219.4 1367.5 L220.9 1367.5 L222.4 1367.5 L223.9 1367.4 L225.4 1367.4 L226.9 1367.4 L228.4 1367.4 L229.9 1367.4 L231.4 1367.4 L232.9 1367.4 L234.4 1367.3 L235.9 1367.3 L237.4 1367.3 L238.9 1367.2 L240.4 1367.1 L241.9 1367.1 L243.4 1367 L244.9 1366.9 L246.4 1366.7 L247.9 1366.6 L249.4 1366.4 L250.9 1366.2 L252.4 1366 L253.9 1365.8 L255.4 1365.6 L256.9 1365.4 L258.4 1365.2 L259.9 1365 L261.4 1364.8 L262.9 1364.6 L264.4 1364.5 L265.9 1364.4 L267.4 1364.3 L268.9 1364.3 L270.4 1364.3 L271.9 1364.4 L273.4 1364.4 L274.9 1364.5 L276.4 1364.7 L277.9 1364.8 L279.4 1364.9 L280.9 1365.1 L282.5 1365.3 L284 1365.4 L285.5 1365.6 L287 1365.8 L288.5 1366 L290 1366.1 L291.5 1366.3 L293 1366.4 L294.5 1366.5 L296 1366.6 L297.5 1366.7 L299 1366.8 L300.5 1366.9 L302 1366.9 L303.5 1367 L305 1367 L306.5 1367.1 L308 1367.1 L309.5 1367.1 L311 1367.1 L312.5 1367.1 L314 1367.1 L315.5 1367.1 L317 1367.1 L318.5 1367.1 L320 1367.1 L321.5 1367.1 L323 1367.1 L324.5 1367.1 L326 1367.1 L327.5 1367.1 L329 1367.1 L330.5 1367.1 L332 1367.1 L333.5 1367.1 L335 1367.1 L336.5 1367.1 L338 1367.1 L339.5 1367.1 L341 1367.1 L342.5 1367.1 L344 1367.1 L345.5 1367.1 L347 1367.1 L348.5 1367.1 L350 1367.1 L351.5 1367.1 L353.1 1367.1 L354.6 1367 L356.1 1367 L357.6 1367 L359.1 1367 L360.6 1367 L362.1 1367 L363.6 1367 L365.1 1367 L366.6 1367 L368.1 1367 L369.6 1367 L371.1 1367 L372.6 1367 L374.1 1367 L375.6 1367 L377.1 1367 L378.6 1367 L380.1 1367 L381.6 1367 L383.1 1367 L384.6 1367 L386.1 1367 L387.6 1366.9 L389.1 1366.9 L390.6 1366.9 L392.1 1366.9 L393.6 1366.9 L395.1 1366.9 L396.6 1366.9 L398.1 1366.9 L399.6 1366.9 L401.1 1366.9 L402.6 1366.9 L404.1 1366.9 L405.6 1366.9 L407.1 1366.9 L408.6 1366.9 L410.1 1366.9 L411.6 1366.9 L413.1 1366.9 L414.6 1366.9 L416.1 1366.9 L417.6 1366.9 L419.1 1366.9 L420.6 1366.8 L422.2 1366.8 L423.7 1366.8 L425.2 1366.8 L426.7 1366.8 L428.2 1366.8 L429.7 1366.8 L431.2 1366.8 L432.7 1366.8 L434.2 1366.8 L435.7 1366.8 L437.2 1366.8 L438.7 1366.8 L440.2 1366.8 L441.7 1366.8 L443.2 1366.8 L444.7 1366.8 L446.2 1366.8 L447.7 1366.8 L449.2 1366.8 L450.7 1366.8 L452.2 1366.7 L453.7 1366.7 L455.2 1366.7 L456.7 1366.7 L458.2 1366.7 L459.7 1366.7 L461.2 1366.7 L462.7 1366.7 L464.2 1366.7 L465.7 1366.7 L467.2 1366.7 L468.7 1366.7 L470.2 1366.7 L471.7 1366.7 L473.2 1366.7 L474.7 1366.7 L476.2 1366.7 L477.7 1366.7 L479.2 1366.7 L480.7 1366.7 L482.2 1366.7 L483.7 1366.7 L485.2 1366.6 L486.7 1366.6 L488.2 1366.6 L489.7 1366.6 L491.2 1366.6 L492.8 1366.6 L494.3 1366.6 L495.8 1366.6 L497.3 1366.6 L498.8 1366.6 L500.3 1366.6 L501.8 1366.6 L503.3 1366.6 L504.8 1366.6 L506.3 1366.6 L507.8 1366.6 L509.3 1366.6 L510.8 1366.6 L512.3 1366.6 L513.8 1366.6 L515.3 1366.6 L516.8 1366.5 L518.3 1366.5 L519.8 1366.5 L521.3 1366.5 L522.8 1366.5 L524.3 1366.5 L525.8 1366.5 L527.3 1366.5 L528.8 1366.5 L530.3 1366.5 L531.8 1366.5 L533.3 1366.5 L534.8 1366.5 L536.3 1366.5 L537.8 1366.5 L539.3 1366.5 L540.8 1366.5 L542.3 1366.5 L543.8 1366.5 L545.3 1366.5 L546.8 1366.5 L548.3 1366.5 L549.8 1366.4 L551.3 1366.4 L552.8 1366.4 L554.3 1366.4 L555.8 1366.4 L557.3 1366.4 L558.8 1366.4 L560.3 1366.4 L561.8 1366.4 L563.4 1366.4 L564.9 1366.4 L566.4 1366.4 L567.9 1366.4 L569.4 1366.4 L570.9 1366.4 L572.4 1366.4 L573.9 1366.4 L575.4 1366.4 L576.9 1366.4 L578.4 1366.4 L579.9 1366.4 L581.4 1366.4 L582.9 1366.3 L584.4 1366.3 L585.9 1366.3 L587.4 1366.3 L588.9 1366.3 L590.4 1366.3 L591.9 1366.3 L593.4 1366.3 L594.9 1366.3 L596.4 1366.3 L597.9 1366.3 L599.4 1366.3 L600.9 1366.3 L602.4 1366.3 L603.9 1366.3 L605.4 1366.3 L606.9 1366.3 L608.4 1366.3 L609.9 1366.3 L611.4 1366.3 L612.9 1366.3 L614.4 1366.2 L615.9 1366.2 L617.4 1366.2 L618.9 1366.2 L620.4 1366.2 L621.9 1366.2 L623.4 1366.2 L624.9 1366.2 L626.4 1366.2 L627.9 1366.2 L629.4 1366.2 L630.9 1366.2 L632.4 1366.2 L634 1366.2 L635.5 1366.2 L637 1366.2 L638.5 1366.2 L640 1366.2 L641.5 1366.2 L643 1366.2 L644.5 1366.2 L646 1366.2 L647.5 1366.1 L649 1366.1 L650.5 1366.1 L652 1366.1 L653.5 1366.1 L655 1366.1 L656.5 1366.1 L658 1366.1 L659.5 1366.1 L661 1366.1 L662.5 1366.1 L664 1366.1 L665.5 1366.1 L667 1366.1 L668.5 1366.1 L670 1366.1 L671.5 1366.1 L673 1366.1 L674.5 1366.1 L676 1366.1 L677.5 1366.1 L679 1366.1 L680.5 1366 L682 1366 L683.5 1366 L685 1366 L686.5 1366 L688 1366 L689.5 1366 L691 1366 L692.5 1366 L694 1366 L695.5 1366 L697 1366 L698.5 1366 L700 1366 L701.5 1366 L703 1366 L704.6 1366 L706.1 1366 L707.6 1366 L709.1 1366 L710.6 1366 L712.1 1365.9 L713.6 1365.9 L715.1 1365.9 L716.6 1365.9 L718.1 1365.9 L719.6 1365.9 L721.1 1365.9 L722.6 1365.9 L724.1 1365.9 L725.6 1365.9 L727.1 1365.9 L728.6 1365.9 L730.1 1365.9 L731.6 1365.9 L733.1 1365.9 L734.6 1365.9 L736.1 1365.9 L737.6 1365.9 L739.1 1365.9 L740.6 1365.9 L742.1 1365.9 L743.6 1365.9 L745.1 1365.8 L746.6 1365.8 L748.1 1365.8 L749.6 1365.8 L751.1 1365.8 L752.6 1365.8 L754.1 1365.8 L755.6 1365.8 L757.1 1365.8 L758.6 1365.8 L760.1 1365.8 L761.6 1365.8 L763.1 1365.8 L764.6 1365.8 L766.1 1365.8 L767.6 1365.8 L769.1 1365.8 L770.6 1365.8 L772.1 1365.8 L773.6 1365.8 L775.2 1365.8 L776.7 1365.7 L778.2 1365.7 L779.7 1365.7 L781.2 1365.7 L782.7 1365.7 L784.2 1365.7 L785.7 1365.7 L787.2 1365.7 L788.7 1365.7 L790.2 1365.7 L791.7 1365.7 L793.2 1365.7 L794.7 1365.7 L796.2 1365.7 L797.7 1365.7 L799.2 1365.7 L800.7 1365.7 L802.2 1365.7 L803.7 1365.7 L805.2 1365.7 L806.7 1365.7 L808.2 1365.7 L809.7 1365.6 L811.2 1365.6 L812.7 1365.6 L814.2 1365.6 L815.7 1365.6 L817.2 1365.6 L818.7 1365.6 L820.2 1365.6 L821.7 1365.6 L823.2 1365.6 L824.7 1365.6 L826.2 1365.6 L827.7 1365.6 L829.2 1365.6 L830.7 1365.6 L832.2 1365.6 L833.7 1365.6 L835.2 1365.6 L836.7 1365.6 L838.2 1365.6 L839.7 1365.6 L841.2 1365.6 L842.7 1365.5 L844.3 1365.5 L845.8 1365.5 L847.3 1365.5 L848.8 1365.5 L850.3 1365.5 L851.8 1365.5 L853.3 1365.5 L854.8 1365.5 L856.3 1365.5 L857.8 1365.5 L859.3 1365.5 L860.8 1365.5 L862.3 1365.5 L863.8 1365.5 L865.3 1365.5 L866.8 1365.5 L868.3 1365.5 L869.8 1365.5 L871.3 1365.5 L872.8 1365.5 L874.3 1365.4 L875.8 1365.4 L877.3 1365.4 L878.8 1365.4 L880.3 1365.4 L881.8 1365.4 L883.3 1365.4 L884.8 1365.4 L886.3 1365.4 L887.8 1365.4 L889.3 1365.4 L890.8 1365.4 L892.3 1365.4 L893.8 1365.4 L895.3 1365.4 L896.8 1365.4 L898.3 1365.4 L899.8 1365.4 L901.3 1365.4 L902.8 1365.4 L904.3 1365.4 L905.8 1365.4 L907.3 1365.3 L908.8 1365.3 L910.3 1365.3 L911.8 1365.3 L913.3 1365.3 L914.9 1365.3 L916.4 1365.3 L917.9 1365.3 L919.4 1365.3 L920.9 1365.3 L922.4 1365.3 L923.9 1365.3 L925.4 1365.3 L926.9 1365.3 L928.4 1365.3 L929.9 1365.3 L931.4 1365.3 L932.9 1365.3 L934.4 1365.3 L935.9 1365.3 L937.4 1365.3 L938.9 1365.2 L940.4 1365.2 L941.9 1365.2 L943.4 1365.2 L944.9 1365.2 L946.4 1365.2 L947.9 1365.2 L949.4 1365.2 L950.9 1365.2 L952.4 1365.2 L953.9 1365.2 L955.4 1365.2 L956.9 1365.2 L958.4 1365.2 L959.9 1365.2 L961.4 1365.2 L962.9 1365.2 L964.4 1365.2 L965.9 1365.2 L967.4 1365.2 L968.9 1365.2 L970.4 1365.2 L971.9 1365.1 L973.4 1365.1 L974.9 1365.1 L976.4 1365.1 L977.9 1365.1 L979.4 1365.1 L980.9 1365.1 L982.4 1365.1 L983.9 1365.1 L985.5 1365.1 L987 1365.1 L988.5 1365.1 L990 1365.1 L991.5 1365.1 L993 1365.1 L994.5 1365.1 L996 1365.1 L997.5 1365.1 L999 1365.1 L1000.5 1365.1 L1002 1365.1 L1003.5 1365.1 L1005 1365 L1006.5 1365 L1008 1365 L1009.5 1365 L1011 1365 L1012.5 1365 L1014 1365 L1015.5 1365 L1017 1365 L1018.5 1365 L1020 1365" fill="none" stroke="#ff0000" stroke-width="4.3" stroke-linejoin="round"/>
<path d="M665.5 1450.6 L667 1450.6 L668.5 1450.4 L670 1450.2 L671.5 1450 L673 1449.6 L674.5 1449.2 L676 1448.6 L677.5 1447.9 L679 1447.1 L680.5 1446.2 L682 1445.2 L683.5 1444.2 L685 1443.2 L686.5 1442.2 L688 1441.4 L689.5 1440.8 L691 1440.4 L692.5 1440.3 L694 1440.3 L695.5 1440.6 L697 1440.9 L698.5 1441.4 L700 1441.9 L701.5 1442.6 L703 1443.3 L704.6 1444 L706.1 1444.8 L707.6 1445.5 L709.1 1446.2 L710.6 1446.9 L712.1 1447.5 L713.6 1448 L715.1 1448.5 L716.6 1449 L718.1 1449.3 L719.6 1449.6 L721.1 1449.9 L722.6 1450.1 L724.1 1450.2 L725.6 1450.3 L727.1 1450.4 L727.1 1450.4 L665.5 1450.6 Z" fill="url(#hatch)" stroke="none"/>
<path d="M665.5 1450.6 L727.1 1450.4" stroke="#000000" stroke-width="4.6" fill="none"/>
<path d="M176.3 1453 L1020 1451" stroke="#000000" stroke-width="4.6" fill="none"/>
<path d="M175.8 1452 L177.3 1452 L178.8 1452 L180.3 1452 L181.8 1452 L183.3 1452 L184.8 1452 L186.3 1452 L187.8 1452 L189.3 1452 L190.8 1452 L192.3 1452 L193.8 1452 L195.3 1452 L196.8 1452 L198.3 1451.9 L199.8 1451.9 L201.3 1451.9 L202.8 1451.9 L204.3 1451.9 L205.8 1451.9 L207.3 1451.9 L208.8 1451.9 L210.3 1451.9 L211.9 1451.9 L213.4 1451.9 L214.9 1451.9 L216.4 1451.9 L217.9 1451.9 L219.4 1451.9 L220.9 1451.9 L222.4 1451.9 L223.9 1451.9 L225.4 1451.9 L226.9 1451.9 L228.4 1451.9 L229.9 1451.9 L231.4 1451.9 L232.9 1451.9 L234.4 1451.9 L235.9 1451.9 L237.4 1451.9 L238.9 1451.9 L240.4 1451.8 L241.9 1451.8 L243.4 1451.8 L244.9 1451.8 L246.4 1451.8 L247.9 1451.8 L249.4 1451.8 L250.9 1451.8 L252.4 1451.8 L253.9 1451.8 L255.4 1451.8 L256.9 1451.8 L258.4 1451.8 L259.9 1451.8 L261.4 1451.8 L262.9 1451.8 L264.4 1451.8 L265.9 1451.8 L267.4 1451.8 L268.9 1451.8 L270.4 1451.8 L271.9 1451.8 L273.4 1451.8 L274.9 1451.8 L276.4 1451.8 L277.9 1451.8 L279.4 1451.8 L280.9 1451.8 L282.5 1451.7 L284 1451.7 L285.5 1451.7 L287 1451.7 L288.5 1451.7 L290 1451.7 L291.5 1451.7 L293 1451.7 L294.5 1451.7 L296 1451.7 L297.5 1451.7 L299 1451.7 L300.5 1451.7 L302 1451.7 L303.5 1451.7 L305 1451.7 L306.5 1451.7 L308 1451.7 L309.5 1451.7 L311 1451.7 L312.5 1451.7 L314 1451.7 L315.5 1451.7 L317 1451.7 L318.5 1451.7 L320 1451.7 L321.5 1451.7 L323 1451.7 L324.5 1451.6 L326 1451.6 L327.5 1451.6 L329 1451.6 L330.5 1451.6 L332 1451.6 L333.5 1451.6 L335 1451.6 L336.5 1451.6 L338 1451.6 L339.5 1451.6 L341 1451.6 L342.5 1451.6 L344 1451.6 L345.5 1451.6 L347 1451.6 L348.5 1451.6 L350 1451.6 L351.5 1451.6 L353.1 1451.6 L354.6 1451.6 L356.1 1451.6 L357.6 1451.6 L359.1 1451.6 L360.6 1451.5 L362.1 1451.5 L363.6 1451.5 L365.1 1451.5 L366.6 1451.5 L368.1 1451.5 L369.6 1451.5 L371.1 1451.5 L372.6 1451.5 L374.1 1451.5 L375.6 1451.5 L377.1 1451.5 L378.6 1451.5 L380.1 1451.5 L381.6 1451.5 L383.1 1451.5 L384.6 1451.4 L386.1 1451.4 L387.6 1451.4 L389.1 1451.4 L390.6 1451.4 L392.1 1451.4 L393.6 1451.4 L395.1 1451.4 L396.6 1451.4 L398.1 1451.4 L399.6 1451.3 L401.1 1451.3 L402.6 1451.3 L404.1 1451.3 L405.6 1451.3 L407.1 1451.3 L408.6 1451.3 L410.1 1451.2 L411.6 1451.2 L413.1 1451.2 L414.6 1451.2 L416.1 1451.2 L417.6 1451.2 L419.1 1451.1 L420.6 1451.1 L422.2 1451.1 L423.7 1451.1 L425.2 1451.1 L426.7 1451 L428.2 1451 L429.7 1451 L431.2 1451 L432.7 1450.9 L434.2 1450.9 L435.7 1450.9 L437.2 1450.8 L438.7 1450.8 L440.2 1450.8 L441.7 1450.8 L443.2 1450.7 L444.7 1450.7 L446.2 1450.7 L447.7 1450.6 L449.2 1450.6 L450.7 1450.6 L452.2 1450.5 L453.7 1450.5 L455.2 1450.4 L456.7 1450.4 L458.2 1450.4 L459.7 1450.3 L461.2 1450.3 L462.7 1450.3 L464.2 1450.2 L465.7 1450.2 L467.2 1450.1 L468.7 1450.1 L470.2 1450.1 L471.7 1450 L473.2 1450 L474.7 1449.9 L476.2 1449.9 L477.7 1449.9 L479.2 1449.8 L480.7 1449.8 L482.2 1449.8 L483.7 1449.7 L485.2 1449.7 L486.7 1449.6 L488.2 1449.6 L489.7 1449.6 L491.2 1449.5 L492.8 1449.5 L494.3 1449.5 L495.8 1449.5 L497.3 1449.4 L498.8 1449.4 L500.3 1449.4 L501.8 1449.4 L503.3 1449.3 L504.8 1449.3 L506.3 1449.3 L507.8 1449.3 L509.3 1449.3 L510.8 1449.2 L512.3 1449.2 L513.8 1449.2 L515.3 1449.2 L516.8 1449.2 L518.3 1449.2 L519.8 1449.2 L521.3 1449.2 L522.8 1449.2 L524.3 1449.2 L525.8 1449.2 L527.3 1449.2 L528.8 1449.2 L530.3 1449.2 L531.8 1449.2 L533.3 1449.2 L534.8 1449.2 L536.3 1449.2 L537.8 1449.3 L539.3 1449.3 L540.8 1449.3 L542.3 1449.3 L543.8 1449.3 L545.3 1449.4 L546.8 1449.4 L548.3 1449.4 L549.8 1449.4 L551.3 1449.5 L552.8 1449.5 L554.3 1449.5 L555.8 1449.5 L557.3 1449.6 L558.8 1449.6 L560.3 1449.6 L561.8 1449.7 L563.4 1449.7 L564.9 1449.7 L566.4 1449.8 L567.9 1449.8 L569.4 1449.8 L570.9 1449.8 L572.4 1449.9 L573.9 1449.9 L575.4 1449.9 L576.9 1450 L578.4 1450 L579.9 1450 L581.4 1450.1 L582.9 1450.1 L584.4 1450.1 L585.9 1450.2 L587.4 1450.2 L588.9 1450.2 L590.4 1450.2 L591.9 1450.3 L593.4 1450.3 L594.9 1450.3 L596.4 1450.4 L597.9 1450.4 L599.4 1450.4 L600.9 1450.4 L602.4 1450.4 L603.9 1450.5 L605.4 1450.5 L606.9 1450.5 L608.4 1450.5 L609.9 1450.5 L611.4 1450.6 L612.9 1450.6 L614.4 1450.6 L615.9 1450.6 L617.4 1450.6 L618.9 1450.6 L620.4 1450.7 L621.9 1450.7 L623.4 1450.7 L624.9 1450.7 L626.4 1450.7 L627.9 1450.7 L629.4 1450.7 L630.9 1450.7 L632.4 1450.7 L634 1450.8 L635.5 1450.8 L637 1450.8 L638.5 1450.8 L640 1450.8 L641.5 1450.8 L643 1450.8 L644.5 1450.8 L646 1450.8 L647.5 1450.8 L649 1450.8 L650.5 1450.8 L652 1450.8 L653.5 1450.8 L655 1450.8 L656.5 1450.8 L658 1450.8 L659.5 1450.8 L661 1450.8 L662.5 1450.7 L664 1450.7 L665.5 1450.6 L667 1450.6 L668.5 1450.4 L670 1450.2 L671.5 1450 L673 1449.6 L674.5 1449.2 L676 1448.6 L677.5 1447.9 L679 1447.1 L680.5 1446.2 L682 1445.2 L683.5 1444.2 L685 1443.2 L686.5 1442.2 L688 1441.4 L689.5 1440.8 L691 1440.4 L692.5 1440.3 L694 1440.3 L695.5 1440.6 L697 1440.9 L698.5 1441.4 L700 1441.9 L701.5 1442.6 L703 1443.3 L704.6 1444 L706.1 1444.8 L707.6 1445.5 L709.1 1446.2 L710.6 1446.9 L712.1 1447.5 L713.6 1448 L715.1 1448.5 L716.6 1449 L718.1 1449.3 L719.6 1449.6 L721.1 1449.9 L722.6 1450.1 L724.1 1450.2 L725.6 1450.3 L727.1 1450.4 L728.6 1450.5 L730.1 1450.6 L731.6 1450.6 L733.1 1450.6 L734.6 1450.6 L736.1 1450.6 L737.6 1450.6 L739.1 1450.7 L740.6 1450.7 L742.1 1450.7 L743.6 1450.7 L745.1 1450.6 L746.6 1450.6 L748.1 1450.6 L749.6 1450.6 L751.1 1450.6 L752.6 1450.6 L754.1 1450.6 L755.6 1450.6 L757.1 1450.6 L758.6 1450.6 L760.1 1450.6 L761.6 1450.6 L763.1 1450.6 L764.6 1450.6 L766.1 1450.6 L767.6 1450.6 L769.1 1450.6 L770.6 1450.6 L772.1 1450.6 L773.6 1450.6 L775.2 1450.6 L776.7 1450.6 L778.2 1450.6 L779.7 1450.6 L781.2 1450.6 L782.7 1450.6 L784.2 1450.6 L785.7 1450.6 L787.2 1450.6 L788.7 1450.5 L790.2 1450.5 L791.7 1450.5 L793.2 1450.5 L794.7 1450.5 L796.2 1450.5 L797.7 1450.5 L799.2 1450.5 L800.7 1450.5 L802.2 1450.5 L803.7 1450.5 L805.2 1450.5 L806.7 1450.5 L808.2 1450.5 L809.7 1450.5 L811.2 1450.5 L812.7 1450.5 L814.2 1450.5 L815.7 1450.5 L817.2 1450.5 L818.7 1450.5 L820.2 1450.5 L821.7 1450.5 L823.2 1450.5 L824.7 1450.5 L826.2 1450.5 L827.7 1450.5 L829.2 1450.5 L830.7 1450.4 L832.2 1450.4 L833.7 1450.4 L835.2 1450.4 L836.7 1450.4 L838.2 1450.4 L839.7 1450.4 L841.2 1450.4 L842.7 1450.4 L844.3 1450.4 L845.8 1450.4 L847.3 1450.4 L848.8 1450.4 L850.3 1450.4 L851.8 1450.4 L853.3 1450.4 L854.8 1450.4 L856.3 1450.4 L857.8 1450.4 L859.3 1450.4 L860.8 1450.4 L862.3 1450.4 L863.8 1450.4 L865.3 1450.4 L866.8 1450.4 L868.3 1450.4 L869.8 1450.4 L871.3 1450.4 L872.8 1450.3 L874.3 1450.3 L875.8 1450.3 L877.3 1450.3 L878.8 1450.3 L880.3 1450.3 L881.8 1450.3 L883.3 1450.3 L884.8 1450.3 L886.3 1450.3 L887.8 1450.3 L889.3 1450.3 L890.8 1450.3 L892.3 1450.3 L893.8 1450.3 L895.3 1450.3 L896.8 1450.3 L898.3 1450.3 L899.8 1450.3 L901.3 1450.3 L902.8 1450.3 L904.3 1450.3 L905.8 1450.3 L907.3 1450.3 L908.8 1450.3 L910.3 1450.3 L911.8 1450.3 L913.3 1450.3 L914.9 1450.2 L916.4 1450.2 L917.9 1450.2 L919.4 1450.2 L920.9 1450.2 L922.4 1450.2 L923.9 1450.2 L925.4 1450.2 L926.9 1450.2 L928.4 1450.2 L929.9 1450.2 L931.4 1450.2 L932.9 1450.2 L934.4 1450.2 L935.9 1450.2 L937.4 1450.2 L938.9 1450.2 L940.4 1450.2 L941.9 1450.2 L943.4 1450.2 L944.9 1450.2 L946.4 1450.2 L947.9 1450.2 L949.4 1450.2 L950.9 1450.2 L952.4 1450.2 L953.9 1450.2 L955.4 1450.2 L956.9 1450.1 L958.4 1450.1 L959.9 1450.1 L961.4 1450.1 L962.9 1450.1 L964.4 1450.1 L965.9 1450.1 L967.4 1450.1 L968.9 1450.1 L970.4 1450.1 L971.9 1450.1 L973.4 1450.1 L974.9 1450.1 L976.4 1450.1 L977.9 1450.1 L979.4 1450.1 L980.9 1450.1 L982.4 1450.1 L983.9 1450.1 L985.5 1450.1 L987 1450.1 L988.5 1450.1 L990 1450.1 L991.5 1450.1 L993 1450.1 L994.5 1450.1 L996 1450.1 L997.5 1450.1 L999 1450 L1000.5 1450 L1002 1450 L1003.5 1450 L1005 1450 L1006.5 1450 L1008 1450 L1009.5 1450 L1011 1450 L1012.5 1450 L1014 1450 L1015.5 1450 L1017 1450 L1018.5 1450 L1020 1450" fill="none" stroke="#000000" stroke-width="4.8" stroke-linejoin="round"/>
<line x1="207.8" y1="1482.3" x2="207.8" y2="1495.8" stroke="#6c6c6c" stroke-width="3.8"/>
<line x1="261.9" y1="1482.3" x2="261.9" y2="1490.8" stroke="#6c6c6c" stroke-width="3.3"/>
<line x1="315.9" y1="1482.3" x2="315.9" y2="1490.8" stroke="#6c6c6c" stroke-width="3.3"/>
<line x1="370" y1="1482.3" x2="370" y2="1495.8" stroke="#6c6c6c" stroke-width="3.8"/>
<line x1="424.1" y1="1482.3" x2="424.1" y2="1490.8" stroke="#6c6c6c" stroke-width="3.3"/>
<line x1="478.1" y1="1482.3" x2="478.1" y2="1490.8" stroke="#6c6c6c" stroke-width="3.3"/>
<line x1="532.2" y1="1482.3" x2="532.2" y2="1495.8" stroke="#6c6c6c" stroke-width="3.8"/>
<line x1="586.3" y1="1482.3" x2="586.3" y2="1490.8" stroke="#6c6c6c" stroke-width="3.3"/>
<line x1="640.3" y1="1482.3" x2="640.3" y2="1490.8" stroke="#6c6c6c" stroke-width="3.3"/>
<line x1="694.4" y1="1482.3" x2="694.4" y2="1495.8" stroke="#6c6c6c" stroke-width="3.8"/>
<line x1="748.5" y1="1482.3" x2="748.5" y2="1490.8" stroke="#6c6c6c" stroke-width="3.3"/>
<line x1="802.5" y1="1482.3" x2="802.5" y2="1490.8" stroke="#6c6c6c" stroke-width="3.3"/>
<line x1="856.6" y1="1482.3" x2="856.6" y2="1495.8" stroke="#6c6c6c" stroke-width="3.8"/>
<line x1="910.7" y1="1482.3" x2="910.7" y2="1490.8" stroke="#6c6c6c" stroke-width="3.3"/>
<line x1="964.7" y1="1482.3" x2="964.7" y2="1490.8" stroke="#6c6c6c" stroke-width="3.3"/>
<line x1="1018.8" y1="1482.3" x2="1018.8" y2="1495.8" stroke="#6c6c6c" stroke-width="3.8"/>
<text x="207.8" y="1531.2" font-size="34" text-anchor="middle" class="b">50</text>
<text x="370" y="1531.2" font-size="34" text-anchor="middle" class="b">75</text>
<text x="532.2" y="1531.2" font-size="34" text-anchor="middle" class="b">100</text>
<text x="694.4" y="1531.2" font-size="34" text-anchor="middle" class="b">125</text>
<text x="856.6" y="1531.2" font-size="34" text-anchor="middle" class="b">150</text>
<text x="1018.8" y="1531.2" font-size="34" text-anchor="middle" class="b">175</text>
<text x="422.3" y="1596.1" font-size="41.5" class="b" textLength="350" lengthAdjust="spacing">Temperature (<tspan font-size="24.1" dy="-24.9">o</tspan><tspan dy="24.9">C)</tspan></text>
<text transform="translate(140.9 1180.2) rotate(-90)" font-size="48" class="b" text-anchor="middle" textLength="360" lengthAdjust="spacingAndGlyphs">Heat Flow (mW)</text>
<text class="b"><tspan x="61.4" y="917.6" font-size="79" textLength="23" lengthAdjust="spacingAndGlyphs">(</tspan><tspan x="90" y="917.8" font-size="75.5" textLength="45.5" lengthAdjust="spacingAndGlyphs">B</tspan><tspan x="138.5" y="917.6" font-size="79" textLength="23" lengthAdjust="spacingAndGlyphs">)</tspan></text>
<text x="428.6" y="917.8" font-size="45.5" class="b">T50/MA</text>
<text x="428.6" y="1018.7" font-size="41" class="b">T50</text>
<text x="428.6" y="1119" font-size="41.6" class="b">T70/MA</text>
<text x="428.6" y="1227.9" font-size="41" class="b">T70</text>
<text x="428.6" y="1326.8" font-size="41.6" class="b">T90/MA</text>
<text x="428.6" y="1415.7" font-size="41" class="b">T90</text>
</g>
<g filter="url(#soft)">
<path d="M174.3 1653.7 V2284.2 H1022.2 V1653.7" fill="none" stroke="#b0b0b0" stroke-width="3"/>
<path d="M176.9 1653.9 V2281.8 H1019.6 V1653.9" fill="none" stroke="#606060" stroke-width="2.8"/>
<path d="M172.9 1653.4 H1023.6" fill="none" stroke="#c4c4c4" stroke-width="1.6"/>
<path d="M175.5 1655.5 H1021" fill="none" stroke="#4c4c4c" stroke-width="2.8"/>
<path d="M660 1734.7 L661.5 1734.4 L663 1734 L664.5 1733.6 L666 1733.1 L667.5 1732.5 L669 1731.8 L670.5 1731 L672 1730.2 L673.5 1729.4 L675 1728.5 L676.5 1727.5 L678 1726.5 L679.5 1725.4 L681 1724.3 L682.5 1723.2 L684 1722 L685.5 1720.8 L687 1719.5 L688.5 1718.2 L690 1716.9 L691.5 1715.6 L693 1714.2 L694.5 1712.8 L696 1711.4 L697.5 1710 L699 1708.5 L700.5 1707.1 L702 1705.8 L703.5 1704.5 L705 1703.3 L706.5 1702.3 L708 1701.6 L709.5 1701.2 L711 1701 L712.5 1701.2 L714 1701.7 L715.5 1702.3 L717 1703.1 L718.5 1704.1 L720 1705.1 L721.5 1706.1 L723 1707.2 L724.5 1708.3 L726 1709.4 L727.5 1710.5 L729 1711.6 L730.5 1712.7 L732 1713.8 L733.5 1714.8 L735 1715.9 L736.5 1717 L738 1718.1 L739.5 1719.2 L741 1720.3 L742.5 1721.4 L744 1722.5 L745.5 1723.7 L747 1724.8 L748.5 1725.9 L750 1727 L751.5 1728.1 L753 1729.2 L754.5 1730.3 L756 1731.4 L757.5 1732.4 L759 1733.4 L760.5 1734.3 L762 1735.1 L763.5 1735.8 L765 1736.3 L765 1737.1 L660 1737.7 Z" fill="url(#hatch2)" stroke="none"/>
<path d="M186 1740.3 L765 1737.1" stroke="#ff00ff" stroke-width="4.6" fill="none"/>
<path d="M183.5 1740.1 L1020 1737.1" stroke="#ff00ff" stroke-width="4.2" fill="none"/>
<path d="M183 1739.5 L184.5 1739.5 L186 1739.5 L187.5 1739.5 L189 1739.5 L190.5 1739.5 L192 1739.4 L193.5 1739.4 L195 1739.4 L196.5 1739.4 L198 1739.4 L199.5 1739.4 L201 1739.4 L202.5 1739.4 L204 1739.4 L205.5 1739.4 L207 1739.4 L208.5 1739.4 L210 1739.4 L211.5 1739.4 L213 1739.4 L214.5 1739.4 L216 1739.4 L217.5 1739.4 L219 1739.3 L220.5 1739.3 L222 1739.3 L223.5 1739.3 L225 1739.3 L226.5 1739.3 L228 1739.3 L229.5 1739.3 L231 1739.3 L232.5 1739.3 L234 1739.3 L235.5 1739.3 L237 1739.3 L238.5 1739.3 L240 1739.3 L241.5 1739.3 L243 1739.3 L244.5 1739.3 L246 1739.3 L247.5 1739.2 L249 1739.2 L250.5 1739.2 L252 1739.2 L253.5 1739.2 L255 1739.2 L256.5 1739.2 L258 1739.2 L259.5 1739.2 L261 1739.2 L262.5 1739.2 L264 1739.2 L265.5 1739.2 L267 1739.2 L268.5 1739.2 L270 1739.2 L271.5 1739.2 L273 1739.2 L274.5 1739.2 L276 1739.1 L277.5 1739.1 L279 1739.1 L280.5 1739.1 L282 1739.1 L283.5 1739.1 L285 1739.1 L286.5 1739.1 L288 1739.1 L289.5 1739.1 L291 1739.1 L292.5 1739.1 L294 1739.1 L295.5 1739.1 L297 1739.1 L298.5 1739.1 L300 1739.1 L301.5 1739.1 L303 1739.1 L304.5 1739 L306 1739 L307.5 1739 L309 1739 L310.5 1739 L312 1739 L313.5 1739 L315 1739 L316.5 1739 L318 1739 L319.5 1739 L321 1739 L322.5 1739 L324 1739 L325.5 1739 L327 1739 L328.5 1739 L330 1739 L331.5 1738.9 L333 1738.9 L334.5 1738.9 L336 1738.9 L337.5 1738.9 L339 1738.9 L340.5 1738.9 L342 1738.9 L343.5 1738.9 L345 1738.9 L346.5 1738.9 L348 1738.9 L349.5 1738.9 L351 1738.9 L352.5 1738.9 L354 1738.9 L355.5 1738.9 L357 1738.9 L358.5 1738.9 L360 1738.8 L361.5 1738.8 L363 1738.8 L364.5 1738.8 L366 1738.8 L367.5 1738.8 L369 1738.8 L370.5 1738.8 L372 1738.8 L373.5 1738.8 L375 1738.8 L376.5 1738.8 L378 1738.8 L379.5 1738.8 L381 1738.8 L382.5 1738.8 L384 1738.8 L385.5 1738.8 L387 1738.8 L388.5 1738.7 L390 1738.7 L391.5 1738.7 L393 1738.7 L394.5 1738.7 L396 1738.7 L397.5 1738.7 L399 1738.7 L400.5 1738.7 L402 1738.7 L403.5 1738.7 L405 1738.7 L406.5 1738.7 L408 1738.7 L409.5 1738.7 L411 1738.7 L412.5 1738.7 L414 1738.7 L415.5 1738.6 L417 1738.6 L418.5 1738.6 L420 1738.6 L421.5 1738.6 L423 1738.6 L424.5 1738.6 L426 1738.6 L427.5 1738.6 L429 1738.6 L430.5 1738.6 L432 1738.6 L433.5 1738.6 L435 1738.6 L436.5 1738.6 L438 1738.6 L439.5 1738.6 L441 1738.6 L442.5 1738.6 L444 1738.5 L445.5 1738.5 L447 1738.5 L448.5 1738.5 L450 1738.5 L451.5 1738.5 L453 1738.5 L454.5 1738.5 L456 1738.5 L457.5 1738.5 L459 1738.5 L460.5 1738.5 L462 1738.5 L463.5 1738.5 L465 1738.5 L466.5 1738.5 L468 1738.5 L469.5 1738.5 L471 1738.5 L472.5 1738.4 L474 1738.4 L475.5 1738.4 L477 1738.4 L478.5 1738.4 L480 1738.4 L481.5 1738.4 L483 1738.4 L484.5 1738.4 L486 1738.4 L487.5 1738.4 L489 1738.4 L490.5 1738.4 L492 1738.4 L493.5 1738.4 L495 1738.4 L496.5 1738.4 L498 1738.4 L499.5 1738.4 L501 1738.3 L502.5 1738.3 L504 1738.3 L505.5 1738.3 L507 1738.3 L508.5 1738.3 L510 1738.3 L511.5 1738.3 L513 1738.3 L514.5 1738.3 L516 1738.3 L517.5 1738.3 L519 1738.3 L520.5 1738.3 L522 1738.3 L523.5 1738.3 L525 1738.3 L526.5 1738.2 L528 1738.2 L529.5 1738.2 L531 1738.2 L532.5 1738.2 L534 1738.2 L535.5 1738.2 L537 1738.2 L538.5 1738.2 L540 1738.2 L541.5 1738.2 L543 1738.2 L544.5 1738.2 L546 1738.2 L547.5 1738.1 L549 1738.1 L550.5 1738.1 L552 1738.1 L553.5 1738.1 L555 1738.1 L556.5 1738.1 L558 1738.1 L559.5 1738.1 L561 1738 L562.5 1738 L564 1738 L565.5 1738 L567 1738 L568.5 1738 L570 1737.9 L571.5 1737.9 L573 1737.9 L574.5 1737.9 L576 1737.9 L577.5 1737.8 L579 1737.8 L580.5 1737.8 L582 1737.7 L583.5 1737.7 L585 1737.7 L586.5 1737.6 L588 1737.6 L589.5 1737.6 L591 1737.5 L592.5 1737.5 L594 1737.5 L595.5 1737.4 L597 1737.4 L598.5 1737.3 L600 1737.3 L601.5 1737.2 L603 1737.2 L604.5 1737.1 L606 1737.1 L607.5 1737 L609 1736.9 L610.5 1736.9 L612 1736.8 L613.5 1736.8 L615 1736.7 L616.5 1736.6 L618 1736.6 L619.5 1736.5 L621 1736.4 L622.5 1736.4 L624 1736.3 L625.5 1736.2 L627 1736.2 L628.5 1736.1 L630 1736 L631.5 1736 L633 1735.9 L634.5 1735.9 L636 1735.8 L637.5 1735.8 L639 1735.7 L640.5 1735.7 L642 1735.6 L643.5 1735.6 L645 1735.5 L646.5 1735.5 L648 1735.4 L649.5 1735.4 L651 1735.4 L652.5 1735.3 L654 1735.3 L655.5 1735.2 L657 1735.1 L658.5 1734.9 L660 1734.7 L661.5 1734.4 L663 1734 L664.5 1733.6 L666 1733.1 L667.5 1732.5 L669 1731.8 L670.5 1731 L672 1730.2 L673.5 1729.4 L675 1728.5 L676.5 1727.5 L678 1726.5 L679.5 1725.4 L681 1724.3 L682.5 1723.2 L684 1722 L685.5 1720.8 L687 1719.5 L688.5 1718.2 L690 1716.9 L691.5 1715.6 L693 1714.2 L694.5 1712.8 L696 1711.4 L697.5 1710 L699 1708.5 L700.5 1707.1 L702 1705.8 L703.5 1704.5 L705 1703.3 L706.5 1702.3 L708 1701.6 L709.5 1701.2 L711 1701 L712.5 1701.2 L714 1701.7 L715.5 1702.3 L717 1703.1 L718.5 1704.1 L720 1705.1 L721.5 1706.1 L723 1707.2 L724.5 1708.3 L726 1709.4 L727.5 1710.5 L729 1711.6 L730.5 1712.7 L732 1713.8 L733.5 1714.8 L735 1715.9 L736.5 1717 L738 1718.1 L739.5 1719.2 L741 1720.3 L742.5 1721.4 L744 1722.5 L745.5 1723.7 L747 1724.8 L748.5 1725.9 L750 1727 L751.5 1728.1 L753 1729.2 L754.5 1730.3 L756 1731.4 L757.5 1732.4 L759 1733.4 L760.5 1734.3 L762 1735.1 L763.5 1735.8 L765 1736.3 L766.5 1736.7 L768 1737 L769.5 1737.1 L771 1737.3 L772.5 1737.3 L774 1737.3 L775.5 1737.4 L777 1737.4 L778.5 1737.4 L780 1737.4 L781.5 1737.3 L783 1737.3 L784.5 1737.3 L786 1737.3 L787.5 1737.3 L789 1737.3 L790.5 1737.3 L792 1737.3 L793.5 1737.3 L795 1737.3 L796.5 1737.3 L798 1737.3 L799.5 1737.3 L801 1737.3 L802.5 1737.3 L804 1737.3 L805.5 1737.3 L807 1737.3 L808.5 1737.3 L810 1737.2 L811.5 1737.2 L813 1737.2 L814.5 1737.2 L816 1737.2 L817.5 1737.2 L819 1737.2 L820.5 1737.2 L822 1737.2 L823.5 1737.2 L825 1737.2 L826.5 1737.2 L828 1737.2 L829.5 1737.2 L831 1737.2 L832.5 1737.2 L834 1737.2 L835.5 1737.2 L837 1737.2 L838.5 1737.1 L840 1737.1 L841.5 1737.1 L843 1737.1 L844.5 1737.1 L846 1737.1 L847.5 1737.1 L849 1737.1 L850.5 1737.1 L852 1737.1 L853.5 1737.1 L855 1737.1 L856.5 1737.1 L858 1737.1 L859.5 1737.1 L861 1737.1 L862.5 1737.1 L864 1737.1 L865.5 1737 L867 1737 L868.5 1737 L870 1737 L871.5 1737 L873 1737 L874.5 1737 L876 1737 L877.5 1737 L879 1737 L880.5 1737 L882 1737 L883.5 1737 L885 1737 L886.5 1737 L888 1737 L889.5 1737 L891 1737 L892.5 1737 L894 1736.9 L895.5 1736.9 L897 1736.9 L898.5 1736.9 L900 1736.9 L901.5 1736.9 L903 1736.9 L904.5 1736.9 L906 1736.9 L907.5 1736.9 L909 1736.9 L910.5 1736.9 L912 1736.9 L913.5 1736.9 L915 1736.9 L916.5 1736.9 L918 1736.9 L919.5 1736.9 L921 1736.9 L922.5 1736.8 L924 1736.8 L925.5 1736.8 L927 1736.8 L928.5 1736.8 L930 1736.8 L931.5 1736.8 L933 1736.8 L934.5 1736.8 L936 1736.8 L937.5 1736.8 L939 1736.8 L940.5 1736.8 L942 1736.8 L943.5 1736.8 L945 1736.8 L946.5 1736.8 L948 1736.8 L949.5 1736.8 L951 1736.7 L952.5 1736.7 L954 1736.7 L955.5 1736.7 L957 1736.7 L958.5 1736.7 L960 1736.7 L961.5 1736.7 L963 1736.7 L964.5 1736.7 L966 1736.7 L967.5 1736.7 L969 1736.7 L970.5 1736.7 L972 1736.7 L973.5 1736.7 L975 1736.7 L976.5 1736.7 L978 1736.6 L979.5 1736.6 L981 1736.6 L982.5 1736.6 L984 1736.6 L985.5 1736.6 L987 1736.6 L988.5 1736.6 L990 1736.6 L991.5 1736.6 L993 1736.6 L994.5 1736.6 L996 1736.6 L997.5 1736.6 L999 1736.6 L1000.5 1736.6 L1002 1736.6 L1003.5 1736.6 L1005 1736.6 L1006.5 1736.5 L1008 1736.5 L1009.5 1736.5 L1011 1736.5 L1012.5 1736.5 L1014 1736.5 L1015.5 1736.5 L1017 1736.5 L1018.5 1736.5 L1020 1736.5" fill="none" stroke="#ff00ff" stroke-width="4.3" stroke-linejoin="round"/>
<path d="M661.5 1838.8 L663 1838.6 L664.5 1838.4 L666 1838.1 L667.5 1837.8 L669 1837.5 L670.5 1837.1 L672 1836.7 L673.5 1836.2 L675 1835.6 L676.5 1834.9 L678 1834.1 L679.5 1833.2 L681 1832.1 L682.5 1830.8 L684 1829.3 L685.5 1827.6 L687 1825.6 L688.5 1823.4 L690 1820.8 L691.5 1817.8 L693 1814.4 L694.5 1810.7 L696 1806.6 L697.5 1802.4 L699 1797.9 L700.5 1793.3 L702 1788.6 L703.5 1784 L705 1779.5 L706.5 1775.3 L708 1771.5 L709.5 1768.4 L711 1766 L712.5 1764.5 L714 1763.9 L715.5 1764.4 L717 1765.7 L718.5 1767.7 L720 1770.4 L721.5 1773.5 L723 1777.2 L724.5 1781.2 L726 1785.4 L727.5 1789.9 L729 1794.4 L730.5 1798.9 L732 1803.3 L733.5 1807.6 L735 1811.6 L736.5 1815.5 L738 1819 L739.5 1822.3 L741 1825.2 L742.5 1827.8 L744 1830.1 L745.5 1832.1 L747 1833.9 L748.5 1835.4 L750 1836.7 L751.5 1837.7 L753 1838.6 L754.5 1839.4 L756 1839.9 L757.5 1840.4 L759 1840.8 L760.5 1841.1 L762 1841.3 L762 1842.1 L661.5 1843.2 Z" fill="url(#hatch2)" stroke="none"/>
<path d="M186 1848.3 L762 1842.1" stroke="#0000ff" stroke-width="4.6" fill="none"/>
<path d="M183.5 1848.1 L1020 1840.3" stroke="#0000ff" stroke-width="4.2" fill="none"/>
<path d="M183 1847.5 L184.5 1847.5 L186 1847.5 L187.5 1847.5 L189 1847.5 L190.5 1847.5 L192 1847.5 L193.5 1847.4 L195 1847.4 L196.5 1847.4 L198 1847.4 L199.5 1847.4 L201 1847.4 L202.5 1847.4 L204 1847.3 L205.5 1847.3 L207 1847.3 L208.5 1847.3 L210 1847.3 L211.5 1847.3 L213 1847.3 L214.5 1847.2 L216 1847.2 L217.5 1847.2 L219 1847.2 L220.5 1847.2 L222 1847.2 L223.5 1847.2 L225 1847.1 L226.5 1847.1 L228 1847.1 L229.5 1847.1 L231 1847.1 L232.5 1847.1 L234 1847.1 L235.5 1847 L237 1847 L238.5 1847 L240 1847 L241.5 1847 L243 1847 L244.5 1847 L246 1846.9 L247.5 1846.9 L249 1846.9 L250.5 1846.9 L252 1846.9 L253.5 1846.9 L255 1846.9 L256.5 1846.9 L258 1846.8 L259.5 1846.8 L261 1846.8 L262.5 1846.8 L264 1846.8 L265.5 1846.8 L267 1846.8 L268.5 1846.7 L270 1846.7 L271.5 1846.7 L273 1846.7 L274.5 1846.7 L276 1846.7 L277.5 1846.7 L279 1846.6 L280.5 1846.6 L282 1846.6 L283.5 1846.6 L285 1846.6 L286.5 1846.6 L288 1846.6 L289.5 1846.5 L291 1846.5 L292.5 1846.5 L294 1846.5 L295.5 1846.5 L297 1846.5 L298.5 1846.5 L300 1846.4 L301.5 1846.4 L303 1846.4 L304.5 1846.4 L306 1846.4 L307.5 1846.4 L309 1846.4 L310.5 1846.3 L312 1846.3 L313.5 1846.3 L315 1846.3 L316.5 1846.3 L318 1846.3 L319.5 1846.3 L321 1846.2 L322.5 1846.2 L324 1846.2 L325.5 1846.2 L327 1846.2 L328.5 1846.2 L330 1846.2 L331.5 1846.1 L333 1846.1 L334.5 1846.1 L336 1846.1 L337.5 1846.1 L339 1846.1 L340.5 1846.1 L342 1846 L343.5 1846 L345 1846 L346.5 1846 L348 1846 L349.5 1846 L351 1846 L352.5 1846 L354 1845.9 L355.5 1845.9 L357 1845.9 L358.5 1845.9 L360 1845.9 L361.5 1845.9 L363 1845.9 L364.5 1845.8 L366 1845.8 L367.5 1845.8 L369 1845.8 L370.5 1845.8 L372 1845.8 L373.5 1845.8 L375 1845.7 L376.5 1845.7 L378 1845.7 L379.5 1845.7 L381 1845.7 L382.5 1845.7 L384 1845.7 L385.5 1845.6 L387 1845.6 L388.5 1845.6 L390 1845.6 L391.5 1845.6 L393 1845.6 L394.5 1845.6 L396 1845.5 L397.5 1845.5 L399 1845.5 L400.5 1845.5 L402 1845.5 L403.5 1845.5 L405 1845.5 L406.5 1845.4 L408 1845.4 L409.5 1845.4 L411 1845.4 L412.5 1845.4 L414 1845.4 L415.5 1845.4 L417 1845.3 L418.5 1845.3 L420 1845.3 L421.5 1845.3 L423 1845.3 L424.5 1845.3 L426 1845.3 L427.5 1845.2 L429 1845.2 L430.5 1845.2 L432 1845.2 L433.5 1845.2 L435 1845.2 L436.5 1845.2 L438 1845.2 L439.5 1845.1 L441 1845.1 L442.5 1845.1 L444 1845.1 L445.5 1845.1 L447 1845.1 L448.5 1845.1 L450 1845 L451.5 1845 L453 1845 L454.5 1845 L456 1845 L457.5 1845 L459 1845 L460.5 1844.9 L462 1844.9 L463.5 1844.9 L465 1844.9 L466.5 1844.9 L468 1844.9 L469.5 1844.9 L471 1844.8 L472.5 1844.8 L474 1844.8 L475.5 1844.8 L477 1844.8 L478.5 1844.8 L480 1844.8 L481.5 1844.7 L483 1844.7 L484.5 1844.7 L486 1844.7 L487.5 1844.7 L489 1844.7 L490.5 1844.7 L492 1844.6 L493.5 1844.6 L495 1844.6 L496.5 1844.6 L498 1844.6 L499.5 1844.6 L501 1844.6 L502.5 1844.5 L504 1844.5 L505.5 1844.5 L507 1844.5 L508.5 1844.5 L510 1844.5 L511.5 1844.5 L513 1844.4 L514.5 1844.4 L516 1844.4 L517.5 1844.4 L519 1844.4 L520.5 1844.4 L522 1844.4 L523.5 1844.3 L525 1844.3 L526.5 1844.3 L528 1844.3 L529.5 1844.3 L531 1844.3 L532.5 1844.3 L534 1844.2 L535.5 1844.2 L537 1844.2 L538.5 1844.2 L540 1844.2 L541.5 1844.2 L543 1844.1 L544.5 1844.1 L546 1844.1 L547.5 1844.1 L549 1844.1 L550.5 1844 L552 1844 L553.5 1844 L555 1844 L556.5 1844 L558 1843.9 L559.5 1843.9 L561 1843.9 L562.5 1843.9 L564 1843.8 L565.5 1843.8 L567 1843.8 L568.5 1843.8 L570 1843.7 L571.5 1843.7 L573 1843.7 L574.5 1843.6 L576 1843.6 L577.5 1843.6 L579 1843.5 L580.5 1843.5 L582 1843.4 L583.5 1843.4 L585 1843.3 L586.5 1843.3 L588 1843.2 L589.5 1843.2 L591 1843.1 L592.5 1843.1 L594 1843 L595.5 1843 L597 1842.9 L598.5 1842.8 L600 1842.8 L601.5 1842.7 L603 1842.6 L604.5 1842.5 L606 1842.5 L607.5 1842.4 L609 1842.3 L610.5 1842.2 L612 1842.2 L613.5 1842.1 L615 1842 L616.5 1841.9 L618 1841.8 L619.5 1841.7 L621 1841.7 L622.5 1841.6 L624 1841.5 L625.5 1841.4 L627 1841.3 L628.5 1841.2 L630 1841.1 L631.5 1841.1 L633 1841 L634.5 1840.9 L636 1840.8 L637.5 1840.7 L639 1840.7 L640.5 1840.6 L642 1840.5 L643.5 1840.4 L645 1840.4 L646.5 1840.3 L648 1840.2 L649.5 1840.1 L651 1840 L652.5 1839.9 L654 1839.8 L655.5 1839.6 L657 1839.5 L658.5 1839.3 L660 1839.1 L661.5 1838.8 L663 1838.6 L664.5 1838.4 L666 1838.1 L667.5 1837.8 L669 1837.5 L670.5 1837.1 L672 1836.7 L673.5 1836.2 L675 1835.6 L676.5 1834.9 L678 1834.1 L679.5 1833.2 L681 1832.1 L682.5 1830.8 L684 1829.3 L685.5 1827.6 L687 1825.6 L688.5 1823.4 L690 1820.8 L691.5 1817.8 L693 1814.4 L694.5 1810.7 L696 1806.6 L697.5 1802.4 L699 1797.9 L700.5 1793.3 L702 1788.6 L703.5 1784 L705 1779.5 L706.5 1775.3 L708 1771.5 L709.5 1768.4 L711 1766 L712.5 1764.5 L714 1763.9 L715.5 1764.4 L717 1765.7 L718.5 1767.7 L720 1770.4 L721.5 1773.5 L723 1777.2 L724.5 1781.2 L726 1785.4 L727.5 1789.9 L729 1794.4 L730.5 1798.9 L732 1803.3 L733.5 1807.6 L735 1811.6 L736.5 1815.5 L738 1819 L739.5 1822.3 L741 1825.2 L742.5 1827.8 L744 1830.1 L745.5 1832.1 L747 1833.9 L748.5 1835.4 L750 1836.7 L751.5 1837.7 L753 1838.6 L754.5 1839.4 L756 1839.9 L757.5 1840.4 L759 1840.8 L760.5 1841.1 L762 1841.3 L763.5 1841.5 L765 1841.6 L766.5 1841.7 L768 1841.8 L769.5 1841.9 L771 1841.9 L772.5 1841.9 L774 1841.9 L775.5 1841.9 L777 1841.9 L778.5 1841.9 L780 1841.9 L781.5 1841.9 L783 1841.9 L784.5 1841.9 L786 1841.9 L787.5 1841.9 L789 1841.9 L790.5 1841.8 L792 1841.8 L793.5 1841.8 L795 1841.8 L796.5 1841.8 L798 1841.8 L799.5 1841.8 L801 1841.8 L802.5 1841.7 L804 1841.7 L805.5 1841.7 L807 1841.7 L808.5 1841.7 L810 1841.7 L811.5 1841.7 L813 1841.6 L814.5 1841.6 L816 1841.6 L817.5 1841.6 L819 1841.6 L820.5 1841.6 L822 1841.6 L823.5 1841.5 L825 1841.5 L826.5 1841.5 L828 1841.5 L829.5 1841.5 L831 1841.5 L832.5 1841.5 L834 1841.4 L835.5 1841.4 L837 1841.4 L838.5 1841.4 L840 1841.4 L841.5 1841.4 L843 1841.4 L844.5 1841.3 L846 1841.3 L847.5 1841.3 L849 1841.3 L850.5 1841.3 L852 1841.3 L853.5 1841.3 L855 1841.2 L856.5 1841.2 L858 1841.2 L859.5 1841.2 L861 1841.2 L862.5 1841.2 L864 1841.2 L865.5 1841.1 L867 1841.1 L868.5 1841.1 L870 1841.1 L871.5 1841.1 L873 1841.1 L874.5 1841.1 L876 1841 L877.5 1841 L879 1841 L880.5 1841 L882 1841 L883.5 1841 L885 1841 L886.5 1841 L888 1840.9 L889.5 1840.9 L891 1840.9 L892.5 1840.9 L894 1840.9 L895.5 1840.9 L897 1840.9 L898.5 1840.8 L900 1840.8 L901.5 1840.8 L903 1840.8 L904.5 1840.8 L906 1840.8 L907.5 1840.8 L909 1840.7 L910.5 1840.7 L912 1840.7 L913.5 1840.7 L915 1840.7 L916.5 1840.7 L918 1840.7 L919.5 1840.6 L921 1840.6 L922.5 1840.6 L924 1840.6 L925.5 1840.6 L927 1840.6 L928.5 1840.6 L930 1840.5 L931.5 1840.5 L933 1840.5 L934.5 1840.5 L936 1840.5 L937.5 1840.5 L939 1840.5 L940.5 1840.4 L942 1840.4 L943.5 1840.4 L945 1840.4 L946.5 1840.4 L948 1840.4 L949.5 1840.4 L951 1840.3 L952.5 1840.3 L954 1840.3 L955.5 1840.3 L957 1840.3 L958.5 1840.3 L960 1840.3 L961.5 1840.2 L963 1840.2 L964.5 1840.2 L966 1840.2 L967.5 1840.2 L969 1840.2 L970.5 1840.2 L972 1840.1 L973.5 1840.1 L975 1840.1 L976.5 1840.1 L978 1840.1 L979.5 1840.1 L981 1840.1 L982.5 1840.1 L984 1840 L985.5 1840 L987 1840 L988.5 1840 L990 1840 L991.5 1840 L993 1840 L994.5 1839.9 L996 1839.9 L997.5 1839.9 L999 1839.9 L1000.5 1839.9 L1002 1839.9 L1003.5 1839.9 L1005 1839.8 L1006.5 1839.8 L1008 1839.8 L1009.5 1839.8 L1011 1839.8 L1012.5 1839.8 L1014 1839.8 L1015.5 1839.7 L1017 1839.7 L1018.5 1839.7 L1020 1839.7" fill="none" stroke="#0000ff" stroke-width="4.3" stroke-linejoin="round"/>
<path d="M661.5 1933.3 L663 1932.9 L664.5 1932.4 L666 1931.8 L667.5 1931.1 L669 1930.3 L670.5 1929.5 L672 1928.6 L673.5 1927.7 L675 1926.7 L676.5 1925.6 L678 1924.6 L679.5 1923.4 L681 1922.3 L682.5 1921.1 L684 1919.8 L685.5 1918.5 L687 1917.2 L688.5 1915.9 L690 1914.5 L691.5 1913.1 L693 1911.7 L694.5 1910.3 L696 1908.8 L697.5 1907.4 L699 1906 L700.5 1904.6 L702 1903.3 L703.5 1902.2 L705 1901.2 L706.5 1900.5 L708 1900.1 L709.5 1899.9 L711 1900.1 L712.5 1900.5 L714 1901.1 L715.5 1901.9 L717 1902.7 L718.5 1903.7 L720 1904.6 L721.5 1905.6 L723 1906.6 L724.5 1907.6 L726 1908.6 L727.5 1909.6 L729 1910.6 L730.5 1911.7 L732 1912.7 L733.5 1913.7 L735 1914.8 L736.5 1915.8 L738 1916.9 L739.5 1917.9 L741 1919 L742.5 1920 L744 1921.1 L745.5 1922.2 L747 1923.3 L748.5 1924.4 L750 1925.5 L751.5 1926.7 L753 1927.8 L754.5 1929 L756 1930.1 L757.5 1931.2 L759 1932.2 L760.5 1933.2 L762 1934 L763.5 1934.7 L763.5 1935.5 L661.5 1936.3 Z" fill="url(#hatch2)" stroke="none"/>
<path d="M186 1940 L763.5 1935.5" stroke="#008000" stroke-width="4.6" fill="none"/>
<path d="M183.5 1939.8 L1020 1935.6" stroke="#008000" stroke-width="4.2" fill="none"/>
<path d="M183 1939.2 L184.5 1939.2 L186 1939.2 L187.5 1939.1 L189 1939.1 L190.5 1939.1 L192 1939.1 L193.5 1939.1 L195 1939.1 L196.5 1939.1 L198 1939.1 L199.5 1939.1 L201 1939.1 L202.5 1939.1 L204 1939.1 L205.5 1939.1 L207 1939 L208.5 1939 L210 1939 L211.5 1939 L213 1939 L214.5 1939 L216 1939 L217.5 1939 L219 1939 L220.5 1939 L222 1939 L223.5 1939 L225 1939 L226.5 1939 L228 1938.9 L229.5 1938.9 L231 1938.9 L232.5 1938.9 L234 1938.9 L235.5 1938.9 L237 1938.9 L238.5 1938.9 L240 1938.9 L241.5 1938.9 L243 1938.9 L244.5 1938.9 L246 1938.9 L247.5 1938.8 L249 1938.8 L250.5 1938.8 L252 1938.8 L253.5 1938.8 L255 1938.8 L256.5 1938.8 L258 1938.8 L259.5 1938.8 L261 1938.8 L262.5 1938.8 L264 1938.8 L265.5 1938.8 L267 1938.7 L268.5 1938.7 L270 1938.7 L271.5 1938.7 L273 1938.7 L274.5 1938.7 L276 1938.7 L277.5 1938.7 L279 1938.7 L280.5 1938.7 L282 1938.7 L283.5 1938.7 L285 1938.7 L286.5 1938.7 L288 1938.6 L289.5 1938.6 L291 1938.6 L292.5 1938.6 L294 1938.6 L295.5 1938.6 L297 1938.6 L298.5 1938.6 L300 1938.6 L301.5 1938.6 L303 1938.6 L304.5 1938.6 L306 1938.6 L307.5 1938.5 L309 1938.5 L310.5 1938.5 L312 1938.5 L313.5 1938.5 L315 1938.5 L316.5 1938.5 L318 1938.5 L319.5 1938.5 L321 1938.5 L322.5 1938.5 L324 1938.5 L325.5 1938.5 L327 1938.5 L328.5 1938.4 L330 1938.4 L331.5 1938.4 L333 1938.4 L334.5 1938.4 L336 1938.4 L337.5 1938.4 L339 1938.4 L340.5 1938.4 L342 1938.4 L343.5 1938.4 L345 1938.4 L346.5 1938.4 L348 1938.3 L349.5 1938.3 L351 1938.3 L352.5 1938.3 L354 1938.3 L355.5 1938.3 L357 1938.3 L358.5 1938.3 L360 1938.3 L361.5 1938.3 L363 1938.3 L364.5 1938.3 L366 1938.3 L367.5 1938.2 L369 1938.2 L370.5 1938.2 L372 1938.2 L373.5 1938.2 L375 1938.2 L376.5 1938.2 L378 1938.2 L379.5 1938.2 L381 1938.2 L382.5 1938.2 L384 1938.2 L385.5 1938.2 L387 1938.2 L388.5 1938.1 L390 1938.1 L391.5 1938.1 L393 1938.1 L394.5 1938.1 L396 1938.1 L397.5 1938.1 L399 1938.1 L400.5 1938.1 L402 1938.1 L403.5 1938.1 L405 1938.1 L406.5 1938.1 L408 1938 L409.5 1938 L411 1938 L412.5 1938 L414 1938 L415.5 1938 L417 1938 L418.5 1938 L420 1938 L421.5 1938 L423 1938 L424.5 1938 L426 1938 L427.5 1938 L429 1937.9 L430.5 1937.9 L432 1937.9 L433.5 1937.9 L435 1937.9 L436.5 1937.9 L438 1937.9 L439.5 1937.9 L441 1937.9 L442.5 1937.9 L444 1937.9 L445.5 1937.9 L447 1937.9 L448.5 1937.8 L450 1937.8 L451.5 1937.8 L453 1937.8 L454.5 1937.8 L456 1937.8 L457.5 1937.8 L459 1937.8 L460.5 1937.8 L462 1937.8 L463.5 1937.8 L465 1937.8 L466.5 1937.8 L468 1937.7 L469.5 1937.7 L471 1937.7 L472.5 1937.7 L474 1937.7 L475.5 1937.7 L477 1937.7 L478.5 1937.7 L480 1937.7 L481.5 1937.7 L483 1937.7 L484.5 1937.7 L486 1937.7 L487.5 1937.7 L489 1937.6 L490.5 1937.6 L492 1937.6 L493.5 1937.6 L495 1937.6 L496.5 1937.6 L498 1937.6 L499.5 1937.6 L501 1937.6 L502.5 1937.6 L504 1937.6 L505.5 1937.6 L507 1937.6 L508.5 1937.5 L510 1937.5 L511.5 1937.5 L513 1937.5 L514.5 1937.5 L516 1937.5 L517.5 1937.5 L519 1937.5 L520.5 1937.5 L522 1937.5 L523.5 1937.5 L525 1937.5 L526.5 1937.5 L528 1937.4 L529.5 1937.4 L531 1937.4 L532.5 1937.4 L534 1937.4 L535.5 1937.4 L537 1937.4 L538.5 1937.4 L540 1937.4 L541.5 1937.4 L543 1937.4 L544.5 1937.3 L546 1937.3 L547.5 1937.3 L549 1937.3 L550.5 1937.3 L552 1937.3 L553.5 1937.3 L555 1937.3 L556.5 1937.2 L558 1937.2 L559.5 1937.2 L561 1937.2 L562.5 1937.2 L564 1937.2 L565.5 1937.1 L567 1937.1 L568.5 1937.1 L570 1937.1 L571.5 1937.1 L573 1937 L574.5 1937 L576 1937 L577.5 1937 L579 1936.9 L580.5 1936.9 L582 1936.9 L583.5 1936.8 L585 1936.8 L586.5 1936.8 L588 1936.7 L589.5 1936.7 L591 1936.6 L592.5 1936.6 L594 1936.6 L595.5 1936.5 L597 1936.5 L598.5 1936.4 L600 1936.4 L601.5 1936.3 L603 1936.3 L604.5 1936.2 L606 1936.1 L607.5 1936.1 L609 1936 L610.5 1936 L612 1935.9 L613.5 1935.8 L615 1935.8 L616.5 1935.7 L618 1935.6 L619.5 1935.6 L621 1935.5 L622.5 1935.4 L624 1935.4 L625.5 1935.3 L627 1935.2 L628.5 1935.2 L630 1935.1 L631.5 1935 L633 1935 L634.5 1934.9 L636 1934.9 L637.5 1934.8 L639 1934.7 L640.5 1934.7 L642 1934.6 L643.5 1934.6 L645 1934.6 L646.5 1934.5 L648 1934.5 L649.5 1934.4 L651 1934.4 L652.5 1934.4 L654 1934.3 L655.5 1934.2 L657 1934.1 L658.5 1933.9 L660 1933.7 L661.5 1933.3 L663 1932.9 L664.5 1932.4 L666 1931.8 L667.5 1931.1 L669 1930.3 L670.5 1929.5 L672 1928.6 L673.5 1927.7 L675 1926.7 L676.5 1925.6 L678 1924.6 L679.5 1923.4 L681 1922.3 L682.5 1921.1 L684 1919.8 L685.5 1918.5 L687 1917.2 L688.5 1915.9 L690 1914.5 L691.5 1913.1 L693 1911.7 L694.5 1910.3 L696 1908.8 L697.5 1907.4 L699 1906 L700.5 1904.6 L702 1903.3 L703.5 1902.2 L705 1901.2 L706.5 1900.5 L708 1900.1 L709.5 1899.9 L711 1900.1 L712.5 1900.5 L714 1901.1 L715.5 1901.9 L717 1902.7 L718.5 1903.7 L720 1904.6 L721.5 1905.6 L723 1906.6 L724.5 1907.6 L726 1908.6 L727.5 1909.6 L729 1910.6 L730.5 1911.7 L732 1912.7 L733.5 1913.7 L735 1914.8 L736.5 1915.8 L738 1916.9 L739.5 1917.9 L741 1919 L742.5 1920 L744 1921.1 L745.5 1922.2 L747 1923.3 L748.5 1924.4 L750 1925.5 L751.5 1926.7 L753 1927.8 L754.5 1929 L756 1930.1 L757.5 1931.2 L759 1932.2 L760.5 1933.2 L762 1934 L763.5 1934.7 L765 1935.2 L766.5 1935.6 L768 1935.9 L769.5 1936 L771 1936.1 L772.5 1936.2 L774 1936.2 L775.5 1936.2 L777 1936.2 L778.5 1936.2 L780 1936.2 L781.5 1936.2 L783 1936.2 L784.5 1936.2 L786 1936.2 L787.5 1936.2 L789 1936.2 L790.5 1936.1 L792 1936.1 L793.5 1936.1 L795 1936.1 L796.5 1936.1 L798 1936.1 L799.5 1936.1 L801 1936.1 L802.5 1936.1 L804 1936.1 L805.5 1936.1 L807 1936.1 L808.5 1936.1 L810 1936 L811.5 1936 L813 1936 L814.5 1936 L816 1936 L817.5 1936 L819 1936 L820.5 1936 L822 1936 L823.5 1936 L825 1936 L826.5 1936 L828 1936 L829.5 1935.9 L831 1935.9 L832.5 1935.9 L834 1935.9 L835.5 1935.9 L837 1935.9 L838.5 1935.9 L840 1935.9 L841.5 1935.9 L843 1935.9 L844.5 1935.9 L846 1935.9 L847.5 1935.9 L849 1935.9 L850.5 1935.8 L852 1935.8 L853.5 1935.8 L855 1935.8 L856.5 1935.8 L858 1935.8 L859.5 1935.8 L861 1935.8 L862.5 1935.8 L864 1935.8 L865.5 1935.8 L867 1935.8 L868.5 1935.8 L870 1935.7 L871.5 1935.7 L873 1935.7 L874.5 1935.7 L876 1935.7 L877.5 1935.7 L879 1935.7 L880.5 1935.7 L882 1935.7 L883.5 1935.7 L885 1935.7 L886.5 1935.7 L888 1935.7 L889.5 1935.6 L891 1935.6 L892.5 1935.6 L894 1935.6 L895.5 1935.6 L897 1935.6 L898.5 1935.6 L900 1935.6 L901.5 1935.6 L903 1935.6 L904.5 1935.6 L906 1935.6 L907.5 1935.6 L909 1935.6 L910.5 1935.5 L912 1935.5 L913.5 1935.5 L915 1935.5 L916.5 1935.5 L918 1935.5 L919.5 1935.5 L921 1935.5 L922.5 1935.5 L924 1935.5 L925.5 1935.5 L927 1935.5 L928.5 1935.5 L930 1935.4 L931.5 1935.4 L933 1935.4 L934.5 1935.4 L936 1935.4 L937.5 1935.4 L939 1935.4 L940.5 1935.4 L942 1935.4 L943.5 1935.4 L945 1935.4 L946.5 1935.4 L948 1935.4 L949.5 1935.4 L951 1935.3 L952.5 1935.3 L954 1935.3 L955.5 1935.3 L957 1935.3 L958.5 1935.3 L960 1935.3 L961.5 1935.3 L963 1935.3 L964.5 1935.3 L966 1935.3 L967.5 1935.3 L969 1935.3 L970.5 1935.2 L972 1935.2 L973.5 1935.2 L975 1935.2 L976.5 1935.2 L978 1935.2 L979.5 1935.2 L981 1935.2 L982.5 1935.2 L984 1935.2 L985.5 1935.2 L987 1935.2 L988.5 1935.2 L990 1935.1 L991.5 1935.1 L993 1935.1 L994.5 1935.1 L996 1935.1 L997.5 1935.1 L999 1935.1 L1000.5 1935.1 L1002 1935.1 L1003.5 1935.1 L1005 1935.1 L1006.5 1935.1 L1008 1935.1 L1009.5 1935.1 L1011 1935 L1012.5 1935 L1014 1935 L1015.5 1935 L1017 1935 L1018.5 1935 L1020 1935" fill="none" stroke="#008000" stroke-width="4.3" stroke-linejoin="round"/>
<path d="M663 2047.3 L664.5 2047 L666 2046.7 L667.5 2046.4 L669 2046 L670.5 2045.6 L672 2045.2 L673.5 2044.7 L675 2044.1 L676.5 2043.4 L678 2042.6 L679.5 2041.7 L681 2040.7 L682.5 2039.4 L684 2038 L685.5 2036.3 L687 2034.3 L688.5 2032.1 L690 2029.5 L691.5 2026.5 L693 2023.2 L694.5 2019.4 L696 2015.4 L697.5 2011.1 L699 2006.7 L700.5 2002.1 L702 1997.4 L703.5 1992.8 L705 1988.3 L706.5 1984.1 L708 1980.3 L709.5 1977.2 L711 1974.8 L712.5 1973.3 L714 1972.7 L715.5 1973.2 L717 1974.5 L718.5 1976.5 L720 1979.2 L721.5 1982.3 L723 1986 L724.5 1990 L726 1994.2 L727.5 1998.7 L729 2003.2 L730.5 2007.7 L732 2012.1 L733.5 2016.4 L735 2020.4 L736.5 2024.3 L738 2027.8 L739.5 2031.1 L741 2034 L742.5 2036.6 L744 2038.9 L745.5 2040.9 L747 2042.7 L748.5 2044.2 L750 2045.5 L751.5 2046.5 L753 2047.4 L754.5 2048.2 L756 2048.7 L757.5 2049.2 L759 2049.6 L760.5 2049.9 L762 2050.1 L762 2050.9 L663 2052 Z" fill="url(#hatch2)" stroke="none"/>
<path d="M186 2057.1 L762 2050.9" stroke="#ff8000" stroke-width="4.6" fill="none"/>
<path d="M183.5 2056.9 L1020 2049.1" stroke="#ff8000" stroke-width="4.2" fill="none"/>
<path d="M183 2056.3 L184.5 2056.3 L186 2056.3 L187.5 2056.3 L189 2056.3 L190.5 2056.3 L192 2056.3 L193.5 2056.2 L195 2056.2 L196.5 2056.2 L198 2056.2 L199.5 2056.2 L201 2056.2 L202.5 2056.2 L204 2056.1 L205.5 2056.1 L207 2056.1 L208.5 2056.1 L210 2056.1 L211.5 2056.1 L213 2056.1 L214.5 2056 L216 2056 L217.5 2056 L219 2056 L220.5 2056 L222 2056 L223.5 2056 L225 2055.9 L226.5 2055.9 L228 2055.9 L229.5 2055.9 L231 2055.9 L232.5 2055.9 L234 2055.9 L235.5 2055.8 L237 2055.8 L238.5 2055.8 L240 2055.8 L241.5 2055.8 L243 2055.8 L244.5 2055.8 L246 2055.7 L247.5 2055.7 L249 2055.7 L250.5 2055.7 L252 2055.7 L253.5 2055.7 L255 2055.7 L256.5 2055.7 L258 2055.6 L259.5 2055.6 L261 2055.6 L262.5 2055.6 L264 2055.6 L265.5 2055.6 L267 2055.6 L268.5 2055.5 L270 2055.5 L271.5 2055.5 L273 2055.5 L274.5 2055.5 L276 2055.5 L277.5 2055.5 L279 2055.4 L280.5 2055.4 L282 2055.4 L283.5 2055.4 L285 2055.4 L286.5 2055.4 L288 2055.4 L289.5 2055.3 L291 2055.3 L292.5 2055.3 L294 2055.3 L295.5 2055.3 L297 2055.3 L298.5 2055.3 L300 2055.2 L301.5 2055.2 L303 2055.2 L304.5 2055.2 L306 2055.2 L307.5 2055.2 L309 2055.2 L310.5 2055.1 L312 2055.1 L313.5 2055.1 L315 2055.1 L316.5 2055.1 L318 2055.1 L319.5 2055.1 L321 2055 L322.5 2055 L324 2055 L325.5 2055 L327 2055 L328.5 2055 L330 2055 L331.5 2054.9 L333 2054.9 L334.5 2054.9 L336 2054.9 L337.5 2054.9 L339 2054.9 L340.5 2054.9 L342 2054.8 L343.5 2054.8 L345 2054.8 L346.5 2054.8 L348 2054.8 L349.5 2054.8 L351 2054.8 L352.5 2054.8 L354 2054.7 L355.5 2054.7 L357 2054.7 L358.5 2054.7 L360 2054.7 L361.5 2054.7 L363 2054.7 L364.5 2054.6 L366 2054.6 L367.5 2054.6 L369 2054.6 L370.5 2054.6 L372 2054.6 L373.5 2054.6 L375 2054.5 L376.5 2054.5 L378 2054.5 L379.5 2054.5 L381 2054.5 L382.5 2054.5 L384 2054.5 L385.5 2054.4 L387 2054.4 L388.5 2054.4 L390 2054.4 L391.5 2054.4 L393 2054.4 L394.5 2054.4 L396 2054.3 L397.5 2054.3 L399 2054.3 L400.5 2054.3 L402 2054.3 L403.5 2054.3 L405 2054.3 L406.5 2054.2 L408 2054.2 L409.5 2054.2 L411 2054.2 L412.5 2054.2 L414 2054.2 L415.5 2054.2 L417 2054.1 L418.5 2054.1 L420 2054.1 L421.5 2054.1 L423 2054.1 L424.5 2054.1 L426 2054.1 L427.5 2054 L429 2054 L430.5 2054 L432 2054 L433.5 2054 L435 2054 L436.5 2054 L438 2054 L439.5 2053.9 L441 2053.9 L442.5 2053.9 L444 2053.9 L445.5 2053.9 L447 2053.9 L448.5 2053.9 L450 2053.8 L451.5 2053.8 L453 2053.8 L454.5 2053.8 L456 2053.8 L457.5 2053.8 L459 2053.8 L460.5 2053.7 L462 2053.7 L463.5 2053.7 L465 2053.7 L466.5 2053.7 L468 2053.7 L469.5 2053.7 L471 2053.6 L472.5 2053.6 L474 2053.6 L475.5 2053.6 L477 2053.6 L478.5 2053.6 L480 2053.6 L481.5 2053.5 L483 2053.5 L484.5 2053.5 L486 2053.5 L487.5 2053.5 L489 2053.5 L490.5 2053.5 L492 2053.4 L493.5 2053.4 L495 2053.4 L496.5 2053.4 L498 2053.4 L499.5 2053.4 L501 2053.4 L502.5 2053.3 L504 2053.3 L505.5 2053.3 L507 2053.3 L508.5 2053.3 L510 2053.3 L511.5 2053.3 L513 2053.2 L514.5 2053.2 L516 2053.2 L517.5 2053.2 L519 2053.2 L520.5 2053.2 L522 2053.2 L523.5 2053.1 L525 2053.1 L526.5 2053.1 L528 2053.1 L529.5 2053.1 L531 2053.1 L532.5 2053.1 L534 2053 L535.5 2053 L537 2053 L538.5 2053 L540 2053 L541.5 2053 L543 2052.9 L544.5 2052.9 L546 2052.9 L547.5 2052.9 L549 2052.9 L550.5 2052.9 L552 2052.8 L553.5 2052.8 L555 2052.8 L556.5 2052.8 L558 2052.8 L559.5 2052.7 L561 2052.7 L562.5 2052.7 L564 2052.7 L565.5 2052.6 L567 2052.6 L568.5 2052.6 L570 2052.5 L571.5 2052.5 L573 2052.5 L574.5 2052.5 L576 2052.4 L577.5 2052.4 L579 2052.3 L580.5 2052.3 L582 2052.3 L583.5 2052.2 L585 2052.2 L586.5 2052.1 L588 2052.1 L589.5 2052 L591 2052 L592.5 2051.9 L594 2051.9 L595.5 2051.8 L597 2051.8 L598.5 2051.7 L600 2051.6 L601.5 2051.6 L603 2051.5 L604.5 2051.4 L606 2051.4 L607.5 2051.3 L609 2051.2 L610.5 2051.1 L612 2051 L613.5 2051 L615 2050.9 L616.5 2050.8 L618 2050.7 L619.5 2050.6 L621 2050.5 L622.5 2050.5 L624 2050.4 L625.5 2050.3 L627 2050.2 L628.5 2050.1 L630 2050 L631.5 2050 L633 2049.9 L634.5 2049.8 L636 2049.7 L637.5 2049.6 L639 2049.5 L640.5 2049.5 L642 2049.4 L643.5 2049.3 L645 2049.2 L646.5 2049.1 L648 2049 L649.5 2049 L651 2048.8 L652.5 2048.7 L654 2048.6 L655.5 2048.5 L657 2048.3 L658.5 2048.1 L660 2047.9 L661.5 2047.6 L663 2047.3 L664.5 2047 L666 2046.7 L667.5 2046.4 L669 2046 L670.5 2045.6 L672 2045.2 L673.5 2044.7 L675 2044.1 L676.5 2043.4 L678 2042.6 L679.5 2041.7 L681 2040.7 L682.5 2039.4 L684 2038 L685.5 2036.3 L687 2034.3 L688.5 2032.1 L690 2029.5 L691.5 2026.5 L693 2023.2 L694.5 2019.4 L696 2015.4 L697.5 2011.1 L699 2006.7 L700.5 2002.1 L702 1997.4 L703.5 1992.8 L705 1988.3 L706.5 1984.1 L708 1980.3 L709.5 1977.2 L711 1974.8 L712.5 1973.3 L714 1972.7 L715.5 1973.2 L717 1974.5 L718.5 1976.5 L720 1979.2 L721.5 1982.3 L723 1986 L724.5 1990 L726 1994.2 L727.5 1998.7 L729 2003.2 L730.5 2007.7 L732 2012.1 L733.5 2016.4 L735 2020.4 L736.5 2024.3 L738 2027.8 L739.5 2031.1 L741 2034 L742.5 2036.6 L744 2038.9 L745.5 2040.9 L747 2042.7 L748.5 2044.2 L750 2045.5 L751.5 2046.5 L753 2047.4 L754.5 2048.2 L756 2048.7 L757.5 2049.2 L759 2049.6 L760.5 2049.9 L762 2050.1 L763.5 2050.3 L765 2050.4 L766.5 2050.5 L768 2050.6 L769.5 2050.7 L771 2050.7 L772.5 2050.7 L774 2050.7 L775.5 2050.7 L777 2050.7 L778.5 2050.7 L780 2050.7 L781.5 2050.7 L783 2050.7 L784.5 2050.7 L786 2050.7 L787.5 2050.7 L789 2050.7 L790.5 2050.6 L792 2050.6 L793.5 2050.6 L795 2050.6 L796.5 2050.6 L798 2050.6 L799.5 2050.6 L801 2050.6 L802.5 2050.5 L804 2050.5 L805.5 2050.5 L807 2050.5 L808.5 2050.5 L810 2050.5 L811.5 2050.5 L813 2050.4 L814.5 2050.4 L816 2050.4 L817.5 2050.4 L819 2050.4 L820.5 2050.4 L822 2050.4 L823.5 2050.3 L825 2050.3 L826.5 2050.3 L828 2050.3 L829.5 2050.3 L831 2050.3 L832.5 2050.3 L834 2050.2 L835.5 2050.2 L837 2050.2 L838.5 2050.2 L840 2050.2 L841.5 2050.2 L843 2050.2 L844.5 2050.1 L846 2050.1 L847.5 2050.1 L849 2050.1 L850.5 2050.1 L852 2050.1 L853.5 2050.1 L855 2050 L856.5 2050 L858 2050 L859.5 2050 L861 2050 L862.5 2050 L864 2050 L865.5 2049.9 L867 2049.9 L868.5 2049.9 L870 2049.9 L871.5 2049.9 L873 2049.9 L874.5 2049.9 L876 2049.8 L877.5 2049.8 L879 2049.8 L880.5 2049.8 L882 2049.8 L883.5 2049.8 L885 2049.8 L886.5 2049.8 L888 2049.7 L889.5 2049.7 L891 2049.7 L892.5 2049.7 L894 2049.7 L895.5 2049.7 L897 2049.7 L898.5 2049.6 L900 2049.6 L901.5 2049.6 L903 2049.6 L904.5 2049.6 L906 2049.6 L907.5 2049.6 L909 2049.5 L910.5 2049.5 L912 2049.5 L913.5 2049.5 L915 2049.5 L916.5 2049.5 L918 2049.5 L919.5 2049.4 L921 2049.4 L922.5 2049.4 L924 2049.4 L925.5 2049.4 L927 2049.4 L928.5 2049.4 L930 2049.3 L931.5 2049.3 L933 2049.3 L934.5 2049.3 L936 2049.3 L937.5 2049.3 L939 2049.3 L940.5 2049.2 L942 2049.2 L943.5 2049.2 L945 2049.2 L946.5 2049.2 L948 2049.2 L949.5 2049.2 L951 2049.1 L952.5 2049.1 L954 2049.1 L955.5 2049.1 L957 2049.1 L958.5 2049.1 L960 2049.1 L961.5 2049 L963 2049 L964.5 2049 L966 2049 L967.5 2049 L969 2049 L970.5 2049 L972 2048.9 L973.5 2048.9 L975 2048.9 L976.5 2048.9 L978 2048.9 L979.5 2048.9 L981 2048.9 L982.5 2048.9 L984 2048.8 L985.5 2048.8 L987 2048.8 L988.5 2048.8 L990 2048.8 L991.5 2048.8 L993 2048.8 L994.5 2048.7 L996 2048.7 L997.5 2048.7 L999 2048.7 L1000.5 2048.7 L1002 2048.7 L1003.5 2048.7 L1005 2048.6 L1006.5 2048.6 L1008 2048.6 L1009.5 2048.6 L1011 2048.6 L1012.5 2048.6 L1014 2048.6 L1015.5 2048.5 L1017 2048.5 L1018.5 2048.5 L1020 2048.5" fill="none" stroke="#ff8000" stroke-width="4.3" stroke-linejoin="round"/>
<path d="M673.5 2147.4 L675 2146.5 L676.5 2145.4 L678 2144.1 L679.5 2142.6 L681 2141 L682.5 2139.2 L684 2137.3 L685.5 2135.3 L687 2133.2 L688.5 2131.1 L690 2128.9 L691.5 2126.7 L693 2124.5 L694.5 2122.2 L696 2120 L697.5 2117.9 L699 2115.9 L700.5 2114.1 L702 2112.6 L703.5 2111.3 L705 2110.5 L706.5 2110 L708 2110 L709.5 2110.4 L711 2111.2 L712.5 2112.3 L714 2113.7 L715.5 2115.2 L717 2116.9 L718.5 2118.6 L720 2120.4 L721.5 2122.1 L723 2123.9 L724.5 2125.7 L726 2127.4 L727.5 2129.2 L729 2130.9 L730.5 2132.5 L732 2134.2 L733.5 2135.8 L735 2137.3 L736.5 2138.9 L738 2140.3 L739.5 2141.8 L741 2143.2 L742.5 2144.5 L744 2145.7 L745.5 2146.9 L747 2147.9 L748.5 2148.8 L750 2149.6 L751.5 2150.3 L753 2150.8 L754.5 2151.3 L756 2151.6 L757.5 2151.8 L757.5 2152.6 L673.5 2153.2 Z" fill="url(#hatch2)" stroke="none"/>
<path d="M186 2156.7 L757.5 2152.6" stroke="#ff0000" stroke-width="4.6" fill="none"/>
<path d="M183.5 2156.6 L1020 2151.1" stroke="#ff0000" stroke-width="4.2" fill="none"/>
<path d="M183 2156 L184.5 2155.9 L186 2155.9 L187.5 2155.9 L189 2155.9 L190.5 2155.9 L192 2155.9 L193.5 2155.9 L195 2155.9 L196.5 2155.9 L198 2155.9 L199.5 2155.9 L201 2155.8 L202.5 2155.8 L204 2155.8 L205.5 2155.8 L207 2155.8 L208.5 2155.8 L210 2155.8 L211.5 2155.8 L213 2155.8 L214.5 2155.8 L216 2155.7 L217.5 2155.7 L219 2155.7 L220.5 2155.7 L222 2155.7 L223.5 2155.7 L225 2155.7 L226.5 2155.7 L228 2155.7 L229.5 2155.7 L231 2155.6 L232.5 2155.6 L234 2155.6 L235.5 2155.6 L237 2155.6 L238.5 2155.6 L240 2155.6 L241.5 2155.6 L243 2155.6 L244.5 2155.6 L246 2155.5 L247.5 2155.5 L249 2155.5 L250.5 2155.5 L252 2155.5 L253.5 2155.5 L255 2155.5 L256.5 2155.5 L258 2155.5 L259.5 2155.5 L261 2155.4 L262.5 2155.4 L264 2155.4 L265.5 2155.4 L267 2155.4 L268.5 2155.4 L270 2155.4 L271.5 2155.4 L273 2155.4 L274.5 2155.4 L276 2155.4 L277.5 2155.3 L279 2155.3 L280.5 2155.3 L282 2155.3 L283.5 2155.3 L285 2155.3 L286.5 2155.3 L288 2155.3 L289.5 2155.3 L291 2155.3 L292.5 2155.2 L294 2155.2 L295.5 2155.2 L297 2155.2 L298.5 2155.2 L300 2155.2 L301.5 2155.2 L303 2155.2 L304.5 2155.2 L306 2155.2 L307.5 2155.1 L309 2155.1 L310.5 2155.1 L312 2155.1 L313.5 2155.1 L315 2155.1 L316.5 2155.1 L318 2155.1 L319.5 2155.1 L321 2155.1 L322.5 2155 L324 2155 L325.5 2155 L327 2155 L328.5 2155 L330 2155 L331.5 2155 L333 2155 L334.5 2155 L336 2155 L337.5 2155 L339 2154.9 L340.5 2154.9 L342 2154.9 L343.5 2154.9 L345 2154.9 L346.5 2154.9 L348 2154.9 L349.5 2154.9 L351 2154.9 L352.5 2154.9 L354 2154.8 L355.5 2154.8 L357 2154.8 L358.5 2154.8 L360 2154.8 L361.5 2154.8 L363 2154.8 L364.5 2154.8 L366 2154.8 L367.5 2154.8 L369 2154.7 L370.5 2154.7 L372 2154.7 L373.5 2154.7 L375 2154.7 L376.5 2154.7 L378 2154.7 L379.5 2154.7 L381 2154.7 L382.5 2154.7 L384 2154.6 L385.5 2154.6 L387 2154.6 L388.5 2154.6 L390 2154.6 L391.5 2154.6 L393 2154.6 L394.5 2154.6 L396 2154.6 L397.5 2154.6 L399 2154.5 L400.5 2154.5 L402 2154.5 L403.5 2154.5 L405 2154.5 L406.5 2154.5 L408 2154.5 L409.5 2154.5 L411 2154.5 L412.5 2154.5 L414 2154.5 L415.5 2154.4 L417 2154.4 L418.5 2154.4 L420 2154.4 L421.5 2154.4 L423 2154.4 L424.5 2154.4 L426 2154.4 L427.5 2154.4 L429 2154.4 L430.5 2154.3 L432 2154.3 L433.5 2154.3 L435 2154.3 L436.5 2154.3 L438 2154.3 L439.5 2154.3 L441 2154.3 L442.5 2154.3 L444 2154.3 L445.5 2154.2 L447 2154.2 L448.5 2154.2 L450 2154.2 L451.5 2154.2 L453 2154.2 L454.5 2154.2 L456 2154.2 L457.5 2154.2 L459 2154.2 L460.5 2154.1 L462 2154.1 L463.5 2154.1 L465 2154.1 L466.5 2154.1 L468 2154.1 L469.5 2154.1 L471 2154.1 L472.5 2154.1 L474 2154.1 L475.5 2154.1 L477 2154 L478.5 2154 L480 2154 L481.5 2154 L483 2154 L484.5 2154 L486 2154 L487.5 2154 L489 2154 L490.5 2154 L492 2153.9 L493.5 2153.9 L495 2153.9 L496.5 2153.9 L498 2153.9 L499.5 2153.9 L501 2153.9 L502.5 2153.9 L504 2153.9 L505.5 2153.9 L507 2153.8 L508.5 2153.8 L510 2153.8 L511.5 2153.8 L513 2153.8 L514.5 2153.8 L516 2153.8 L517.5 2153.8 L519 2153.8 L520.5 2153.8 L522 2153.7 L523.5 2153.7 L525 2153.7 L526.5 2153.7 L528 2153.7 L529.5 2153.7 L531 2153.7 L532.5 2153.7 L534 2153.7 L535.5 2153.7 L537 2153.6 L538.5 2153.6 L540 2153.6 L541.5 2153.6 L543 2153.6 L544.5 2153.6 L546 2153.6 L547.5 2153.6 L549 2153.6 L550.5 2153.5 L552 2153.5 L553.5 2153.5 L555 2153.5 L556.5 2153.5 L558 2153.5 L559.5 2153.5 L561 2153.4 L562.5 2153.4 L564 2153.4 L565.5 2153.4 L567 2153.4 L568.5 2153.4 L570 2153.3 L571.5 2153.3 L573 2153.3 L574.5 2153.3 L576 2153.3 L577.5 2153.2 L579 2153.2 L580.5 2153.2 L582 2153.2 L583.5 2153.1 L585 2153.1 L586.5 2153.1 L588 2153 L589.5 2153 L591 2153 L592.5 2152.9 L594 2152.9 L595.5 2152.9 L597 2152.8 L598.5 2152.8 L600 2152.7 L601.5 2152.7 L603 2152.6 L604.5 2152.6 L606 2152.5 L607.5 2152.5 L609 2152.4 L610.5 2152.3 L612 2152.3 L613.5 2152.2 L615 2152.2 L616.5 2152.1 L618 2152 L619.5 2151.9 L621 2151.9 L622.5 2151.8 L624 2151.7 L625.5 2151.6 L627 2151.6 L628.5 2151.5 L630 2151.4 L631.5 2151.3 L633 2151.2 L634.5 2151.2 L636 2151.1 L637.5 2151 L639 2150.9 L640.5 2150.8 L642 2150.8 L643.5 2150.7 L645 2150.6 L646.5 2150.5 L648 2150.5 L649.5 2150.4 L651 2150.3 L652.5 2150.3 L654 2150.2 L655.5 2150.1 L657 2150.1 L658.5 2150 L660 2150 L661.5 2149.9 L663 2149.9 L664.5 2149.8 L666 2149.6 L667.5 2149.4 L669 2149.1 L670.5 2148.7 L672 2148.1 L673.5 2147.4 L675 2146.5 L676.5 2145.4 L678 2144.1 L679.5 2142.6 L681 2141 L682.5 2139.2 L684 2137.3 L685.5 2135.3 L687 2133.2 L688.5 2131.1 L690 2128.9 L691.5 2126.7 L693 2124.5 L694.5 2122.2 L696 2120 L697.5 2117.9 L699 2115.9 L700.5 2114.1 L702 2112.6 L703.5 2111.3 L705 2110.5 L706.5 2110 L708 2110 L709.5 2110.4 L711 2111.2 L712.5 2112.3 L714 2113.7 L715.5 2115.2 L717 2116.9 L718.5 2118.6 L720 2120.4 L721.5 2122.1 L723 2123.9 L724.5 2125.7 L726 2127.4 L727.5 2129.2 L729 2130.9 L730.5 2132.5 L732 2134.2 L733.5 2135.8 L735 2137.3 L736.5 2138.9 L738 2140.3 L739.5 2141.8 L741 2143.2 L742.5 2144.5 L744 2145.7 L745.5 2146.9 L747 2147.9 L748.5 2148.8 L750 2149.6 L751.5 2150.3 L753 2150.8 L754.5 2151.3 L756 2151.6 L757.5 2151.8 L759 2152 L760.5 2152 L762 2152.1 L763.5 2152.1 L765 2152.1 L766.5 2152.1 L768 2152.1 L769.5 2152.1 L771 2152.1 L772.5 2152.1 L774 2152.1 L775.5 2152.1 L777 2152.1 L778.5 2152.1 L780 2152.1 L781.5 2152.1 L783 2152 L784.5 2152 L786 2152 L787.5 2152 L789 2152 L790.5 2152 L792 2152 L793.5 2152 L795 2152 L796.5 2152 L798 2151.9 L799.5 2151.9 L801 2151.9 L802.5 2151.9 L804 2151.9 L805.5 2151.9 L807 2151.9 L808.5 2151.9 L810 2151.9 L811.5 2151.9 L813 2151.8 L814.5 2151.8 L816 2151.8 L817.5 2151.8 L819 2151.8 L820.5 2151.8 L822 2151.8 L823.5 2151.8 L825 2151.8 L826.5 2151.8 L828 2151.8 L829.5 2151.7 L831 2151.7 L832.5 2151.7 L834 2151.7 L835.5 2151.7 L837 2151.7 L838.5 2151.7 L840 2151.7 L841.5 2151.7 L843 2151.7 L844.5 2151.6 L846 2151.6 L847.5 2151.6 L849 2151.6 L850.5 2151.6 L852 2151.6 L853.5 2151.6 L855 2151.6 L856.5 2151.6 L858 2151.6 L859.5 2151.5 L861 2151.5 L862.5 2151.5 L864 2151.5 L865.5 2151.5 L867 2151.5 L868.5 2151.5 L870 2151.5 L871.5 2151.5 L873 2151.5 L874.5 2151.4 L876 2151.4 L877.5 2151.4 L879 2151.4 L880.5 2151.4 L882 2151.4 L883.5 2151.4 L885 2151.4 L886.5 2151.4 L888 2151.4 L889.5 2151.4 L891 2151.3 L892.5 2151.3 L894 2151.3 L895.5 2151.3 L897 2151.3 L898.5 2151.3 L900 2151.3 L901.5 2151.3 L903 2151.3 L904.5 2151.3 L906 2151.2 L907.5 2151.2 L909 2151.2 L910.5 2151.2 L912 2151.2 L913.5 2151.2 L915 2151.2 L916.5 2151.2 L918 2151.2 L919.5 2151.2 L921 2151.1 L922.5 2151.1 L924 2151.1 L925.5 2151.1 L927 2151.1 L928.5 2151.1 L930 2151.1 L931.5 2151.1 L933 2151.1 L934.5 2151.1 L936 2151 L937.5 2151 L939 2151 L940.5 2151 L942 2151 L943.5 2151 L945 2151 L946.5 2151 L948 2151 L949.5 2151 L951 2150.9 L952.5 2150.9 L954 2150.9 L955.5 2150.9 L957 2150.9 L958.5 2150.9 L960 2150.9 L961.5 2150.9 L963 2150.9 L964.5 2150.9 L966 2150.9 L967.5 2150.8 L969 2150.8 L970.5 2150.8 L972 2150.8 L973.5 2150.8 L975 2150.8 L976.5 2150.8 L978 2150.8 L979.5 2150.8 L981 2150.8 L982.5 2150.7 L984 2150.7 L985.5 2150.7 L987 2150.7 L988.5 2150.7 L990 2150.7 L991.5 2150.7 L993 2150.7 L994.5 2150.7 L996 2150.7 L997.5 2150.6 L999 2150.6 L1000.5 2150.6 L1002 2150.6 L1003.5 2150.6 L1005 2150.6 L1006.5 2150.6 L1008 2150.6 L1009.5 2150.6 L1011 2150.6 L1012.5 2150.5 L1014 2150.5 L1015.5 2150.5 L1017 2150.5 L1018.5 2150.5 L1020 2150.5" fill="none" stroke="#ff0000" stroke-width="4.3" stroke-linejoin="round"/>
<path d="M693 2235 L694.5 2234.2 L696 2233.3 L697.5 2232.1 L699 2230.8 L700.5 2229.2 L702 2227.5 L703.5 2225.6 L705 2223.7 L706.5 2221.6 L708 2219.4 L709.5 2217.3 L711 2215.1 L712.5 2212.9 L714 2210.8 L715.5 2208.8 L717 2207 L718.5 2205.4 L720 2204.1 L721.5 2203.2 L723 2202.7 L724.5 2202.7 L726 2203 L727.5 2203.8 L729 2204.8 L730.5 2206.1 L732 2207.6 L733.5 2209.2 L735 2210.9 L736.5 2212.6 L738 2214.4 L739.5 2216.2 L741 2218 L742.5 2219.7 L744 2221.5 L745.5 2223.2 L747 2224.9 L748.5 2226.5 L750 2228.2 L751.5 2229.7 L753 2231.2 L754.5 2232.7 L756 2234 L757.5 2235.1 L759 2236.2 L760.5 2237 L762 2237.8 L763.5 2238.3 L765 2238.7 L765 2238.8 L693 2239.4 Z" fill="url(#hatch2)" stroke="none"/>
<path d="M186 2243.5 L765 2238.8" stroke="#000000" stroke-width="4.6" fill="none"/>
<path d="M183 2242.3 L184.5 2242.3 L186 2242.3 L187.5 2242.2 L189 2242.2 L190.5 2242.2 L192 2242.2 L193.5 2242.2 L195 2242.2 L196.5 2242.2 L198 2242.2 L199.5 2242.2 L201 2242.2 L202.5 2242.2 L204 2242.2 L205.5 2242.2 L207 2242.2 L208.5 2242.2 L210 2242.1 L211.5 2242.1 L213 2242.1 L214.5 2242.1 L216 2242.1 L217.5 2242.1 L219 2242.1 L220.5 2242.1 L222 2242.1 L223.5 2242.1 L225 2242.1 L226.5 2242.1 L228 2242.1 L229.5 2242.1 L231 2242 L232.5 2242 L234 2242 L235.5 2242 L237 2242 L238.5 2242 L240 2242 L241.5 2242 L243 2242 L244.5 2242 L246 2242 L247.5 2242 L249 2242 L250.5 2242 L252 2242 L253.5 2241.9 L255 2241.9 L256.5 2241.9 L258 2241.9 L259.5 2241.9 L261 2241.9 L262.5 2241.9 L264 2241.9 L265.5 2241.9 L267 2241.9 L268.5 2241.9 L270 2241.9 L271.5 2241.9 L273 2241.9 L274.5 2241.8 L276 2241.8 L277.5 2241.8 L279 2241.8 L280.5 2241.8 L282 2241.8 L283.5 2241.8 L285 2241.8 L286.5 2241.8 L288 2241.8 L289.5 2241.8 L291 2241.8 L292.5 2241.8 L294 2241.8 L295.5 2241.7 L297 2241.7 L298.5 2241.7 L300 2241.7 L301.5 2241.7 L303 2241.7 L304.5 2241.7 L306 2241.7 L307.5 2241.7 L309 2241.7 L310.5 2241.7 L312 2241.7 L313.5 2241.7 L315 2241.7 L316.5 2241.7 L318 2241.6 L319.5 2241.6 L321 2241.6 L322.5 2241.6 L324 2241.6 L325.5 2241.6 L327 2241.6 L328.5 2241.6 L330 2241.6 L331.5 2241.6 L333 2241.6 L334.5 2241.6 L336 2241.6 L337.5 2241.6 L339 2241.5 L340.5 2241.5 L342 2241.5 L343.5 2241.5 L345 2241.5 L346.5 2241.5 L348 2241.5 L349.5 2241.5 L351 2241.5 L352.5 2241.5 L354 2241.5 L355.5 2241.5 L357 2241.5 L358.5 2241.5 L360 2241.5 L361.5 2241.4 L363 2241.4 L364.5 2241.4 L366 2241.4 L367.5 2241.4 L369 2241.4 L370.5 2241.4 L372 2241.4 L373.5 2241.4 L375 2241.4 L376.5 2241.4 L378 2241.4 L379.5 2241.4 L381 2241.4 L382.5 2241.3 L384 2241.3 L385.5 2241.3 L387 2241.3 L388.5 2241.3 L390 2241.3 L391.5 2241.3 L393 2241.3 L394.5 2241.3 L396 2241.3 L397.5 2241.3 L399 2241.3 L400.5 2241.3 L402 2241.3 L403.5 2241.3 L405 2241.2 L406.5 2241.2 L408 2241.2 L409.5 2241.2 L411 2241.2 L412.5 2241.2 L414 2241.2 L415.5 2241.2 L417 2241.2 L418.5 2241.2 L420 2241.2 L421.5 2241.2 L423 2241.2 L424.5 2241.2 L426 2241.1 L427.5 2241.1 L429 2241.1 L430.5 2241.1 L432 2241.1 L433.5 2241.1 L435 2241.1 L436.5 2241.1 L438 2241.1 L439.5 2241.1 L441 2241.1 L442.5 2241.1 L444 2241.1 L445.5 2241.1 L447 2241 L448.5 2241 L450 2241 L451.5 2241 L453 2241 L454.5 2241 L456 2241 L457.5 2241 L459 2241 L460.5 2241 L462 2241 L463.5 2241 L465 2241 L466.5 2241 L468 2241 L469.5 2240.9 L471 2240.9 L472.5 2240.9 L474 2240.9 L475.5 2240.9 L477 2240.9 L478.5 2240.9 L480 2240.9 L481.5 2240.9 L483 2240.9 L484.5 2240.9 L486 2240.9 L487.5 2240.9 L489 2240.9 L490.5 2240.8 L492 2240.8 L493.5 2240.8 L495 2240.8 L496.5 2240.8 L498 2240.8 L499.5 2240.8 L501 2240.8 L502.5 2240.8 L504 2240.8 L505.5 2240.8 L507 2240.8 L508.5 2240.8 L510 2240.8 L511.5 2240.8 L513 2240.7 L514.5 2240.7 L516 2240.7 L517.5 2240.7 L519 2240.7 L520.5 2240.7 L522 2240.7 L523.5 2240.7 L525 2240.7 L526.5 2240.7 L528 2240.7 L529.5 2240.7 L531 2240.7 L532.5 2240.7 L534 2240.6 L535.5 2240.6 L537 2240.6 L538.5 2240.6 L540 2240.6 L541.5 2240.6 L543 2240.6 L544.5 2240.6 L546 2240.6 L547.5 2240.6 L549 2240.6 L550.5 2240.6 L552 2240.6 L553.5 2240.6 L555 2240.5 L556.5 2240.5 L558 2240.5 L559.5 2240.5 L561 2240.5 L562.5 2240.5 L564 2240.5 L565.5 2240.5 L567 2240.5 L568.5 2240.5 L570 2240.5 L571.5 2240.5 L573 2240.4 L574.5 2240.4 L576 2240.4 L577.5 2240.4 L579 2240.4 L580.5 2240.4 L582 2240.4 L583.5 2240.4 L585 2240.4 L586.5 2240.3 L588 2240.3 L589.5 2240.3 L591 2240.3 L592.5 2240.3 L594 2240.3 L595.5 2240.2 L597 2240.2 L598.5 2240.2 L600 2240.2 L601.5 2240.2 L603 2240.1 L604.5 2240.1 L606 2240.1 L607.5 2240 L609 2240 L610.5 2240 L612 2240 L613.5 2239.9 L615 2239.9 L616.5 2239.8 L618 2239.8 L619.5 2239.8 L621 2239.7 L622.5 2239.7 L624 2239.6 L625.5 2239.6 L627 2239.5 L628.5 2239.5 L630 2239.4 L631.5 2239.3 L633 2239.3 L634.5 2239.2 L636 2239.1 L637.5 2239.1 L639 2239 L640.5 2238.9 L642 2238.9 L643.5 2238.8 L645 2238.7 L646.5 2238.6 L648 2238.6 L649.5 2238.5 L651 2238.4 L652.5 2238.3 L654 2238.3 L655.5 2238.2 L657 2238.1 L658.5 2238 L660 2238 L661.5 2237.9 L663 2237.8 L664.5 2237.7 L666 2237.7 L667.5 2237.6 L669 2237.5 L670.5 2237.5 L672 2237.4 L673.5 2237.3 L675 2237.3 L676.5 2237.2 L678 2237.2 L679.5 2237.1 L681 2237.1 L682.5 2237 L684 2237 L685.5 2236.9 L687 2236.7 L688.5 2236.5 L690 2236.1 L691.5 2235.7 L693 2235 L694.5 2234.2 L696 2233.3 L697.5 2232.1 L699 2230.8 L700.5 2229.2 L702 2227.5 L703.5 2225.6 L705 2223.7 L706.5 2221.6 L708 2219.4 L709.5 2217.3 L711 2215.1 L712.5 2212.9 L714 2210.8 L715.5 2208.8 L717 2207 L718.5 2205.4 L720 2204.1 L721.5 2203.2 L723 2202.7 L724.5 2202.7 L726 2203 L727.5 2203.8 L729 2204.8 L730.5 2206.1 L732 2207.6 L733.5 2209.2 L735 2210.9 L736.5 2212.6 L738 2214.4 L739.5 2216.2 L741 2218 L742.5 2219.7 L744 2221.5 L745.5 2223.2 L747 2224.9 L748.5 2226.5 L750 2228.2 L751.5 2229.7 L753 2231.2 L754.5 2232.7 L756 2234 L757.5 2235.1 L759 2236.2 L760.5 2237 L762 2237.8 L763.5 2238.3 L765 2238.7 L766.5 2239 L768 2239.2 L769.5 2239.4 L771 2239.5 L772.5 2239.5 L774 2239.5 L775.5 2239.5 L777 2239.5 L778.5 2239.5 L780 2239.5 L781.5 2239.5 L783 2239.5 L784.5 2239.5 L786 2239.5 L787.5 2239.5 L789 2239.5 L790.5 2239.5 L792 2239.5 L793.5 2239.4 L795 2239.4 L796.5 2239.4 L798 2239.4 L799.5 2239.4 L801 2239.4 L802.5 2239.4 L804 2239.4 L805.5 2239.4 L807 2239.4 L808.5 2239.4 L810 2239.4 L811.5 2239.4 L813 2239.4 L814.5 2239.4 L816 2239.3 L817.5 2239.3 L819 2239.3 L820.5 2239.3 L822 2239.3 L823.5 2239.3 L825 2239.3 L826.5 2239.3 L828 2239.3 L829.5 2239.3 L831 2239.3 L832.5 2239.3 L834 2239.3 L835.5 2239.3 L837 2239.2 L838.5 2239.2 L840 2239.2 L841.5 2239.2 L843 2239.2 L844.5 2239.2 L846 2239.2 L847.5 2239.2 L849 2239.2 L850.5 2239.2 L852 2239.2 L853.5 2239.2 L855 2239.2 L856.5 2239.2 L858 2239.1 L859.5 2239.1 L861 2239.1 L862.5 2239.1 L864 2239.1 L865.5 2239.1 L867 2239.1 L868.5 2239.1 L870 2239.1 L871.5 2239.1 L873 2239.1 L874.5 2239.1 L876 2239.1 L877.5 2239.1 L879 2239.1 L880.5 2239 L882 2239 L883.5 2239 L885 2239 L886.5 2239 L888 2239 L889.5 2239 L891 2239 L892.5 2239 L894 2239 L895.5 2239 L897 2239 L898.5 2239 L900 2239 L901.5 2238.9 L903 2238.9 L904.5 2238.9 L906 2238.9 L907.5 2238.9 L909 2238.9 L910.5 2238.9 L912 2238.9 L913.5 2238.9 L915 2238.9 L916.5 2238.9 L918 2238.9 L919.5 2238.9 L921 2238.9 L922.5 2238.9 L924 2238.8 L925.5 2238.8 L927 2238.8 L928.5 2238.8 L930 2238.8 L931.5 2238.8 L933 2238.8 L934.5 2238.8 L936 2238.8 L937.5 2238.8 L939 2238.8 L940.5 2238.8 L942 2238.8 L943.5 2238.8 L945 2238.7 L946.5 2238.7 L948 2238.7 L949.5 2238.7 L951 2238.7 L952.5 2238.7 L954 2238.7 L955.5 2238.7 L957 2238.7 L958.5 2238.7 L960 2238.7 L961.5 2238.7 L963 2238.7 L964.5 2238.7 L966 2238.6 L967.5 2238.6 L969 2238.6 L970.5 2238.6 L972 2238.6 L973.5 2238.6 L975 2238.6 L976.5 2238.6 L978 2238.6 L979.5 2238.6 L981 2238.6 L982.5 2238.6 L984 2238.6 L985.5 2238.6 L987 2238.6 L988.5 2238.5 L990 2238.5 L991.5 2238.5 L993 2238.5 L994.5 2238.5 L996 2238.5 L997.5 2238.5 L999 2238.5 L1000.5 2238.5 L1002 2238.5 L1003.5 2238.5 L1005 2238.5 L1006.5 2238.5 L1008 2238.5 L1009.5 2238.4 L1011 2238.4 L1012.5 2238.4 L1014 2238.4 L1015.5 2238.4 L1017 2238.4 L1018.5 2238.4 L1020 2238.4" fill="none" stroke="#000000" stroke-width="3.2" stroke-linejoin="round"/>
<path d="M726.5 1908.5 l6.5 -4 v8 z" fill="#111" stroke="#111" stroke-width="1"/>
<line x1="208.2" y1="2282.2" x2="208.2" y2="2295.7" stroke="#6c6c6c" stroke-width="3.8"/>
<line x1="262.3" y1="2282.2" x2="262.3" y2="2290.7" stroke="#6c6c6c" stroke-width="3.3"/>
<line x1="316.3" y1="2282.2" x2="316.3" y2="2290.7" stroke="#6c6c6c" stroke-width="3.3"/>
<line x1="370.4" y1="2282.2" x2="370.4" y2="2295.7" stroke="#6c6c6c" stroke-width="3.8"/>
<line x1="424.5" y1="2282.2" x2="424.5" y2="2290.7" stroke="#6c6c6c" stroke-width="3.3"/>
<line x1="478.5" y1="2282.2" x2="478.5" y2="2290.7" stroke="#6c6c6c" stroke-width="3.3"/>
<line x1="532.6" y1="2282.2" x2="532.6" y2="2295.7" stroke="#6c6c6c" stroke-width="3.8"/>
<line x1="586.7" y1="2282.2" x2="586.7" y2="2290.7" stroke="#6c6c6c" stroke-width="3.3"/>
<line x1="640.7" y1="2282.2" x2="640.7" y2="2290.7" stroke="#6c6c6c" stroke-width="3.3"/>
<line x1="694.8" y1="2282.2" x2="694.8" y2="2295.7" stroke="#6c6c6c" stroke-width="3.8"/>
<line x1="748.9" y1="2282.2" x2="748.9" y2="2290.7" stroke="#6c6c6c" stroke-width="3.3"/>
<line x1="802.9" y1="2282.2" x2="802.9" y2="2290.7" stroke="#6c6c6c" stroke-width="3.3"/>
<line x1="857" y1="2282.2" x2="857" y2="2295.7" stroke="#6c6c6c" stroke-width="3.8"/>
<line x1="911.1" y1="2282.2" x2="911.1" y2="2290.7" stroke="#6c6c6c" stroke-width="3.3"/>
<line x1="965.1" y1="2282.2" x2="965.1" y2="2290.7" stroke="#6c6c6c" stroke-width="3.3"/>
<line x1="1019.2" y1="2282.2" x2="1019.2" y2="2295.7" stroke="#6c6c6c" stroke-width="3.8"/>
<text x="208.2" y="2331.2" font-size="34" text-anchor="middle" class="b">50</text>
<text x="370.4" y="2331.2" font-size="34" text-anchor="middle" class="b">75</text>
<text x="532.6" y="2331.2" font-size="34" text-anchor="middle" class="b">100</text>
<text x="694.8" y="2331.2" font-size="34" text-anchor="middle" class="b">125</text>
<text x="857" y="2331.2" font-size="34" text-anchor="middle" class="b">150</text>
<text x="1019.2" y="2331.2" font-size="34" text-anchor="middle" class="b">175</text>
<text x="423.3" y="2387.5" font-size="41.5" class="b" textLength="350" lengthAdjust="spacing">Temperature (<tspan font-size="24.1" dy="-24.9">o</tspan><tspan dy="24.9">C)</tspan></text>
<text transform="translate(140.9 1998.9) rotate(-90)" font-size="48" class="b" text-anchor="middle" textLength="360" lengthAdjust="spacingAndGlyphs">Heat Flow (mW)</text>
<text class="b"><tspan x="56.1" y="1719.8" font-size="79" textLength="23" lengthAdjust="spacingAndGlyphs">(</tspan><tspan x="83.6" y="1720" font-size="75.5" textLength="45.8" lengthAdjust="spacingAndGlyphs">C</tspan><tspan x="130.4" y="1719.8" font-size="79" textLength="23" lengthAdjust="spacingAndGlyphs">)</tspan></text>
<text x="312.5" y="1709.1" font-size="46" class="b">T50/MA</text>
<text x="312.6" y="1806.5" font-size="41.5" class="b">T50</text>
<text x="312.6" y="1903.5" font-size="42" class="b">T70/MA</text>
<text x="312.6" y="2007.3" font-size="41.5" class="b">T70</text>
<text x="312.6" y="2118" font-size="42" class="b">T90/MA</text>
<text x="312.6" y="2211.2" font-size="41.5" class="b">T90</text>
</g>
<g class="t" filter="url(#soft2)">
<rect x="1062.2" y="50.6" width="313.5" height="92.7" fill="#000"/>
<line x1="1064.2" y1="142.5" x2="1939.4" y2="142.5" stroke="#111" stroke-width="3"/>
<line x1="1064.2" y1="233" x2="1939.4" y2="233" stroke="#111" stroke-width="3"/>
<line x1="1064.2" y1="323.7" x2="1939.4" y2="323.7" stroke="#2a2a2a" stroke-width="4"/>
<line x1="1064.2" y1="414.5" x2="1939.4" y2="414.5" stroke="#3a3a3a" stroke-width="4.6"/>
<line x1="1064.2" y1="505.7" x2="1939.4" y2="505.7" stroke="#111" stroke-width="3"/>
<line x1="1064.2" y1="597.1" x2="1939.4" y2="597.1" stroke="#111" stroke-width="3.4"/>
<line x1="1374.1" y1="51.6" x2="1374.1" y2="687.2" stroke="#111" stroke-width="3.2"/>
<line x1="1632.6" y1="51.6" x2="1632.6" y2="687.2" stroke="#111" stroke-width="3.2"/>
<rect x="1062.2" y="50.6" width="313.5" height="92.7" fill="#000"/>
<rect x="1064.2" y="51.6" width="875.2" height="635.6" fill="none" stroke="#525252" stroke-width="4.2"/>
<rect x="1062.2" y="50.6" width="313.5" height="92.7" fill="#000"/>
<text x="1109.5" y="116.4" font-size="55" class="b w s4">1<tspan font-size="36.7" dy="-14.9">st</tspan><tspan dy="14.9" dx="0"> route</tspan></text>
<text x="1503.3" y="116.4" font-size="55" class="b s2" text-anchor="middle">Tc (<tspan font-size="36.7" dy="-14.9">o</tspan><tspan dy="14.9">C)</tspan></text>
<text x="1786" y="116.4" font-size="55" class="b s3" text-anchor="middle">ΔHc (J/g)</text>
<text x="1090.3" y="207.8" font-size="55" class="b s1">T50/MA</text>
<text x="1504.5" y="207.8" font-size="55" class="b" text-anchor="middle">117.7</text>
<text x="1786.8" y="207.8" font-size="55" class="b" text-anchor="middle">49.6</text>
<text x="1090.3" y="298.6" font-size="55" class="b s1">T50</text>
<text x="1504.5" y="298.6" font-size="55" class="b" text-anchor="middle">119.1</text>
<text x="1786.8" y="298.6" font-size="55" class="b" text-anchor="middle">50.0</text>
<text x="1090.3" y="389.5" font-size="55" class="b s1">T70/MA</text>
<text x="1504.5" y="389.5" font-size="55" class="b" text-anchor="middle">116.6</text>
<text x="1786.8" y="389.5" font-size="55" class="b" text-anchor="middle">30.8</text>
<text x="1090.3" y="480.4" font-size="55" class="b s1">T70</text>
<text x="1504.5" y="480.4" font-size="55" class="b" text-anchor="middle">119.6</text>
<text x="1786.8" y="480.4" font-size="55" class="b" text-anchor="middle">35.3</text>
<text x="1090.3" y="571.5" font-size="55" class="b s1">T90/MA</text>
<text x="1504.5" y="571.5" font-size="55" class="b" text-anchor="middle">66.4</text>
<text x="1786.8" y="571.5" font-size="55" class="b" text-anchor="middle">12.6</text>
<text x="1090.3" y="661.1" font-size="55" class="b s1">T90</text>
<text x="1504.5" y="661.1" font-size="55" class="b" text-anchor="middle">63.1</text>
<text x="1786.8" y="661.1" font-size="55" class="b" text-anchor="middle">13.8</text>
</g>
<g class="t" filter="url(#soft2)">
<rect x="1061.9" y="848.4" width="318.1" height="95" fill="#000"/>
<line x1="1063.9" y1="942.6" x2="1939.4" y2="942.6" stroke="#111" stroke-width="3"/>
<line x1="1063.9" y1="1035.7" x2="1939.4" y2="1035.7" stroke="#111" stroke-width="3"/>
<line x1="1063.9" y1="1129" x2="1939.4" y2="1129" stroke="#111" stroke-width="3"/>
<line x1="1063.9" y1="1222.6" x2="1939.4" y2="1222.6" stroke="#3a3a3a" stroke-width="4.8"/>
<line x1="1063.9" y1="1316" x2="1939.4" y2="1316" stroke="#222" stroke-width="3.8"/>
<line x1="1063.9" y1="1409.3" x2="1939.4" y2="1409.3" stroke="#111" stroke-width="3.2"/>
<line x1="1378.4" y1="849.4" x2="1378.4" y2="1502" stroke="#111" stroke-width="3.2"/>
<line x1="1636.1" y1="849.4" x2="1636.1" y2="1502" stroke="#3c3c3c" stroke-width="4.5"/>
<rect x="1061.9" y="848.4" width="318.1" height="95" fill="#000"/>
<path d="M1063.9 1503.6 V849.4 H1939.4 V1503.6" fill="none" stroke="#525252" stroke-width="4.2"/>
<line x1="1061.8" y1="1502" x2="1941.5" y2="1502" stroke="#111" stroke-width="3.2"/>
<rect x="1061.9" y="848.4" width="318.1" height="95" fill="#000"/>
<text x="1103" y="915.6" font-size="55" class="b w s4">2<tspan font-size="36.7" dy="-14.9">nd</tspan><tspan dy="14.9" dx="2"> route</tspan></text>
<text x="1507.2" y="915.6" font-size="55" class="b s2" text-anchor="middle">Tc (<tspan font-size="36.7" dy="-14.9">o</tspan><tspan dy="14.9">C)</tspan></text>
<text x="1787.8" y="915.6" font-size="55" class="b s3" text-anchor="middle">ΔHc (J/g)</text>
<text x="1090.3" y="1010" font-size="55" class="b s1">T50/MA</text>
<text x="1508.5" y="1010" font-size="55" class="b" text-anchor="middle">120.0</text>
<text x="1788.5" y="1010" font-size="55" class="b" text-anchor="middle">35.6</text>
<text x="1090.3" y="1102.7" font-size="55" class="b s1">T50</text>
<text x="1508.5" y="1102.7" font-size="55" class="b" text-anchor="middle">118.5</text>
<text x="1788.5" y="1102.7" font-size="55" class="b" text-anchor="middle">42.7</text>
<text x="1090.3" y="1196.3" font-size="55" class="b s1">T70/MA</text>
<text x="1508.5" y="1196.3" font-size="55" class="b" text-anchor="middle">117.4</text>
<text x="1788.5" y="1196.3" font-size="55" class="b" text-anchor="middle">26.8</text>
<text x="1090.3" y="1290.4" font-size="55" class="b s1">T70</text>
<text x="1508.5" y="1290.4" font-size="55" class="b" text-anchor="middle">122.4</text>
<text x="1788.5" y="1290.4" font-size="55" class="b" text-anchor="middle">28.9</text>
<text x="1090.3" y="1383.6" font-size="55" class="b s1">T90/MA</text>
<text x="1508.5" y="1383.6" font-size="55" class="b" text-anchor="middle">59.5</text>
<text x="1788.5" y="1383.6" font-size="55" class="b" text-anchor="middle">2.9</text>
<text x="1090.3" y="1476.4" font-size="55" class="b s1">T90</text>
<text x="1508.5" y="1476.4" font-size="55" class="b" text-anchor="middle">124.4</text>
<text x="1788.5" y="1476.4" font-size="55" class="b" text-anchor="middle">3.8</text>
</g>
<g class="t" filter="url(#soft2)">
<rect x="1062" y="1645.6" width="321.5" height="92.7" fill="#000"/>
<line x1="1064" y1="1737.5" x2="1939.4" y2="1737.5" stroke="#111" stroke-width="3"/>
<line x1="1064" y1="1828" x2="1939.4" y2="1828" stroke="#111" stroke-width="3"/>
<line x1="1064" y1="1918.7" x2="1939.4" y2="1918.7" stroke="#2a2a2a" stroke-width="4"/>
<line x1="1064" y1="2009.5" x2="1939.4" y2="2009.5" stroke="#3a3a3a" stroke-width="4.6"/>
<line x1="1064" y1="2100.7" x2="1939.4" y2="2100.7" stroke="#111" stroke-width="3"/>
<line x1="1064" y1="2192.1" x2="1939.4" y2="2192.1" stroke="#111" stroke-width="3.4"/>
<line x1="1381.9" y1="1646.6" x2="1381.9" y2="2282.2" stroke="#3c3c3c" stroke-width="4.5"/>
<line x1="1640.7" y1="1646.6" x2="1640.7" y2="2282.2" stroke="#111" stroke-width="3.2"/>
<rect x="1062" y="1645.6" width="321.5" height="92.7" fill="#000"/>
<rect x="1064" y="1646.6" width="875.4" height="635.6" fill="none" stroke="#525252" stroke-width="4.2"/>
<rect x="1062" y="1645.6" width="321.5" height="92.7" fill="#000"/>
<text x="1101" y="1711.2" font-size="55" class="b w s4">3<tspan font-size="36.7" dy="-14.9">rd</tspan><tspan dy="14.9" dx="12"> route</tspan></text>
<text x="1511.3" y="1711.2" font-size="55" class="b s2" text-anchor="middle">Tc (<tspan font-size="36.7" dy="-14.9">o</tspan><tspan dy="14.9">C)</tspan></text>
<text x="1790.1" y="1711.2" font-size="55" class="b s3" text-anchor="middle">ΔHc (J/g)</text>
<text x="1090.3" y="1802.8" font-size="55" class="b s1">T50/MA</text>
<text x="1512.5" y="1802.8" font-size="55" class="b" text-anchor="middle">121.3</text>
<text x="1790.9" y="1802.8" font-size="55" class="b" text-anchor="middle">39.3</text>
<text x="1090.3" y="1893.6" font-size="55" class="b s1">T50</text>
<text x="1512.5" y="1893.6" font-size="55" class="b" text-anchor="middle">122.5</text>
<text x="1790.9" y="1893.6" font-size="55" class="b" text-anchor="middle">43.8</text>
<text x="1090.3" y="1984.5" font-size="55" class="b s1">T70/MA</text>
<text x="1512.5" y="1984.5" font-size="55" class="b" text-anchor="middle">120.9</text>
<text x="1790.9" y="1984.5" font-size="55" class="b" text-anchor="middle">28.9</text>
<text x="1090.3" y="2075.4" font-size="55" class="b s1">T70</text>
<text x="1512.5" y="2075.4" font-size="55" class="b" text-anchor="middle">123.5</text>
<text x="1790.9" y="2075.4" font-size="55" class="b" text-anchor="middle">26.9</text>
<text x="1090.3" y="2166.5" font-size="55" class="b s1">T90/MA</text>
<text x="1512.5" y="2166.5" font-size="55" class="b" text-anchor="middle">115.4</text>
<text x="1790.9" y="2166.5" font-size="55" class="b" text-anchor="middle">6.2</text>
<text x="1090.3" y="2256.1" font-size="55" class="b s1">T90</text>
<text x="1512.5" y="2256.1" font-size="55" class="b" text-anchor="middle">124.7</text>
<text x="1790.9" y="2256.1" font-size="55" class="b" text-anchor="middle">10.6</text>
</g>
</svg></body></html>
